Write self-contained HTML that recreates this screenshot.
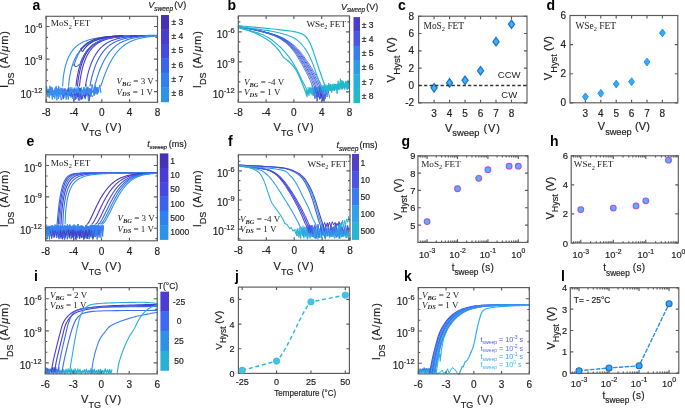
<!DOCTYPE html>
<html><head><meta charset="utf-8"><style>
html,body{margin:0;padding:0;background:#fff;}
svg{display:block;filter:blur(0.35px);}
</style></head><body>
<svg width="685" height="409" viewBox="0 0 685 409">
<rect width="685" height="409" fill="#fff"/>
<path d="M46.60,89.04 L47.45,95.66 L48.22,89.29 L49.09,92.33 L49.90,89.83 L50.93,91.92 L51.58,87.41 L52.62,94.62 L53.06,91.42 L54.23,94.44 L55.12,87.71 L55.53,93.88 L55.98,87.86 L56.58,91.64 L57.35,88.98 L58.42,93.84 L59.33,89.25 L60.26,93.56 L60.89,91.49 L62.08,95.28 L63.05,88.42 L63.63,92.80 L64.09,90.45 L64.81,95.31 L65.52,91.31 L66.60,91.50 L67.16,91.10 L67.94,95.91 L68.66,87.33 L69.56,95.00 L70.18,87.39 L70.84,95.84 L71.85,87.53 L72.45,91.95 L72.89,90.59 L73.44,94.02 L74.19,87.86 L75.18,92.09 L76.09,87.52 L76.83,92.46 L77.45,91.37 L78.49,92.87 L79.60,87.95 L80.31,95.34 L81.23,87.45 L82.42,92.46 L83.02,90.48 L83.69,92.83 L84.15,87.41 L85.01,92.59 L85.89,88.67 L86.66,95.82 L87.44,89.59 L88.54,92.32 L89.06,91.09 L90.11,92.62 L90.67,90.33 L91.82,92.38 L92.98,90.97 L93.86,93.40 L94.34,87.17 L95.51,92.57 L96.48,88.16 L97.54,94.18 L98.17,87.79" fill="none" stroke="#3a8ef0" stroke-width="1.1" stroke-linejoin="round" stroke-linecap="round" opacity="1" />
<path d="M46.60,86.38 L47.26,94.58 L48.47,89.38 L49.17,96.55 L49.81,86.09 L50.50,93.95 L51.01,86.97 L51.79,94.65 L52.36,87.99 L53.61,96.89 L54.65,89.80 L55.62,92.27 L56.11,86.10 L57.38,95.36 L58.69,86.12 L59.71,94.15 L60.82,87.75 L62.17,91.91 L63.11,90.05 L64.37,95.55 L65.46,90.36 L66.73,93.44 L67.80,90.95 L69.03,93.79 L70.19,90.75 L71.16,94.94 L71.95,89.20 L72.95,91.94 L73.97,91.46 L75.22,95.51 L76.02,90.04 L76.99,93.92 L78.19,86.46 L79.32,91.66 L80.31,88.65 L80.97,95.34 L81.86,89.38 L83.14,92.91 L83.60,87.66 L84.66,92.61 L85.27,90.98 L86.31,93.93 L87.56,87.80 L88.61,92.59 L89.45,90.43 L90.72,96.34 L91.52,89.21 L92.25,92.25 L93.15,90.60 L94.36,95.41 L95.67,87.52 L96.27,93.98 L96.97,87.18" fill="none" stroke="#3a8ef0" stroke-width="1.1" stroke-linejoin="round" stroke-linecap="round" opacity="1" />
<path d="M46.60,92.22 L47.89,96.88 L49.63,94.63 L50.87,95.25 L51.56,93.89 L52.27,99.53 L53.66,90.09 L55.34,94.88 L56.16,91.07 L56.85,100.35 L57.80,88.95 L58.52,99.00 L59.75,92.25 L61.25,100.20 L63.14,92.62 L64.05,97.96 L64.93,88.07 L66.20,99.57 L67.08,89.84 L68.18,99.46 L69.51,92.15 L71.14,97.41 L72.82,94.12 L73.58,101.05 L75.17,88.88 L76.41,98.97 L78.24,90.54 L79.63,100.69 L81.32,94.37 L82.57,99.15 L83.49,92.87 L85.20,99.08 L86.79,89.44 L88.61,101.37 L90.53,91.62 L92.20,96.91 L94.04,93.78" fill="none" stroke="#3388f0" stroke-width="0.9" stroke-linejoin="round" stroke-linecap="round" opacity="1" />
<path d="M46.60,87.50 L47.54,96.30 L48.81,89.92 L49.34,97.85 L49.90,91.80 L50.57,95.01 L51.86,87.84 L52.51,96.10 L53.73,92.04 L54.92,98.67 L55.92,92.69 L56.50,94.33 L57.53,88.74 L58.76,96.83 L59.78,92.06 L60.84,94.87 L61.72,92.07 L63.12,94.25 L64.47,92.81 L65.50,96.44 L66.20,90.22 L67.20,96.63 L67.73,92.82 L68.75,95.40 L70.05,90.38 L71.04,97.15 L71.60,90.23 L72.52,98.74 L73.94,88.62 L74.91,93.76 L75.85,91.89 L77.25,95.86 L78.07,88.15 L79.18,98.55 L79.81,91.68" fill="none" stroke="#2f95ee" stroke-width="0.9" stroke-linejoin="round" stroke-linecap="round" opacity="1" />
<path d="M62.00,88.41 L63.16,99.23 L64.48,89.58 L66.27,95.01 L68.24,87.89 L69.86,96.07 L70.97,90.85 L72.47,96.97 L73.93,90.84 L74.99,95.73 L76.80,91.63 L78.45,100.42 L80.23,93.21 L81.40,99.62 L83.49,93.54 L84.80,96.53 L87.08,88.58 L89.47,100.68 L90.49,88.74" fill="none" stroke="#4a50dc" stroke-width="0.9" stroke-linejoin="round" stroke-linecap="round" opacity="1" />
<path d="M74.00,89.69 L75.07,99.91 L76.73,93.13 L77.86,97.12 L79.99,88.12 L81.26,98.94 L83.80,94.29 L84.90,97.79 L87.17,91.27 L89.30,95.73" fill="none" stroke="#4a40d0" stroke-width="0.9" stroke-linejoin="round" stroke-linecap="round" opacity="1" />
<path d="M86.00,84.53 L86.64,91.76 L87.86,86.84 L88.64,89.92 L89.48,88.20 L91.27,93.63 L91.99,84.31 L93.73,91.31 L95.25,85.63 L96.41,91.58 L97.52,87.00 L98.14,92.51 L99.75,84.91 L100.90,92.70" fill="none" stroke="#3a7ff0" stroke-width="1.0" stroke-linejoin="round" stroke-linecap="round" opacity="1" />
<path d="M46.60,89.59 L47.07,93.54 L47.43,91.68 L48.34,94.11 L49.29,90.89 L49.92,93.80 L50.63,91.95 L51.54,92.77 L52.53,91.23 L53.42,94.44 L54.06,91.69 L55.02,94.08 L55.91,91.30 L56.54,94.17 L56.94,90.03 L57.62,92.03 L58.22,90.92 L59.01,92.70 L60.02,91.00 L60.60,93.98 L61.35,90.60 L61.98,95.00 L62.78,91.10 L63.66,94.94 L64.02,90.85 L64.89,92.77 L65.52,89.15 L66.01,93.13 L66.43,89.75 L67.41,93.65 L68.12,91.90 L68.87,94.99 L69.66,91.43 L70.07,93.79 L70.95,89.14 L71.95,92.48 L72.63,89.51 L73.32,93.83 L73.72,91.84 L74.36,93.58 L75.13,90.10 L75.68,93.97 L76.42,89.85 L77.27,92.89 L77.63,89.74 L78.01,92.47 L78.89,90.17 L79.87,94.25 L80.25,91.97 L81.27,92.22 L82.25,90.29 L82.93,94.92 L83.45,90.57 L84.46,94.17 L85.14,91.94 L86.06,93.81 L86.49,90.87 L87.16,92.61 L87.55,90.58 L87.98,93.33 L88.80,90.37 L89.33,93.75 L89.98,91.33 L90.70,94.99 L91.72,91.20 L92.23,92.34 L93.21,91.35 L94.00,93.08 L94.54,91.06 L95.28,93.78 L96.07,91.26 L96.56,92.75 L97.59,91.75 L98.56,92.12 L98.95,89.81" fill="none" stroke="#3a8ef0" stroke-width="1.0" stroke-linejoin="round" stroke-linecap="round" opacity="1" />
<path d="M62.60,86.00 L63.30,77.28 L64.00,72.61 L64.70,69.03 L65.40,66.10 L66.10,63.61 L66.80,61.45 L67.50,59.55 L68.20,57.85 L68.90,56.34 L69.60,54.96 L70.30,53.72 L71.00,52.58 L71.70,51.54 L72.40,50.58 L73.10,49.70 L73.80,48.88 L74.50,48.13 L75.20,47.42 L75.90,46.77 L76.60,46.16 L77.30,45.59 L78.00,45.06 L78.70,44.56 L79.40,44.10 L80.10,43.66 L80.80,43.25 L81.50,42.86 L82.20,42.49 L82.90,42.15 L83.60,41.83 L84.30,41.52 L85.00,41.23 L85.70,40.96 L86.40,40.70 L87.10,40.45 L87.80,40.22 L88.50,40.00 L89.20,39.79 L89.90,39.59 L90.60,39.41 L91.30,39.23 L92.00,39.06 L92.70,38.90 L93.40,38.74 L94.10,38.60 L94.80,38.46 L95.50,38.32 L96.20,38.20 L96.90,38.08 L97.60,37.96 L98.30,37.85 L99.00,37.75 L99.70,37.65 L100.40,37.55 L101.10,37.46 L101.80,37.37 L102.50,37.29 L103.20,37.21 L103.90,37.13 L104.60,37.06 L105.30,36.99 L106.00,36.92 L106.70,36.86 L107.40,36.79 L108.10,36.73 L108.80,36.68 L109.50,36.62 L110.20,36.57 L110.90,36.52 L111.60,36.47 L112.30,36.43 L113.00,36.38 L113.70,36.34 L114.40,36.30 L115.10,36.26 L115.80,36.22 L116.50,36.19 L117.20,36.15 L117.90,36.12 L118.60,36.09 L119.30,36.06 L120.00,36.03 L120.70,36.00 L121.40,35.97 L122.10,35.94 L122.80,35.92 L123.50,35.89 L124.20,35.87 L124.90,35.85 L125.60,35.83 L126.30,35.81 L127.00,35.79 L127.70,35.77 L128.40,35.75 L129.10,35.73 L129.80,35.71 L130.50,35.69 L131.20,35.68 L131.90,35.66 L132.60,35.65 L133.30,35.63 L134.00,35.62 L134.70,35.61 L135.40,35.59 L136.10,35.58 L136.80,35.57 L137.50,35.56 L138.20,35.54 L138.90,35.53 L139.60,35.52 L140.30,35.51 L141.00,35.50 L141.70,35.49 L142.40,35.48 L143.10,35.48 L143.80,35.47 L144.50,35.46 L145.20,35.45 L145.90,35.44 L146.60,35.44 L147.30,35.43 L148.00,35.42 L148.70,35.41 L149.40,35.41 L150.10,35.40 L150.80,35.40 L151.50,35.39 L152.20,35.38 L152.90,35.38 L153.60,35.37 L154.30,35.37 L155.00,35.36 L155.70,35.36 L156.40,35.35 L157.10,35.35 L157.50,35.35" fill="none" stroke="#2f8ff0" stroke-width="1.1" stroke-linejoin="round" stroke-linecap="round" opacity="1" />
<path d="M100.80,86.00 L101.50,83.98 L102.20,81.90 L102.90,79.87 L103.60,77.88 L104.30,75.97 L105.00,74.12 L105.70,72.34 L106.40,70.63 L107.10,68.98 L107.80,67.41 L108.50,65.90 L109.20,64.46 L109.90,63.08 L110.60,61.76 L111.30,60.49 L112.00,59.29 L112.70,58.13 L113.40,57.03 L114.10,55.98 L114.80,54.98 L115.50,54.02 L116.20,53.11 L116.90,52.24 L117.60,51.41 L118.30,50.62 L119.00,49.86 L119.70,49.15 L120.40,48.46 L121.10,47.81 L121.80,47.19 L122.50,46.60 L123.20,46.03 L123.90,45.50 L124.60,44.99 L125.30,44.50 L126.00,44.04 L126.70,43.60 L127.40,43.18 L128.10,42.78 L128.80,42.40 L129.50,42.04 L130.20,41.70 L130.90,41.38 L131.60,41.07 L132.30,40.77 L133.00,40.49 L133.70,40.22 L134.40,39.97 L135.10,39.73 L135.80,39.50 L136.50,39.28 L137.20,39.08 L137.90,38.88 L138.60,38.69 L139.30,38.52 L140.00,38.35 L140.70,38.19 L141.40,38.04 L142.10,37.89 L142.80,37.76 L143.50,37.62 L144.20,37.50 L144.90,37.38 L145.60,37.27 L146.30,37.17 L147.00,37.07 L147.70,36.97 L148.40,36.88 L149.10,36.79 L149.80,36.71 L150.50,36.63 L151.20,36.56 L151.90,36.49 L152.60,36.42 L153.30,36.36 L154.00,36.30 L154.70,36.24 L155.40,36.19 L156.10,36.14 L156.80,36.09 L157.50,36.04 L157.50,36.04" fill="none" stroke="#2f8ff0" stroke-width="1.1" stroke-linejoin="round" stroke-linecap="round" opacity="1" />
<path d="M68.60,86.00 L69.30,79.04 L70.00,74.85 L70.70,71.51 L71.40,68.69 L72.10,66.25 L72.80,64.08 L73.50,62.15 L74.20,60.41 L74.90,58.83 L75.60,57.39 L76.30,56.07 L77.00,54.85 L77.70,53.73 L78.40,52.70 L79.10,51.73 L79.80,50.84 L80.50,50.00 L81.20,49.23 L81.90,48.50 L82.60,47.82 L83.30,47.18 L84.00,46.58 L84.70,46.02 L85.40,45.49 L86.10,44.99 L86.80,44.52 L87.50,44.08 L88.20,43.66 L88.90,43.26 L89.60,42.89 L90.30,42.54 L91.00,42.20 L91.70,41.89 L92.40,41.59 L93.10,41.30 L93.80,41.03 L94.50,40.78 L95.20,40.53 L95.90,40.30 L96.60,40.08 L97.30,39.87 L98.00,39.67 L98.70,39.48 L99.40,39.30 L100.10,39.13 L100.80,38.97 L101.50,38.81 L102.20,38.66 L102.90,38.52 L103.60,38.39 L104.30,38.26 L105.00,38.13 L105.70,38.01 L106.40,37.90 L107.10,37.79 L107.80,37.69 L108.50,37.59 L109.20,37.50 L109.90,37.41 L110.60,37.32 L111.30,37.24 L112.00,37.16 L112.70,37.09 L113.40,37.01 L114.10,36.94 L114.80,36.88 L115.50,36.81 L116.20,36.75 L116.90,36.69 L117.60,36.64 L118.30,36.58 L119.00,36.53 L119.70,36.48 L120.40,36.44 L121.10,36.39 L121.80,36.35 L122.50,36.30 L123.20,36.26 L123.90,36.23 L124.60,36.19 L125.30,36.15 L126.00,36.12 L126.70,36.09 L127.40,36.05 L128.10,36.02 L128.80,35.99 L129.50,35.97 L130.20,35.94 L130.90,35.91 L131.60,35.89 L132.30,35.86 L133.00,35.84 L133.70,35.82 L134.40,35.80 L135.10,35.77 L135.80,35.75 L136.50,35.74 L137.20,35.72 L137.90,35.70 L138.60,35.68 L139.30,35.67 L140.00,35.65 L140.70,35.63 L141.40,35.62 L142.10,35.61 L142.80,35.59 L143.50,35.58 L144.20,35.57 L144.90,35.55 L145.60,35.54 L146.30,35.53 L147.00,35.52 L147.70,35.51 L148.40,35.50 L149.10,35.49 L149.80,35.48 L150.50,35.47 L150.54,35.47" fill="none" stroke="#3480ef" stroke-width="1.1" stroke-linejoin="round" stroke-linecap="round" opacity="1" />
<path d="M94.70,86.00 L95.40,83.43 L96.10,81.00 L96.80,78.68 L97.50,76.48 L98.20,74.40 L98.90,72.42 L99.60,70.54 L100.30,68.75 L101.00,67.06 L101.70,65.45 L102.40,63.92 L103.10,62.47 L103.80,61.09 L104.50,59.78 L105.20,58.54 L105.90,57.36 L106.60,56.24 L107.30,55.18 L108.00,54.17 L108.70,53.21 L109.40,52.30 L110.10,51.43 L110.80,50.61 L111.50,49.84 L112.20,49.10 L112.90,48.39 L113.60,47.73 L114.30,47.09 L115.00,46.49 L115.70,45.92 L116.40,45.38 L117.10,44.87 L117.80,44.38 L118.50,43.91 L119.20,43.47 L119.90,43.06 L120.60,42.66 L121.30,42.28 L122.00,41.92 L122.70,41.58 L123.40,41.26 L124.10,40.96 L124.80,40.66 L125.50,40.39 L126.20,40.13 L126.90,39.88 L127.60,39.64 L128.30,39.42 L129.00,39.20 L129.70,39.00 L130.40,38.81 L131.10,38.63 L131.80,38.45 L132.50,38.29 L133.20,38.13 L133.90,37.98 L134.60,37.84 L135.30,37.71 L136.00,37.58 L136.70,37.46 L137.40,37.35 L138.10,37.24 L138.80,37.14 L139.50,37.04 L140.20,36.95 L140.90,36.86 L141.60,36.77 L142.30,36.69 L143.00,36.62 L143.70,36.55 L144.40,36.48 L145.10,36.41 L145.80,36.35 L146.50,36.30 L147.20,36.24 L147.90,36.19 L148.60,36.14 L149.30,36.09 L150.00,36.05 L150.54,36.01" fill="none" stroke="#3480ef" stroke-width="1.1" stroke-linejoin="round" stroke-linecap="round" opacity="1" />
<path d="M76.00,86.00 L76.70,79.82 L77.40,75.74 L78.10,72.38 L78.80,69.49 L79.50,66.96 L80.20,64.70 L80.90,62.67 L81.60,60.83 L82.30,59.15 L83.00,57.62 L83.70,56.21 L84.40,54.92 L85.10,53.72 L85.80,52.62 L86.50,51.59 L87.20,50.64 L87.90,49.75 L88.60,48.92 L89.30,48.15 L90.00,47.43 L90.70,46.76 L91.40,46.13 L92.10,45.53 L92.80,44.98 L93.50,44.46 L94.20,43.97 L94.90,43.51 L95.60,43.08 L96.30,42.67 L97.00,42.29 L97.70,41.93 L98.40,41.58 L99.10,41.26 L99.80,40.96 L100.50,40.67 L101.20,40.40 L101.90,40.15 L102.60,39.90 L103.30,39.67 L104.00,39.46 L104.70,39.25 L105.40,39.06 L106.10,38.87 L106.80,38.70 L107.50,38.53 L108.20,38.37 L108.90,38.23 L109.60,38.08 L110.30,37.95 L111.00,37.82 L111.70,37.70 L112.40,37.59 L113.10,37.48 L113.80,37.37 L114.50,37.27 L115.20,37.18 L115.90,37.09 L116.60,37.00 L117.30,36.92 L118.00,36.85 L118.70,36.77 L119.40,36.70 L120.10,36.64 L120.80,36.57 L121.50,36.51 L122.20,36.45 L122.90,36.40 L123.60,36.35 L124.30,36.30 L125.00,36.25 L125.70,36.20 L126.40,36.16 L127.10,36.12 L127.80,36.08 L128.50,36.04 L129.20,36.01 L129.90,35.97 L130.60,35.94 L131.30,35.91 L132.00,35.88 L132.70,35.85 L133.40,35.82 L134.10,35.80 L134.80,35.77 L135.50,35.75 L136.20,35.72 L136.90,35.70 L137.60,35.68 L138.30,35.66 L139.00,35.64 L139.70,35.62 L140.40,35.61 L141.10,35.59 L141.80,35.57 L142.50,35.56 L143.20,35.54 L143.58,35.54" fill="none" stroke="#4a40d4" stroke-width="1.1" stroke-linejoin="round" stroke-linecap="round" opacity="1" />
<path d="M90.00,86.00 L90.70,82.07 L91.40,78.91 L92.10,76.11 L92.80,73.58 L93.50,71.26 L94.20,69.12 L94.90,67.14 L95.60,65.30 L96.30,63.59 L97.00,62.00 L97.70,60.50 L98.40,59.11 L99.10,57.80 L99.80,56.57 L100.50,55.42 L101.20,54.33 L101.90,53.31 L102.60,52.35 L103.30,51.45 L104.00,50.60 L104.70,49.79 L105.40,49.04 L106.10,48.32 L106.80,47.65 L107.50,47.01 L108.20,46.40 L108.90,45.83 L109.60,45.30 L110.30,44.78 L111.00,44.30 L111.70,43.85 L112.40,43.41 L113.10,43.00 L113.80,42.62 L114.50,42.25 L115.20,41.90 L115.90,41.57 L116.60,41.26 L117.30,40.96 L118.00,40.68 L118.70,40.41 L119.40,40.16 L120.10,39.91 L120.80,39.69 L121.50,39.47 L122.20,39.26 L122.90,39.07 L123.60,38.88 L124.30,38.70 L125.00,38.54 L125.70,38.38 L126.40,38.23 L127.10,38.08 L127.80,37.94 L128.50,37.81 L129.20,37.69 L129.90,37.57 L130.60,37.46 L131.30,37.35 L132.00,37.25 L132.70,37.16 L133.40,37.07 L134.10,36.98 L134.80,36.89 L135.50,36.82 L136.20,36.74 L136.90,36.67 L137.60,36.60 L138.30,36.54 L139.00,36.47 L139.70,36.41 L140.40,36.36 L141.10,36.31 L141.80,36.25 L142.50,36.21 L143.20,36.16 L143.58,36.14" fill="none" stroke="#3c63ec" stroke-width="1.1" stroke-linejoin="round" stroke-linecap="round" opacity="1" />
<path d="M77.50,86.00 L78.20,79.55 L78.90,75.31 L79.60,71.84 L80.30,68.87 L81.00,66.27 L81.70,63.96 L82.40,61.89 L83.10,60.02 L83.80,58.33 L84.50,56.78 L85.20,55.36 L85.90,54.07 L86.60,52.87 L87.30,51.77 L88.00,50.74 L88.70,49.80 L89.40,48.92 L90.10,48.11 L90.80,47.35 L91.50,46.64 L92.20,45.98 L92.90,45.37 L93.60,44.79 L94.30,44.25 L95.00,43.75 L95.70,43.28 L96.40,42.84 L97.10,42.42 L97.80,42.03 L98.50,41.66 L99.20,41.32 L99.90,40.99 L100.60,40.69 L101.30,40.40 L102.00,40.13 L102.70,39.88 L103.40,39.63 L104.10,39.41 L104.80,39.19 L105.50,38.99 L106.20,38.80 L106.90,38.62 L107.60,38.45 L108.30,38.29 L109.00,38.13 L109.70,37.99 L110.40,37.85 L111.10,37.72 L111.80,37.60 L112.50,37.48 L113.20,37.37 L113.90,37.27 L114.60,37.17 L115.30,37.07 L116.00,36.99 L116.70,36.90 L117.40,36.82 L118.10,36.74 L118.80,36.67 L119.50,36.60 L120.20,36.54 L120.90,36.47 L121.60,36.42 L122.30,36.36 L123.00,36.31 L123.70,36.26 L124.40,36.21 L125.10,36.16 L125.80,36.12 L126.50,36.08 L127.20,36.04 L127.90,36.00 L128.60,35.96 L129.30,35.93 L130.00,35.90 L130.70,35.86 L131.40,35.83 L132.10,35.81 L132.80,35.78 L133.50,35.75 L134.20,35.73 L134.90,35.71 L135.60,35.68 L136.30,35.66 L136.61,35.65" fill="none" stroke="#4633b4" stroke-width="1.1" stroke-linejoin="round" stroke-linecap="round" opacity="1" />
<path d="M85.50,86.00 L86.20,81.52 L86.90,78.07 L87.60,75.06 L88.30,72.37 L89.00,69.93 L89.70,67.71 L90.40,65.66 L91.10,63.78 L91.80,62.04 L92.50,60.43 L93.20,58.93 L93.90,57.54 L94.60,56.24 L95.30,55.02 L96.00,53.89 L96.70,52.83 L97.40,51.83 L98.10,50.90 L98.80,50.03 L99.50,49.21 L100.20,48.44 L100.90,47.72 L101.60,47.04 L102.30,46.40 L103.00,45.79 L103.70,45.23 L104.40,44.69 L105.10,44.19 L105.80,43.71 L106.50,43.26 L107.20,42.84 L107.90,42.44 L108.60,42.07 L109.30,41.71 L110.00,41.37 L110.70,41.05 L111.40,40.75 L112.10,40.47 L112.80,40.20 L113.50,39.95 L114.20,39.71 L114.90,39.48 L115.60,39.26 L116.30,39.06 L117.00,38.86 L117.70,38.68 L118.40,38.51 L119.10,38.34 L119.80,38.19 L120.50,38.04 L121.20,37.90 L121.90,37.76 L122.60,37.64 L123.30,37.52 L124.00,37.40 L124.70,37.30 L125.40,37.19 L126.10,37.10 L126.80,37.01 L127.50,36.92 L128.20,36.83 L128.90,36.76 L129.60,36.68 L130.30,36.61 L131.00,36.54 L131.70,36.48 L132.40,36.42 L133.10,36.36 L133.80,36.30 L134.50,36.25 L135.20,36.20 L135.90,36.15 L136.60,36.11 L136.61,36.11" fill="none" stroke="#4648e0" stroke-width="1.1" stroke-linejoin="round" stroke-linecap="round" opacity="1" />
<path d="M79.50,86.00 L80.20,79.55 L80.90,75.31 L81.60,71.84 L82.30,68.87 L83.00,66.27 L83.70,63.96 L84.40,61.89 L85.10,60.02 L85.80,58.33 L86.50,56.78 L87.20,55.36 L87.90,54.07 L88.60,52.87 L89.30,51.77 L90.00,50.74 L90.70,49.80 L91.40,48.92 L92.10,48.11 L92.80,47.35 L93.50,46.64 L94.20,45.98 L94.90,45.37 L95.60,44.79 L96.30,44.25 L97.00,43.75 L97.70,43.28 L98.40,42.84 L99.10,42.42 L99.80,42.03 L100.50,41.66 L101.20,41.32 L101.90,40.99 L102.60,40.69 L103.30,40.40 L104.00,40.13 L104.70,39.88 L105.40,39.63 L106.10,39.41 L106.80,39.19 L107.50,38.99 L108.20,38.80 L108.90,38.62 L109.60,38.45 L110.30,38.29 L111.00,38.13 L111.70,37.99 L112.40,37.85 L113.10,37.72 L113.80,37.60 L114.50,37.48 L115.20,37.37 L115.90,37.27 L116.60,37.17 L117.30,37.07 L118.00,36.99 L118.70,36.90 L119.40,36.82 L120.10,36.74 L120.80,36.67 L121.50,36.60 L122.20,36.54 L122.90,36.47 L123.60,36.42 L124.30,36.36 L125.00,36.31 L125.70,36.26 L126.40,36.21 L127.10,36.16 L127.80,36.12 L128.50,36.08 L129.20,36.04 L129.90,36.00 L130.60,35.96 L131.30,35.93 L132.00,35.90 L132.70,35.86 L133.40,35.83 L134.10,35.81 L134.80,35.78 L135.50,35.75 L136.20,35.73 L136.61,35.72" fill="none" stroke="#4a3ccf" stroke-width="1.1" stroke-linejoin="round" stroke-linecap="round" opacity="1" />
<path d="M74.00,65.52 L74.70,63.16 L75.40,61.05 L76.10,59.15 L76.80,57.44 L77.50,55.88 L78.20,54.46 L78.90,53.16 L79.60,51.97 L80.30,50.87 L81.00,49.86 L81.70,48.92 L82.40,48.06 L83.10,47.26 L83.80,46.51 L84.50,45.82 L85.20,45.18 L85.90,44.59 L86.60,44.03 L87.30,43.51 L88.00,43.03 L88.70,42.57 L89.40,42.15 L90.10,41.75 L90.80,41.38 L91.50,41.03 L92.20,40.71 L92.90,40.40 L93.60,40.11 L94.30,39.84 L95.00,39.59 L95.70,39.35 L96.40,39.13 L97.10,38.92 L97.80,38.72 L98.50,38.53 L99.20,38.36 L99.90,38.19 L100.60,38.03 L101.30,37.89 L102.00,37.75 L102.70,37.61 L103.40,37.49 L104.10,37.37 L104.80,37.26 L105.50,37.16 L106.20,37.06 L106.90,36.96 L107.60,36.87 L108.30,36.79 L109.00,36.71 L109.70,36.64 L110.40,36.57 L111.10,36.50 L111.80,36.43 L112.50,36.37 L113.20,36.32 L113.90,36.26 L114.60,36.21 L115.30,36.16 L116.00,36.11 L116.70,36.07 L117.40,36.03 L118.10,35.99 L118.80,35.95 L119.50,35.92 L120.20,35.88 L120.90,35.85 L121.60,35.82 L122.30,35.79 L123.00,35.76 L123.70,35.74 L124.40,35.71 L125.10,35.69 L125.80,35.66 L126.50,35.64 L127.20,35.62 L127.90,35.60 L128.60,35.58 L129.30,35.57 L129.65,35.56" fill="none" stroke="#3a7ff0" stroke-width="1.1" stroke-linejoin="round" stroke-linecap="round" opacity="1" />
<path d="M74.00,64.40 L74.12,64.60 L74.27,64.91 L74.45,65.27 L74.65,65.66 L74.88,66.02 L75.15,66.33 L75.46,66.54 L75.80,66.60 L76.22,66.51 L76.72,66.29 L77.28,65.98 L77.87,65.60 L78.45,65.19 L78.98,64.78 L79.44,64.41 L79.80,64.10 L80.05,63.83 L80.21,63.59 L80.30,63.36 L80.36,63.13 L80.38,62.92 L80.40,62.70 L80.44,62.49 L80.50,62.27 L80.59,62.05 L80.67,61.84 L80.76,61.63 L80.85,61.42 L80.94,61.21 L81.03,61.00 L81.11,60.80 L81.20,60.59 L81.29,60.39 L81.38,60.19 L81.46,60.00 L81.55,59.80 L81.64,59.61 L81.73,59.42 L81.81,59.23 L81.90,59.04 L81.99,58.86 L82.08,58.67 L82.16,58.49 L82.25,58.31 L82.34,58.13 L82.43,57.96 L82.51,57.78 L82.60,57.61 L82.69,57.44 L82.78,57.27 L82.86,57.10 L82.95,56.93 L83.04,56.77 L83.13,56.60 L83.21,56.44 L83.30,56.28 L83.39,56.12 L83.48,55.96 L83.56,55.80 L83.65,55.65 L83.74,55.49 L83.83,55.34 L83.91,55.19 L84.00,55.04 L84.09,54.89 L84.18,54.74 L84.26,54.60 L84.35,54.45 L84.44,54.31 L84.53,54.17 L84.61,54.03 L84.70,53.89 L84.79,53.75 L84.88,53.61 L84.96,53.48 L85.05,53.34 L85.14,53.21 L85.23,53.08 L85.31,52.94 L85.40,52.81 L85.49,52.68 L85.58,52.56 L85.66,52.43 L85.75,52.30 L85.84,52.18 L85.93,52.06 L86.01,51.93 L86.10,51.81 L86.19,51.69 L86.28,51.57 L86.36,51.45 L86.45,51.33 L86.54,51.22 L86.63,51.10 L86.71,50.99 L86.80,50.87 L86.89,50.76 L86.98,50.65 L87.06,50.54 L87.15,50.43 L87.24,50.32 L87.33,50.21 L87.41,50.10 L87.50,50.00 L87.59,49.89 L87.68,49.79 L87.76,49.68 L87.85,49.58 L87.94,49.48 L88.03,49.38 L88.11,49.28 L88.20,49.18 L88.29,49.08 L88.38,48.98 L88.46,48.88 L88.55,48.78 L88.64,48.69 L88.73,48.59 L88.81,48.50 L88.90,48.41 L88.99,48.31 L89.08,48.22 L89.16,48.13 L89.25,48.04 L89.34,47.95 L89.43,47.86 L89.51,47.77 L89.60,47.68 L89.69,47.60 L89.78,47.51 L89.86,47.42 L89.95,47.34 L90.04,47.25 L90.13,47.17 L90.21,47.09 L90.30,47.01 L90.39,46.92 L90.48,46.84 L90.56,46.76 L90.65,46.68 L90.74,46.60 L90.83,46.52 L90.91,46.45 L91.00,46.37 L91.09,46.29 L91.18,46.22 L91.26,46.14 L91.35,46.06 L91.44,45.99 L91.53,45.92 L91.61,45.84 L91.70,45.77 L91.79,45.70 L91.88,45.63 L91.96,45.55 L92.05,45.48 L92.14,45.41 L92.23,45.34 L92.31,45.27 L92.40,45.21 L92.49,45.14 L92.58,45.07 L92.66,45.00 L92.75,44.94 L92.84,44.87 L92.93,44.81 L93.01,44.74 L93.10,44.68 L93.19,44.61 L93.28,44.55 L93.36,44.48 L93.45,44.42 L93.54,44.36 L93.63,44.30 L93.71,44.24 L93.80,44.18 L93.89,44.12 L93.98,44.06 L94.06,44.00 L94.15,43.94 L94.24,43.88 L94.33,43.82 L94.41,43.76 L94.50,43.71 L94.59,43.65 L94.68,43.59 L94.76,43.54 L94.85,43.48 L94.94,43.43 L95.03,43.37 L95.11,43.32 L95.20,43.26 L95.29,43.21 L95.38,43.16 L95.46,43.10 L95.55,43.05 L95.64,43.00 L95.73,42.95 L95.81,42.89 L95.90,42.84 L95.99,42.79 L96.08,42.74 L96.16,42.69 L96.25,42.64 L96.34,42.59 L96.43,42.55 L96.51,42.50 L96.60,42.45 L96.69,42.40 L96.78,42.35 L96.86,42.31 L96.95,42.26 L97.04,42.21 L97.13,42.17 L97.21,42.12 L97.30,42.08 L97.39,42.03 L97.48,41.99 L97.56,41.94 L97.65,41.90 L97.74,41.85 L97.83,41.81 L97.91,41.77 L98.00,41.72 L98.09,41.68 L98.18,41.64 L98.26,41.60 L98.35,41.56 L98.44,41.51 L98.53,41.47 L98.61,41.43 L98.70,41.39 L98.79,41.35 L98.88,41.31 L98.96,41.27 L99.05,41.23 L99.14,41.19 L99.23,41.15 L99.31,41.12 L99.40,41.08 L99.49,41.04 L99.58,41.00 L99.66,40.96 L99.75,40.93 L99.84,40.89 L99.93,40.85 L100.01,40.82 L100.10,40.78 L100.19,40.74 L100.28,40.71 L100.36,40.67 L100.45,40.64 L100.54,40.60 L100.63,40.57 L100.71,40.53 L100.80,40.50 L100.89,40.47 L100.98,40.43 L101.06,40.40 L101.15,40.37 L101.24,40.33 L101.33,40.30 L101.41,40.27 L101.50,40.23 L101.59,40.20 L101.68,40.17 L101.76,40.14 L101.85,40.11 L101.94,40.08 L102.03,40.04 L102.11,40.01 L102.20,39.98 L102.29,39.95 L102.38,39.92 L102.46,39.89 L102.55,39.86 L102.64,39.83 L102.73,39.80 L102.81,39.77 L102.90,39.75 L102.99,39.72 L103.08,39.69 L103.16,39.66 L103.25,39.63 L103.34,39.60 L103.43,39.57 L103.51,39.55 L103.60,39.52 L103.69,39.49 L103.78,39.47 L103.86,39.44 L103.95,39.41 L104.04,39.39 L104.13,39.36 L104.21,39.33 L104.30,39.31 L104.39,39.28 L104.48,39.25 L104.56,39.23 L104.65,39.20 L104.74,39.18 L104.83,39.15 L104.91,39.13 L105.00,39.10 L105.09,39.08 L105.18,39.06 L105.26,39.03 L105.35,39.01 L105.44,38.98 L105.53,38.96 L105.61,38.94 L105.70,38.91 L105.79,38.89 L105.88,38.87 L105.96,38.84 L106.05,38.82 L106.14,38.80 L106.23,38.78 L106.31,38.75 L106.40,38.73 L106.49,38.71 L106.58,38.69 L106.66,38.67 L106.75,38.64 L106.84,38.62 L106.93,38.60 L107.01,38.58 L107.10,38.56 L107.19,38.54 L107.28,38.52 L107.36,38.50 L107.45,38.48 L107.54,38.46 L107.63,38.44 L107.71,38.42 L107.80,38.40 L107.89,38.38 L107.98,38.36 L108.06,38.34 L108.15,38.32 L108.24,38.30 L108.33,38.28 L108.41,38.26 L108.50,38.24 L108.59,38.22 L108.68,38.20 L108.76,38.19 L108.85,38.17 L108.94,38.15 L109.03,38.13 L109.11,38.11 L109.20,38.09 L109.29,38.08 L109.38,38.06 L109.46,38.04 L109.55,38.02 L109.64,38.01 L109.73,37.99 L109.81,37.97 L109.90,37.95 L109.99,37.94 L110.08,37.92 L110.16,37.90 L110.25,37.89 L110.34,37.87 L110.43,37.86 L110.51,37.84 L110.60,37.82 L110.69,37.81 L110.78,37.79 L110.86,37.77 L110.95,37.76 L111.04,37.74 L111.13,37.73 L111.21,37.71 L111.30,37.70 L111.39,37.68 L111.48,37.67 L111.56,37.65 L111.65,37.64 L111.74,37.62 L111.83,37.61 L111.91,37.59 L112.00,37.58 L112.09,37.56 L112.18,37.55 L112.26,37.53 L112.35,37.52 L112.44,37.51 L112.53,37.49 L112.61,37.48 L112.70,37.46 L112.79,37.45 L112.88,37.44 L112.96,37.42 L113.05,37.41 L113.14,37.40 L113.23,37.38 L113.31,37.37 L113.40,37.36 L113.49,37.34 L113.58,37.33 L113.66,37.32 L113.75,37.31 L113.84,37.29 L113.93,37.28 L114.01,37.27 L114.10,37.26 L114.19,37.24 L114.28,37.23 L114.36,37.22 L114.45,37.21 L114.54,37.19 L114.63,37.18 L114.71,37.17 L114.80,37.16 L114.89,37.15 L114.98,37.13 L115.06,37.12 L115.15,37.11 L115.24,37.10 L115.33,37.09 L115.41,37.08 L115.50,37.07 L115.59,37.05 L115.68,37.04 L115.76,37.03 L115.85,37.02 L115.94,37.01 L116.03,37.00 L116.11,36.99 L116.20,36.98 L116.29,36.97 L116.38,36.96 L116.46,36.95 L116.55,36.94 L116.64,36.93 L116.73,36.92 L116.81,36.91 L116.90,36.89 L116.99,36.88 L117.08,36.87 L117.16,36.86 L117.25,36.85 L117.34,36.84 L117.43,36.84 L117.51,36.83 L117.60,36.82 L117.69,36.81 L117.78,36.80 L117.86,36.79 L117.95,36.78 L118.04,36.77 L118.13,36.76 L118.21,36.75 L118.30,36.74 L118.39,36.73 L118.48,36.72 L118.56,36.71 L118.65,36.70 L118.74,36.70 L118.83,36.69 L118.91,36.68 L119.00,36.67 L119.09,36.66 L119.18,36.65 L119.26,36.64 L119.35,36.63 L119.44,36.63 L119.53,36.62 L119.61,36.61 L119.70,36.60 L119.79,36.59 L119.88,36.58 L119.96,36.58 L120.05,36.57 L120.14,36.56 L120.23,36.55 L120.31,36.54 L120.40,36.54 L120.49,36.53 L120.58,36.52 L120.66,36.51 L120.75,36.50 L120.84,36.50 L120.93,36.49 L121.01,36.48 L121.10,36.47 L121.19,36.47 L121.28,36.46 L121.36,36.45 L121.45,36.44 L121.54,36.44 L121.63,36.43 L121.71,36.42 L121.80,36.42 L121.89,36.41 L121.98,36.40 L122.06,36.39 L122.15,36.39 L122.24,36.38 L122.33,36.37 L122.41,36.37 L122.50,36.36 L122.59,36.35 L122.68,36.35 L122.76,36.34 L122.85,36.33 L122.94,36.33 L123.03,36.32 L123.11,36.31 L123.20,36.31 L123.29,36.30 L123.38,36.29 L123.46,36.29 L123.55,36.28 L123.64,36.27 L123.73,36.27 L123.81,36.26 L123.90,36.26 L123.99,36.25 L124.08,36.24 L124.16,36.24 L124.25,36.23 L124.34,36.22 L124.43,36.22 L124.51,36.21 L124.60,36.21 L124.69,36.20 L124.78,36.20 L124.86,36.19 L124.95,36.18 L125.04,36.18 L125.13,36.17 L125.21,36.17 L125.30,36.16 L125.39,36.16 L125.48,36.15 L125.56,36.14 L125.65,36.14 L125.74,36.13 L125.83,36.13 L125.91,36.12 L126.00,36.12 L126.09,36.11 L126.18,36.11 L126.26,36.10 L126.35,36.10 L126.44,36.09 L126.53,36.09 L126.61,36.08 L126.70,36.08 L126.79,36.07 L126.88,36.07 L126.96,36.06 L127.05,36.06 L127.14,36.05 L127.23,36.05 L127.31,36.04 L127.40,36.04 L127.49,36.03 L127.58,36.03 L127.66,36.02 L127.75,36.02 L127.84,36.01 L127.93,36.01 L128.01,36.00 L128.10,36.00 L128.19,35.99 L128.28,35.99 L128.36,35.98 L128.45,35.98 L128.54,35.98 L128.63,35.97 L128.71,35.97 L128.80,35.96 L128.89,35.96 L128.99,35.95 L129.09,35.95 L129.18,35.94 L129.28,35.94 L129.36,35.93 L129.44,35.93 L129.50,35.93 L129.55,35.93 L129.58,35.92 L129.60,35.92 L129.62,35.92 L129.63,35.92 L129.64,35.92 L129.64,35.92 L129.65,35.92" fill="none" stroke="#3d6cf0" stroke-width="1.1" stroke-linejoin="round" stroke-linecap="round" opacity="1" />
<path d="M81.10,48.92 L81.80,48.06 L82.50,47.26 L83.20,46.51 L83.90,45.82 L84.60,45.18 L85.30,44.59 L86.00,44.03 L86.70,43.51 L87.40,43.03 L88.10,42.57 L88.80,42.15 L89.50,41.75 L90.20,41.38 L90.90,41.03 L91.60,40.71 L92.30,40.40 L93.00,40.11 L93.70,39.84 L94.40,39.59 L95.10,39.35 L95.80,39.13 L96.50,38.92 L97.20,38.72 L97.90,38.53 L98.60,38.36 L99.30,38.19 L100.00,38.03 L100.70,37.89 L101.40,37.75 L102.10,37.61 L102.80,37.49 L103.50,37.37 L104.20,37.26 L104.90,37.16 L105.60,37.06 L106.30,36.96 L107.00,36.87 L107.70,36.79 L108.40,36.71 L109.10,36.64 L109.80,36.57 L110.50,36.50 L111.20,36.43 L111.90,36.37 L112.60,36.32 L113.30,36.26 L114.00,36.21 L114.70,36.16 L115.40,36.11 L116.10,36.07 L116.80,36.03 L117.50,35.99 L118.20,35.95 L118.90,35.92 L119.60,35.88 L120.30,35.85 L121.00,35.82 L121.70,35.79 L122.40,35.76 L122.69,35.75" fill="none" stroke="#4633b4" stroke-width="1.1" stroke-linejoin="round" stroke-linecap="round" opacity="1" />
<path d="M81.10,48.60 L81.19,48.85 L81.31,49.23 L81.46,49.69 L81.62,50.17 L81.80,50.64 L81.99,51.03 L82.19,51.30 L82.40,51.40 L82.63,51.31 L82.90,51.05 L83.19,50.68 L83.49,50.24 L83.78,49.76 L84.05,49.31 L84.30,48.91 L84.50,48.62 L84.65,48.42 L84.77,48.28 L84.87,48.17 L84.94,48.09 L85.00,48.02 L85.06,47.96 L85.12,47.89 L85.20,47.81 L85.29,47.71 L85.38,47.61 L85.46,47.52 L85.55,47.42 L85.64,47.33 L85.73,47.23 L85.81,47.14 L85.90,47.05 L85.99,46.96 L86.08,46.87 L86.16,46.78 L86.25,46.69 L86.34,46.60 L86.43,46.51 L86.51,46.42 L86.60,46.34 L86.69,46.25 L86.78,46.17 L86.86,46.09 L86.95,46.00 L87.04,45.92 L87.13,45.84 L87.21,45.76 L87.30,45.68 L87.39,45.60 L87.48,45.52 L87.56,45.44 L87.65,45.36 L87.74,45.29 L87.83,45.21 L87.91,45.13 L88.00,45.06 L88.09,44.99 L88.18,44.91 L88.26,44.84 L88.35,44.77 L88.44,44.69 L88.53,44.62 L88.61,44.55 L88.70,44.48 L88.79,44.41 L88.88,44.34 L88.96,44.27 L89.05,44.21 L89.14,44.14 L89.23,44.07 L89.31,44.01 L89.40,43.94 L89.49,43.88 L89.58,43.81 L89.66,43.75 L89.75,43.68 L89.84,43.62 L89.93,43.56 L90.01,43.50 L90.10,43.43 L90.19,43.37 L90.28,43.31 L90.36,43.25 L90.45,43.19 L90.54,43.13 L90.63,43.08 L90.71,43.02 L90.80,42.96 L90.89,42.90 L90.98,42.85 L91.06,42.79 L91.15,42.73 L91.24,42.68 L91.33,42.62 L91.41,42.57 L91.50,42.52 L91.59,42.46 L91.68,42.41 L91.76,42.36 L91.85,42.30 L91.94,42.25 L92.03,42.20 L92.11,42.15 L92.20,42.10 L92.29,42.05 L92.38,42.00 L92.46,41.95 L92.55,41.90 L92.64,41.85 L92.73,41.80 L92.81,41.76 L92.90,41.71 L92.99,41.66 L93.08,41.61 L93.16,41.57 L93.25,41.52 L93.34,41.48 L93.43,41.43 L93.51,41.39 L93.60,41.34 L93.69,41.30 L93.78,41.25 L93.86,41.21 L93.95,41.17 L94.04,41.12 L94.13,41.08 L94.21,41.04 L94.30,41.00 L94.39,40.95 L94.48,40.91 L94.56,40.87 L94.65,40.83 L94.74,40.79 L94.83,40.75 L94.91,40.71 L95.00,40.67 L95.09,40.63 L95.18,40.59 L95.26,40.56 L95.35,40.52 L95.44,40.48 L95.53,40.44 L95.61,40.40 L95.70,40.37 L95.79,40.33 L95.88,40.29 L95.96,40.26 L96.05,40.22 L96.14,40.19 L96.23,40.15 L96.31,40.12 L96.40,40.08 L96.49,40.05 L96.58,40.01 L96.66,39.98 L96.75,39.94 L96.84,39.91 L96.93,39.88 L97.01,39.84 L97.10,39.81 L97.19,39.78 L97.28,39.75 L97.36,39.71 L97.45,39.68 L97.54,39.65 L97.63,39.62 L97.71,39.59 L97.80,39.56 L97.89,39.53 L97.98,39.50 L98.06,39.47 L98.15,39.44 L98.24,39.41 L98.33,39.38 L98.41,39.35 L98.50,39.32 L98.59,39.29 L98.68,39.26 L98.76,39.23 L98.85,39.21 L98.94,39.18 L99.03,39.15 L99.11,39.12 L99.20,39.09 L99.29,39.07 L99.38,39.04 L99.46,39.01 L99.55,38.99 L99.64,38.96 L99.73,38.94 L99.81,38.91 L99.90,38.88 L99.99,38.86 L100.08,38.83 L100.16,38.81 L100.25,38.78 L100.34,38.76 L100.43,38.73 L100.51,38.71 L100.60,38.68 L100.69,38.66 L100.78,38.64 L100.86,38.61 L100.95,38.59 L101.04,38.57 L101.13,38.54 L101.21,38.52 L101.30,38.50 L101.39,38.47 L101.48,38.45 L101.56,38.43 L101.65,38.41 L101.74,38.38 L101.83,38.36 L101.91,38.34 L102.00,38.32 L102.09,38.30 L102.18,38.28 L102.26,38.25 L102.35,38.23 L102.44,38.21 L102.53,38.19 L102.61,38.17 L102.70,38.15 L102.79,38.13 L102.88,38.11 L102.96,38.09 L103.05,38.07 L103.14,38.05 L103.23,38.03 L103.31,38.01 L103.40,37.99 L103.49,37.97 L103.58,37.96 L103.66,37.94 L103.75,37.92 L103.84,37.90 L103.93,37.88 L104.01,37.86 L104.10,37.85 L104.19,37.83 L104.28,37.81 L104.36,37.79 L104.45,37.77 L104.54,37.76 L104.63,37.74 L104.71,37.72 L104.80,37.70 L104.89,37.69 L104.98,37.67 L105.06,37.65 L105.15,37.64 L105.24,37.62 L105.33,37.60 L105.41,37.59 L105.50,37.57 L105.59,37.56 L105.68,37.54 L105.76,37.52 L105.85,37.51 L105.94,37.49 L106.03,37.48 L106.11,37.46 L106.20,37.45 L106.29,37.43 L106.38,37.42 L106.46,37.40 L106.55,37.39 L106.64,37.37 L106.73,37.36 L106.81,37.34 L106.90,37.33 L106.99,37.31 L107.08,37.30 L107.16,37.29 L107.25,37.27 L107.34,37.26 L107.43,37.24 L107.51,37.23 L107.60,37.22 L107.69,37.20 L107.78,37.19 L107.86,37.18 L107.95,37.16 L108.04,37.15 L108.13,37.14 L108.21,37.13 L108.30,37.11 L108.39,37.10 L108.48,37.09 L108.56,37.07 L108.65,37.06 L108.74,37.05 L108.83,37.04 L108.91,37.02 L109.00,37.01 L109.09,37.00 L109.18,36.99 L109.26,36.98 L109.35,36.96 L109.44,36.95 L109.53,36.94 L109.61,36.93 L109.70,36.92 L109.79,36.91 L109.88,36.90 L109.96,36.88 L110.05,36.87 L110.14,36.86 L110.23,36.85 L110.31,36.84 L110.40,36.83 L110.49,36.82 L110.58,36.81 L110.66,36.80 L110.75,36.79 L110.84,36.78 L110.93,36.77 L111.01,36.76 L111.10,36.74 L111.19,36.73 L111.28,36.72 L111.36,36.71 L111.45,36.70 L111.54,36.69 L111.63,36.68 L111.71,36.67 L111.80,36.67 L111.89,36.66 L111.98,36.65 L112.06,36.64 L112.15,36.63 L112.24,36.62 L112.33,36.61 L112.41,36.60 L112.50,36.59 L112.59,36.58 L112.68,36.57 L112.76,36.56 L112.85,36.55 L112.94,36.54 L113.03,36.54 L113.11,36.53 L113.20,36.52 L113.29,36.51 L113.38,36.50 L113.46,36.49 L113.55,36.48 L113.64,36.48 L113.73,36.47 L113.81,36.46 L113.90,36.45 L113.99,36.44 L114.08,36.43 L114.16,36.43 L114.25,36.42 L114.34,36.41 L114.43,36.40 L114.51,36.40 L114.60,36.39 L114.69,36.38 L114.78,36.37 L114.86,36.36 L114.95,36.36 L115.04,36.35 L115.13,36.34 L115.21,36.33 L115.30,36.33 L115.39,36.32 L115.48,36.31 L115.56,36.30 L115.65,36.30 L115.74,36.29 L115.83,36.28 L115.91,36.28 L116.00,36.27 L116.09,36.26 L116.18,36.26 L116.26,36.25 L116.35,36.24 L116.44,36.24 L116.53,36.23 L116.61,36.22 L116.70,36.22 L116.79,36.21 L116.88,36.20 L116.96,36.20 L117.05,36.19 L117.14,36.18 L117.23,36.18 L117.31,36.17 L117.40,36.16 L117.49,36.16 L117.58,36.15 L117.66,36.15 L117.75,36.14 L117.84,36.13 L117.93,36.13 L118.01,36.12 L118.10,36.12 L118.19,36.11 L118.28,36.10 L118.36,36.10 L118.45,36.09 L118.54,36.09 L118.63,36.08 L118.71,36.07 L118.80,36.07 L118.89,36.06 L118.98,36.06 L119.06,36.05 L119.15,36.05 L119.24,36.04 L119.33,36.04 L119.41,36.03 L119.50,36.03 L119.59,36.02 L119.68,36.01 L119.76,36.01 L119.85,36.00 L119.94,36.00 L120.03,35.99 L120.11,35.99 L120.20,35.98 L120.29,35.98 L120.38,35.97 L120.46,35.97 L120.55,35.96 L120.64,35.96 L120.73,35.95 L120.81,35.95 L120.90,35.94 L120.99,35.94 L121.08,35.94 L121.16,35.93 L121.25,35.93 L121.34,35.92 L121.43,35.92 L121.51,35.91 L121.60,35.91 L121.69,35.90 L121.78,35.90 L121.88,35.89 L121.97,35.89 L122.06,35.88 L122.15,35.88 L122.23,35.88 L122.30,35.87 L122.37,35.87 L122.43,35.87 L122.49,35.86 L122.54,35.86 L122.58,35.86 L122.63,35.86 L122.66,35.86 L122.69,35.85" fill="none" stroke="#4633b4" stroke-width="1.1" stroke-linejoin="round" stroke-linecap="round" opacity="1" />
<path d="M306.00,90.13 L307.04,95.16 L307.92,89.61 L309.03,95.33 L309.94,88.33 L310.65,92.50 L311.46,87.80 L312.05,94.73 L312.76,88.67 L313.33,95.14 L314.40,86.34 L315.38,91.72 L316.16,87.21 L316.78,94.36 L317.59,88.02 L318.72,91.39 L319.92,86.65 L320.86,91.68 L321.75,87.15 L322.32,93.06 L323.03,85.05 L323.72,93.13 L324.90,84.78 L325.99,91.49 L327.05,86.37 L327.94,91.90 L328.62,83.56 L329.80,90.24 L330.60,84.68 L331.42,91.79 L332.24,85.72 L332.85,90.65 L334.10,83.90 L335.00,89.73 L336.07,84.39 L337.05,89.37 L338.04,84.16 L338.70,88.40 L339.91,83.29 L340.88,87.87 L341.50,83.89 L342.62,89.03 L343.43,81.58 L344.46,89.08 L345.69,82.04 L346.94,88.81 L347.91,80.13 L348.80,86.63" fill="none" stroke="#22b8cc" stroke-width="1.1" stroke-linejoin="round" stroke-linecap="round" opacity="1" />
<path d="M308.00,87.35 L308.73,92.29 L309.97,87.35 L310.96,94.11 L311.60,88.55 L312.43,92.73 L313.17,88.85 L314.04,93.84 L315.43,86.63 L316.41,91.68 L317.78,86.91 L318.96,90.69 L319.73,85.75 L320.97,92.78 L322.05,86.57 L323.11,92.38 L323.96,85.99 L324.78,91.91 L325.39,85.36 L326.75,89.54 L327.83,85.12 L329.11,90.77 L329.91,85.48 L331.28,91.35 L331.99,86.05 L332.66,88.69 L333.62,85.68 L334.91,90.12 L335.62,84.28 L336.47,89.45 L337.25,85.09 L338.00,88.90 L339.17,83.73 L339.80,89.57 L341.10,82.82 L342.33,87.23 L343.31,84.49 L344.52,87.39 L345.69,83.62 L346.84,87.44 L347.48,82.98 L348.32,88.86 L349.16,82.41" fill="none" stroke="#28b4d8" stroke-width="1.0" stroke-linejoin="round" stroke-linecap="round" opacity="1" />
<path d="M312.00,84.79 L313.21,95.88 L314.23,87.69 L315.48,93.16 L317.14,88.43 L318.82,95.73 L320.32,86.50 L321.63,92.02 L322.78,86.96 L323.88,96.54 L324.84,85.97 L326.26,92.80 L327.35,86.33 L328.99,91.07 L330.18,85.07 L331.65,92.53 L333.01,84.11 L334.39,90.76 L335.48,84.57 L337.12,93.87 L338.14,80.81 L338.94,90.23 L340.37,78.63 L341.77,89.43 L343.10,83.11 L344.74,89.36 L346.27,84.45 L347.18,89.93 L348.26,81.37" fill="none" stroke="#2ab0d8" stroke-width="0.9" stroke-linejoin="round" stroke-linecap="round" opacity="1" />
<path d="M326.00,84.71 L326.74,89.74 L327.56,85.46 L328.23,91.90 L328.80,83.50 L330.01,90.71 L330.57,84.09 L331.13,90.16 L332.18,84.57 L332.72,89.62 L333.33,84.10 L334.20,90.41 L335.01,84.29 L336.12,89.77 L337.04,84.13 L337.71,88.11 L338.65,83.23 L339.77,89.05 L340.97,80.65 L341.53,87.85 L342.12,80.36 L343.20,88.05 L343.88,82.63 L345.00,87.18 L345.99,80.88 L347.11,85.89 L347.84,80.85 L348.60,86.48" fill="none" stroke="#1fbcc8" stroke-width="1.0" stroke-linejoin="round" stroke-linecap="round" opacity="1" />
<path d="M314.00,92.90 L314.85,98.95 L316.34,92.40 L317.40,97.05 L318.21,91.12 L319.70,99.54 L320.65,92.76 L322.40,99.06 L323.60,90.30 L325.14,99.00 L326.00,89.73 L327.00,96.97 L328.15,90.96 L329.58,97.53" fill="none" stroke="#3a7cf0" stroke-width="0.9" stroke-linejoin="round" stroke-linecap="round" opacity="1" />
<path d="M316.00,92.13 L317.09,101.37 L318.96,90.39 L320.68,98.71 L322.51,90.41 L324.05,101.62 L326.12,92.56" fill="none" stroke="#4a55e6" stroke-width="0.9" stroke-linejoin="round" stroke-linecap="round" opacity="1" />
<path d="M318.00,92.22 L319.85,98.54 L321.17,93.35 L322.80,101.14 L324.48,94.93" fill="none" stroke="#4a3dcc" stroke-width="0.9" stroke-linejoin="round" stroke-linecap="round" opacity="1" />
<path d="M238.40,26.60 L240.13,26.92 L242.45,27.35 L245.21,27.85 L248.28,28.42 L251.48,29.03 L254.68,29.65 L257.71,30.29 L260.44,30.90 L262.96,31.51 L265.45,32.13 L267.89,32.77 L270.27,33.42 L272.56,34.09 L274.76,34.77 L276.84,35.48 L278.78,36.20 L280.56,36.93 L282.19,37.67 L283.70,38.43 L285.11,39.20 L286.45,40.00 L287.75,40.83 L289.03,41.69 L290.31,42.60 L291.60,43.56 L292.85,44.55 L294.06,45.59 L295.24,46.66 L296.39,47.75 L297.50,48.86 L298.57,49.98 L299.61,51.10 L300.60,52.23 L301.53,53.38 L302.42,54.54 L303.27,55.71 L304.11,56.91 L304.94,58.12 L305.78,59.35 L306.64,60.60 L307.51,61.88 L308.40,63.19 L309.29,64.53 L310.17,65.88 L311.04,67.24 L311.91,68.60 L312.75,69.96 L313.57,71.30 L314.38,72.64 L315.19,74.01 L315.99,75.37 L316.77,76.74 L317.52,78.08 L318.24,79.40 L318.91,80.68 L319.53,81.90 L320.09,83.08 L320.60,84.22 L321.08,85.32 L321.51,86.40 L321.92,87.44 L322.29,88.46 L322.63,89.44 L322.95,90.40 L323.25,91.36 L323.51,92.34 L323.74,93.30 L323.94,94.23 L324.12,95.09 L324.27,95.86 L324.39,96.50 L324.50,97.00" fill="none" stroke="#3a7cf0" stroke-width="1.0" stroke-linejoin="round" stroke-linecap="round" opacity="1" />
<path d="M238.40,26.60 L240.10,26.92 L242.40,27.35 L245.13,27.85 L248.15,28.42 L251.31,29.03 L254.46,29.65 L257.46,30.29 L260.14,30.90 L262.62,31.51 L265.06,32.13 L267.46,32.77 L269.79,33.42 L272.04,34.09 L274.19,34.77 L276.23,35.48 L278.13,36.20 L279.88,36.93 L281.47,37.67 L282.95,38.43 L284.33,39.20 L285.64,40.00 L286.91,40.83 L288.16,41.69 L289.42,42.60 L290.68,43.56 L291.90,44.55 L293.09,45.59 L294.24,46.66 L295.36,47.75 L296.45,48.86 L297.50,49.98 L298.51,51.10 L299.47,52.23 L300.38,53.38 L301.25,54.54 L302.09,55.71 L302.90,56.91 L303.71,58.12 L304.53,59.35 L305.37,60.60 L306.23,61.88 L307.09,63.19 L307.96,64.53 L308.82,65.88 L309.68,67.24 L310.52,68.60 L311.34,69.96 L312.14,71.30 L312.93,72.64 L313.72,74.01 L314.50,75.37 L315.26,76.74 L315.99,78.08 L316.69,79.40 L317.35,80.68 L317.95,81.90 L318.50,83.08 L319.00,84.22 L319.46,85.32 L319.89,86.40 L320.28,87.44 L320.64,88.46 L320.98,89.44 L321.29,90.40 L321.58,91.36 L321.83,92.34 L322.06,93.30 L322.25,94.23 L322.42,95.09 L322.57,95.86 L322.70,96.50 L322.80,97.00" fill="none" stroke="#4a55e6" stroke-width="1.0" stroke-linejoin="round" stroke-linecap="round" opacity="1" />
<path d="M238.40,26.60 L240.08,26.92 L242.35,27.35 L245.04,27.85 L248.03,28.42 L251.15,29.03 L254.26,29.65 L257.22,30.29 L259.86,30.90 L262.30,31.51 L264.70,32.13 L267.05,32.77 L269.34,33.42 L271.55,34.09 L273.66,34.77 L275.65,35.48 L277.52,36.20 L279.23,36.93 L280.80,37.67 L282.25,38.43 L283.60,39.20 L284.88,40.00 L286.12,40.83 L287.35,41.69 L288.58,42.60 L289.81,43.56 L291.01,44.55 L292.17,45.59 L293.30,46.66 L294.39,47.75 L295.45,48.86 L296.48,49.98 L297.47,51.10 L298.42,52.23 L299.31,53.38 L300.15,54.54 L300.97,55.71 L301.77,56.91 L302.56,58.12 L303.36,59.35 L304.18,60.60 L305.02,61.88 L305.86,63.19 L306.71,64.53 L307.55,65.88 L308.39,67.24 L309.21,68.60 L310.01,69.96 L310.79,71.30 L311.56,72.64 L312.33,74.01 L313.10,75.37 L313.84,76.74 L314.56,78.08 L315.24,79.40 L315.88,80.68 L316.47,81.90 L317.00,83.08 L317.49,84.22 L317.94,85.32 L318.36,86.40 L318.74,87.44 L319.09,88.46 L319.42,89.44 L319.73,90.40 L320.01,91.36 L320.26,92.34 L320.48,93.30 L320.67,94.23 L320.83,95.09 L320.98,95.86 L321.10,96.50 L321.20,97.00" fill="none" stroke="#4a3dcc" stroke-width="1.0" stroke-linejoin="round" stroke-linecap="round" opacity="1" />
<path d="M238.40,26.60 L240.06,26.92 L242.30,27.35 L244.97,27.85 L247.92,28.42 L251.01,29.03 L254.09,29.65 L257.00,30.29 L259.62,30.90 L262.02,31.51 L264.38,32.13 L266.70,32.77 L268.95,33.42 L271.12,34.09 L273.19,34.77 L275.15,35.48 L276.99,36.20 L278.67,36.93 L280.21,37.67 L281.63,38.43 L282.96,39.20 L284.22,40.00 L285.43,40.83 L286.63,41.69 L287.85,42.60 L289.05,43.56 L290.23,44.55 L291.37,45.59 L292.47,46.66 L293.55,47.75 L294.59,48.86 L295.59,49.98 L296.57,51.10 L297.49,52.23 L298.36,53.38 L299.19,54.54 L299.99,55.71 L300.78,56.91 L301.55,58.12 L302.34,59.35 L303.14,60.60 L303.96,61.88 L304.79,63.19 L305.62,64.53 L306.44,65.88 L307.26,67.24 L308.06,68.60 L308.85,69.96 L309.61,71.30 L310.37,72.64 L311.12,74.01 L311.87,75.37 L312.60,76.74 L313.30,78.08 L313.97,79.40 L314.59,80.68 L315.17,81.90 L315.69,83.08 L316.17,84.22 L316.62,85.32 L317.02,86.40 L317.39,87.44 L317.74,88.46 L318.06,89.44 L318.36,90.40 L318.63,91.36 L318.88,92.34 L319.09,93.30 L319.28,94.23 L319.44,95.09 L319.58,95.86 L319.70,96.50 L319.80,97.00" fill="none" stroke="#3a8ef0" stroke-width="1.0" stroke-linejoin="round" stroke-linecap="round" opacity="1" />
<path d="M238.40,26.60 L240.04,26.92 L242.26,27.35 L244.90,27.85 L247.82,28.42 L250.87,29.03 L253.91,29.65 L256.79,30.29 L259.37,30.90 L261.74,31.51 L264.06,32.13 L266.34,32.77 L268.56,33.42 L270.69,34.09 L272.72,34.77 L274.65,35.48 L276.45,36.20 L278.11,36.93 L279.62,37.67 L281.01,38.43 L282.31,39.20 L283.55,40.00 L284.74,40.83 L285.92,41.69 L287.11,42.60 L288.29,43.56 L289.45,44.55 L290.56,45.59 L291.65,46.66 L292.70,47.75 L293.72,48.86 L294.71,49.98 L295.66,51.10 L296.57,52.23 L297.42,53.38 L298.23,54.54 L299.02,55.71 L299.78,56.91 L300.54,58.12 L301.31,59.35 L302.10,60.60 L302.90,61.88 L303.71,63.19 L304.52,64.53 L305.33,65.88 L306.13,67.24 L306.92,68.60 L307.69,69.96 L308.44,71.30 L309.17,72.64 L309.91,74.01 L310.64,75.37 L311.35,76.74 L312.04,78.08 L312.70,79.40 L313.31,80.68 L313.87,81.90 L314.38,83.08 L314.85,84.22 L315.29,85.32 L315.68,86.40 L316.05,87.44 L316.39,88.46 L316.70,89.44 L316.99,90.40 L317.26,91.36 L317.50,92.34 L317.71,93.30 L317.89,94.23 L318.05,95.09 L318.19,95.86 L318.30,96.50 L318.40,97.00" fill="none" stroke="#4a45d6" stroke-width="1.0" stroke-linejoin="round" stroke-linecap="round" opacity="1" />
<path d="M238.40,26.60 L240.02,26.92 L242.21,27.35 L244.82,27.85 L247.70,28.42 L250.71,29.03 L253.71,29.65 L256.55,30.29 L259.09,30.90 L261.41,31.51 L263.70,32.13 L265.94,32.77 L268.11,33.42 L270.20,34.09 L272.19,34.77 L274.08,35.48 L275.84,36.20 L277.46,36.93 L278.94,37.67 L280.31,38.43 L281.58,39.20 L282.79,40.00 L283.96,40.83 L285.11,41.69 L286.27,42.60 L287.43,43.56 L288.55,44.55 L289.64,45.59 L290.71,46.66 L291.73,47.75 L292.73,48.86 L293.69,49.98 L294.62,51.10 L295.51,52.23 L296.34,53.38 L297.14,54.54 L297.90,55.71 L298.65,56.91 L299.39,58.12 L300.14,59.35 L300.91,60.60 L301.69,61.88 L302.48,63.19 L303.27,64.53 L304.06,65.88 L304.84,67.24 L305.61,68.60 L306.36,69.96 L307.09,71.30 L307.81,72.64 L308.53,74.01 L309.24,75.37 L309.94,76.74 L310.61,78.08 L311.24,79.40 L311.84,80.68 L312.39,81.90 L312.89,83.08 L313.35,84.22 L313.77,85.32 L314.15,86.40 L314.51,87.44 L314.84,88.46 L315.14,89.44 L315.43,90.40 L315.69,91.36 L315.92,92.34 L316.12,93.30 L316.30,94.23 L316.46,95.09 L316.59,95.86 L316.71,96.50 L316.80,97.00" fill="none" stroke="#4a55e6" stroke-width="1.0" stroke-linejoin="round" stroke-linecap="round" opacity="1" />
<path d="M238.40,26.60 L240.00,26.92 L242.16,27.35 L244.73,27.85 L247.58,28.42 L250.55,29.03 L253.51,29.65 L256.31,30.29 L258.81,30.90 L261.09,31.51 L263.34,32.13 L265.53,32.77 L267.66,33.42 L269.70,34.09 L271.66,34.77 L273.51,35.48 L275.23,36.20 L276.82,36.93 L278.27,37.67 L279.60,38.43 L280.85,39.20 L282.03,40.00 L283.17,40.83 L284.30,41.69 L285.43,42.60 L286.56,43.56 L287.66,44.55 L288.73,45.59 L289.76,46.66 L290.77,47.75 L291.74,48.86 L292.68,49.98 L293.59,51.10 L294.45,52.23 L295.26,53.38 L296.04,54.54 L296.78,55.71 L297.51,56.91 L298.24,58.12 L298.97,59.35 L299.72,60.60 L300.48,61.88 L301.25,63.19 L302.02,64.53 L302.79,65.88 L303.55,67.24 L304.30,68.60 L305.03,69.96 L305.74,71.30 L306.45,72.64 L307.15,74.01 L307.84,75.37 L308.52,76.74 L309.17,78.08 L309.79,79.40 L310.37,80.68 L310.90,81.90 L311.39,83.08 L311.84,84.22 L312.25,85.32 L312.62,86.40 L312.97,87.44 L313.29,88.46 L313.59,89.44 L313.86,90.40 L314.12,91.36 L314.34,92.34 L314.54,93.30 L314.72,94.23 L314.87,95.09 L315.00,95.86 L315.11,96.50 L315.20,97.00" fill="none" stroke="#3a7cf0" stroke-width="1.0" stroke-linejoin="round" stroke-linecap="round" opacity="1" />
<path d="M238.40,25.60 L240.01,25.76 L242.15,25.98 L244.69,26.23 L247.53,26.52 L250.52,26.82 L253.56,27.13 L256.53,27.42 L259.30,27.70 L261.98,27.96 L264.73,28.22 L267.50,28.49 L270.27,28.75 L273.00,29.01 L275.64,29.27 L278.15,29.54 L280.50,29.80 L282.71,30.05 L284.82,30.30 L286.83,30.54 L288.74,30.78 L290.56,31.03 L292.27,31.30 L293.89,31.58 L295.40,31.90 L296.79,32.23 L298.05,32.55 L299.20,32.88 L300.25,33.23 L301.23,33.62 L302.15,34.05 L303.03,34.54 L303.90,35.10 L304.72,35.72 L305.47,36.38 L306.17,37.08 L306.81,37.84 L307.43,38.65 L308.02,39.53 L308.61,40.48 L309.20,41.50 L309.79,42.61 L310.35,43.80 L310.89,45.07 L311.42,46.40 L311.94,47.78 L312.46,49.20 L312.97,50.64 L313.50,52.10 L314.03,53.60 L314.55,55.15 L315.08,56.74 L315.60,58.37 L316.12,60.01 L316.65,61.66 L317.17,63.29 L317.70,64.90 L318.24,66.52 L318.80,68.18 L319.36,69.85 L319.92,71.52 L320.47,73.15 L321.01,74.72 L321.52,76.21 L322.00,77.60 L322.45,78.88 L322.89,80.08 L323.30,81.21 L323.70,82.27 L324.08,83.29 L324.44,84.26 L324.78,85.19 L325.10,86.10 L325.41,87.00 L325.70,87.90 L325.98,88.76 L326.24,89.58 L326.48,90.33 L326.69,91.00 L326.86,91.56 L327.00,92.00" fill="none" stroke="#1fbcc8" stroke-width="1.2" stroke-linejoin="round" stroke-linecap="round" opacity="1" />
<path d="M238.40,26.60 L240.93,26.93 L244.40,27.38 L248.54,27.90 L253.09,28.49 L257.77,29.11 L262.31,29.73 L266.44,30.34 L269.90,30.90 L272.76,31.42 L275.32,31.93 L277.62,32.43 L279.71,32.94 L281.63,33.45 L283.44,33.98 L285.18,34.52 L286.90,35.10 L288.55,35.68 L290.05,36.25 L291.44,36.82 L292.73,37.41 L293.96,38.05 L295.15,38.75 L296.32,39.52 L297.50,40.40 L298.68,41.37 L299.82,42.42 L300.93,43.54 L302.01,44.73 L303.06,45.98 L304.07,47.27 L305.05,48.62 L306.00,50.00 L306.91,51.43 L307.77,52.93 L308.60,54.48 L309.40,56.08 L310.17,57.71 L310.93,59.38 L311.67,61.08 L312.40,62.80 L313.12,64.58 L313.83,66.46 L314.51,68.38 L315.18,70.33 L315.83,72.26 L316.47,74.14 L317.09,75.93 L317.70,77.60 L318.30,79.17 L318.91,80.68 L319.51,82.13 L320.09,83.52 L320.64,84.83 L321.15,86.07 L321.60,87.23 L322.00,88.30 L322.33,89.29 L322.61,90.21 L322.83,91.05 L323.02,91.82 L323.17,92.50 L323.30,93.09 L323.40,93.59 L323.50,94.00" fill="none" stroke="#2ab0d8" stroke-width="1.1" stroke-linejoin="round" stroke-linecap="round" opacity="1" />
<path d="M238.40,27.70 L239.69,28.09 L241.42,28.58 L243.48,29.16 L245.77,29.82 L248.17,30.55 L250.58,31.33 L252.89,32.15 L255.00,33.00 L256.99,33.91 L258.99,34.90 L260.99,35.95 L262.96,37.05 L264.86,38.17 L266.66,39.30 L268.36,40.42 L269.90,41.50 L271.29,42.57 L272.55,43.65 L273.70,44.74 L274.75,45.82 L275.73,46.89 L276.65,47.95 L277.53,48.99 L278.40,50.00 L279.22,51.00 L279.95,52.00 L280.62,52.99 L281.25,53.96 L281.85,54.90 L282.45,55.79 L283.06,56.63 L283.70,57.40 L284.35,58.06 L285.00,58.62 L285.64,59.10 L286.28,59.55 L286.93,60.00 L287.60,60.48 L288.28,61.04 L289.00,61.70 L289.75,62.45 L290.55,63.25 L291.37,64.10 L292.20,65.00 L293.03,65.95 L293.85,66.95 L294.65,68.00 L295.40,69.10 L296.12,70.28 L296.83,71.55 L297.52,72.88 L298.19,74.25 L298.84,75.65 L299.48,77.05 L300.10,78.44 L300.70,79.80 L301.29,81.16 L301.87,82.56 L302.44,83.97 L302.99,85.37 L303.52,86.74 L304.02,88.05 L304.48,89.28 L304.90,90.40 L305.29,91.44 L305.64,92.45 L305.97,93.39 L306.26,94.26 L306.52,95.05 L306.75,95.75 L306.94,96.33 L307.10,96.80" fill="none" stroke="#1fbcc8" stroke-width="1.2" stroke-linejoin="round" stroke-linecap="round" opacity="1" />
<path d="M238.40,27.00 L240.42,27.62 L243.20,28.45 L246.51,29.43 L250.15,30.52 L253.89,31.68 L257.50,32.86 L260.78,34.01 L263.50,35.10 L265.70,36.13 L267.62,37.15 L269.30,38.16 L270.81,39.19 L272.20,40.23 L273.54,41.31 L274.89,42.43 L276.30,43.60 L277.74,44.82 L279.15,46.07 L280.53,47.36 L281.87,48.69 L283.18,50.04 L284.45,51.43 L285.69,52.85 L286.90,54.30 L288.08,55.79 L289.22,57.33 L290.33,58.91 L291.41,60.52 L292.46,62.14 L293.47,63.77 L294.45,65.39 L295.40,67.00 L296.32,68.62 L297.20,70.29 L298.05,71.98 L298.87,73.66 L299.65,75.31 L300.40,76.90 L301.12,78.41 L301.80,79.80 L302.45,81.08 L303.06,82.27 L303.63,83.38 L304.18,84.43 L304.68,85.43 L305.16,86.40 L305.60,87.35 L306.00,88.30 L306.37,89.27 L306.70,90.26 L307.00,91.24 L307.26,92.18 L307.49,93.06 L307.69,93.84 L307.86,94.50 L308.00,95.00" fill="none" stroke="#2ab0d8" stroke-width="1.1" stroke-linejoin="round" stroke-linecap="round" opacity="1" />
<path d="M46.20,227.96 L46.75,232.37 L47.67,227.51 L48.22,231.81 L49.19,227.48 L50.14,233.32 L50.71,226.13 L51.47,232.44 L52.59,227.67 L53.09,234.29 L53.82,227.31 L54.51,232.28 L55.61,227.26 L56.22,233.05 L57.05,224.66 L58.07,232.24 L58.68,225.07 L59.80,231.11 L60.75,224.96 L61.64,231.76 L62.63,225.45 L63.24,233.24 L63.86,227.86 L64.55,232.17 L65.28,225.74 L66.30,234.36 L67.40,224.52 L68.39,232.07 L68.98,225.82 L69.81,233.36 L70.35,227.33 L71.42,233.10 L72.35,227.67 L73.08,234.19 L73.98,224.53 L74.58,232.59 L75.58,226.44 L76.56,232.97 L77.12,227.65 L78.23,231.42 L78.83,226.83 L79.77,233.99 L80.55,226.26 L81.54,231.97 L82.25,225.86 L83.14,231.13 L83.69,227.52 L84.64,233.43 L85.74,225.31 L86.38,233.68 L87.49,226.78 L87.98,232.31 L88.64,227.38 L89.15,231.44 L90.18,227.83 L91.06,231.72 L91.66,225.13 L92.33,231.64 L93.10,225.57 L93.92,234.01 L94.66,226.17 L95.59,232.62 L96.53,226.37 L97.10,231.43 L98.08,225.39 L99.16,233.42 L100.01,227.42 L101.04,231.42 L101.79,227.51 L102.52,232.08 L103.27,225.51" fill="none" stroke="#3a7ff5" stroke-width="1.2" stroke-linejoin="round" stroke-linecap="round" opacity="1" />
<path d="M46.20,228.24 L47.30,238.52 L48.44,229.42 L49.42,239.41 L50.15,228.47 L51.27,236.44 L52.10,225.02 L52.92,235.51 L53.61,227.66 L54.65,236.46 L55.75,229.23 L56.47,237.90 L57.35,226.80 L58.57,235.95 L59.24,229.41 L60.12,236.06 L61.01,229.57 L61.55,236.53 L62.63,227.92 L63.83,237.64 L64.66,225.25 L65.37,237.79 L66.52,226.57 L67.29,234.94 L68.24,228.55 L69.05,237.44 L70.27,225.83 L71.18,239.21 L71.94,227.43 L72.97,237.50 L73.67,227.30 L74.80,235.76 L75.85,229.33 L77.08,238.23 L77.85,224.09 L78.96,234.75 L79.68,226.85 L80.94,235.19 L81.52,227.85 L82.09,236.69 L83.02,227.13 L83.66,234.53 L84.78,227.14 L85.66,237.08 L86.70,224.56 L87.83,238.47 L88.62,228.65 L89.22,239.21 L89.80,226.41 L91.00,236.20 L91.82,227.26 L93.04,238.23 L94.18,229.38 L95.25,236.93 L96.07,225.03 L97.14,239.50 L98.22,224.50 L99.06,237.51 L100.17,227.06 L100.81,237.68 L101.98,224.72 L102.61,236.53 L103.31,227.69" fill="none" stroke="#3a80f0" stroke-width="1.0" stroke-linejoin="round" stroke-linecap="round" opacity="1" />
<path d="M46.20,228.54 L47.14,236.68 L48.18,227.23 L49.14,236.23 L50.00,229.39 L51.46,236.14 L52.78,230.18 L54.14,236.65 L55.48,228.48 L56.21,235.75 L57.57,227.90 L58.66,237.10 L59.93,228.22 L60.65,238.41 L61.58,226.31 L62.72,239.31 L63.49,227.04 L64.69,239.72 L66.13,227.85 L67.31,239.28 L68.20,227.89 L69.55,238.37 L70.69,226.26 L72.21,236.61 L72.93,227.53 L73.72,240.34 L74.80,227.95 L76.18,239.82 L76.97,228.37 L77.78,237.67 L78.56,226.15 L79.53,237.29 L80.98,226.43 L81.94,237.87 L83.18,229.76 L83.96,239.75 L84.77,227.03 L86.08,238.36 L87.04,226.25 L88.39,235.62 L89.84,227.41 L90.76,236.14 L91.50,226.49 L92.91,237.08 L93.73,230.37 L94.75,236.81 L95.46,229.19 L96.84,235.59 L97.86,228.05 L98.66,235.44 L99.38,229.99" fill="none" stroke="#3c63ec" stroke-width="0.9" stroke-linejoin="round" stroke-linecap="round" opacity="1" />
<path d="M46.20,224.68 L47.36,237.51 L48.22,227.68 L49.52,236.07 L50.86,227.14 L51.79,236.62 L53.10,228.09 L53.91,233.17 L54.95,224.37 L56.01,233.83 L57.16,225.72 L57.85,237.58 L58.97,226.50 L59.85,233.89 L60.82,227.11 L61.61,236.27 L62.74,224.22 L64.11,235.38 L65.29,227.06 L66.23,235.88 L67.62,228.69 L68.59,234.75 L69.83,224.24 L70.81,233.49 L71.89,226.02 L73.03,236.91 L74.00,226.21 L75.21,233.23 L76.01,225.53 L77.39,237.72 L78.21,224.14 L79.04,235.32 L79.76,225.95 L80.68,236.46 L82.04,228.27 L83.17,236.05 L83.99,228.73 L85.34,236.51 L86.44,228.40 L87.76,235.06 L88.73,226.17 L89.69,237.77 L90.66,225.58 L91.88,237.67 L92.62,227.24 L93.98,236.07 L94.88,224.58 L95.57,234.34 L96.23,225.61 L97.22,234.59" fill="none" stroke="#2d93e8" stroke-width="0.9" stroke-linejoin="round" stroke-linecap="round" opacity="1" />
<path d="M50.00,229.66 L51.75,238.82 L53.11,226.64 L54.06,237.87 L55.15,230.32 L56.72,235.53 L57.71,230.24 L59.06,239.17 L60.30,230.30 L62.13,239.10 L64.22,230.66 L65.32,237.22 L67.41,228.26 L69.37,236.20 L70.83,227.53 L72.01,237.66 L73.90,226.90 L75.63,239.16 L77.73,227.94 L78.93,236.19 L79.89,226.40 L81.48,238.05 L83.43,227.52 L84.80,237.97 L85.80,229.66 L87.11,238.99 L88.80,227.94 L90.18,236.82 L91.54,230.65 L92.87,239.56 L94.75,229.68" fill="none" stroke="#4a3ccf" stroke-width="0.8" stroke-linejoin="round" stroke-linecap="round" opacity="1" />
<path d="M60.00,227.25 L61.37,236.85 L63.29,229.98 L65.68,235.19 L68.03,227.62 L69.68,236.51 L72.01,227.41 L73.40,236.66 L74.61,227.82 L76.30,236.66 L78.39,229.65 L79.68,239.00 L82.04,226.94 L83.92,238.61 L86.24,230.71 L87.75,236.84 L89.89,229.25" fill="none" stroke="#4633b4" stroke-width="0.8" stroke-linejoin="round" stroke-linecap="round" opacity="1" />
<path d="M46.20,226.56 L47.15,229.81 L47.90,225.78 L48.78,230.08 L49.32,226.17 L50.05,229.05 L50.94,226.45 L51.87,229.68 L52.83,225.58 L53.47,230.37 L53.89,226.92 L54.63,229.55 L55.28,225.62 L55.97,230.19 L56.80,225.35 L57.28,230.64 L58.12,226.62 L58.58,229.31 L59.05,225.90 L60.03,229.92 L60.61,226.74 L61.57,230.05 L62.12,225.19 L62.78,230.97 L63.48,226.57 L64.01,228.93 L64.89,226.41 L65.71,230.67 L66.36,226.03 L67.18,230.25 L67.81,226.68 L68.39,228.94 L69.16,225.75 L70.01,229.82 L70.84,225.93 L71.74,230.06 L72.54,225.84 L73.07,229.06 L73.95,225.65 L74.66,230.82 L75.18,225.56 L75.88,229.12 L76.37,227.05 L76.90,230.53 L77.59,227.00 L78.28,230.94 L79.14,226.47 L79.84,229.67 L80.38,225.72 L80.82,229.89 L81.76,225.51 L82.54,230.65 L83.50,226.53 L84.45,230.78 L85.14,226.82 L85.86,229.94 L86.84,226.58 L87.66,230.49 L88.42,226.50 L89.35,229.44 L90.25,225.23 L90.96,229.01 L91.54,226.96 L92.06,229.65 L92.80,225.41 L93.25,230.46 L93.73,225.60 L94.16,229.65 L95.10,225.26 L95.55,229.72 L96.48,226.73 L97.15,229.45 L97.74,226.07 L98.24,229.22 L99.20,225.50 L99.96,229.19 L100.45,225.79 L101.22,228.92 L102.18,226.31 L102.75,230.23 L103.68,226.37" fill="none" stroke="#3a80f0" stroke-width="1.1" stroke-linejoin="round" stroke-linecap="round" opacity="1" />
<path d="M57.10,224.00 L57.60,218.01 L58.10,212.72 L58.60,208.05 L59.10,203.93 L59.60,200.30 L60.10,197.09 L60.60,194.26 L61.10,191.76 L61.60,189.56 L62.10,187.61 L62.60,185.89 L63.10,184.38 L63.60,183.04 L64.10,181.86 L64.60,180.82 L65.10,179.90 L65.60,179.09 L66.10,178.38 L66.60,177.74 L67.10,177.19 L67.60,176.69 L68.10,176.26 L68.60,175.88 L69.10,175.54 L69.60,175.24 L70.10,174.98 L70.60,174.75 L71.10,174.54 L71.60,174.36 L72.10,174.20 L72.60,174.06 L73.10,173.93 L73.60,173.82 L74.10,173.73 L74.60,173.64 L75.10,173.57 L75.60,173.50 L76.10,173.44 L76.60,173.39 L77.10,173.34 L77.60,173.30 L78.10,173.27 L78.60,173.24 L79.10,173.21 L79.60,173.18 L80.10,173.16 L80.60,173.14 L81.10,173.13 L81.60,173.11 L82.10,173.10 L82.60,173.09 L83.10,173.08 L83.60,173.07 L84.10,173.06 L84.60,173.05 L85.10,173.05 L85.60,173.04 L86.10,173.04 L86.60,173.03 L87.10,173.03 L87.60,173.02 L88.10,173.02 L88.60,173.02 L89.10,173.02 L89.60,173.02 L90.10,173.01 L90.60,173.01 L91.10,173.01 L91.60,173.01 L92.10,173.01 L92.60,173.01 L93.10,173.01 L93.60,173.01 L94.10,173.00 L94.60,173.00 L95.10,173.00 L95.60,173.00 L96.10,173.00 L96.60,173.00 L97.10,173.00 L97.60,173.00 L98.10,173.00 L98.60,173.00 L99.10,173.00 L99.60,173.00 L100.10,173.00 L100.60,173.00 L101.10,173.00 L101.60,173.00 L102.10,173.00 L102.60,173.00 L103.10,173.00 L103.60,173.00 L104.10,173.00 L104.60,173.00 L105.10,173.00 L105.60,173.00 L106.10,173.00 L106.60,173.00 L107.10,173.00 L107.60,173.00 L108.10,173.00 L108.60,173.00 L109.10,173.00 L109.60,173.00 L110.10,173.00 L110.60,173.00 L111.10,173.00 L111.60,173.00 L112.10,173.00 L112.60,173.00 L113.10,173.00 L113.60,173.00 L114.10,173.00 L114.60,173.00 L115.10,173.00 L115.60,173.00 L116.10,173.00 L116.60,173.00 L117.10,173.00 L117.60,173.00 L118.10,173.00 L118.60,173.00 L119.10,173.00 L119.60,173.00 L120.10,173.00 L120.60,173.00 L121.10,173.00 L121.60,173.00 L122.10,173.00 L122.60,173.00 L123.10,173.00 L123.60,173.00 L124.10,173.00 L124.60,173.00 L125.10,173.00 L125.60,173.00 L126.10,173.00 L126.60,173.00 L127.10,173.00 L127.60,173.00 L128.10,173.00 L128.60,173.00 L129.10,173.00 L129.60,173.00 L130.10,173.00 L130.60,173.00 L131.10,173.00 L131.60,173.00 L132.10,173.00 L132.60,173.00 L133.10,173.00 L133.60,173.00 L134.10,173.00 L134.60,173.00 L135.10,173.00 L135.60,173.00 L136.10,173.00 L136.60,173.00 L137.10,173.00 L137.60,173.00 L138.10,173.00 L138.60,173.00 L139.10,173.00 L139.60,173.00 L140.10,173.00 L140.60,173.00 L141.10,173.00 L141.60,173.00 L142.10,173.00 L142.60,173.00 L143.10,173.00 L143.60,173.00 L144.10,173.00 L144.60,173.00 L145.10,173.00 L145.60,173.00 L146.10,173.00 L146.60,173.00 L147.10,173.00 L147.60,173.00 L148.10,173.00 L148.60,173.00 L149.10,173.00 L149.60,173.00 L150.10,173.00 L150.60,173.00 L151.10,173.00 L151.60,173.00 L152.10,173.00 L152.60,173.00 L153.10,173.00 L153.60,173.00 L154.10,173.00 L154.60,173.00 L155.10,173.00 L155.60,173.00 L156.10,173.00 L156.60,173.00 L157.10,173.00 L157.40,173.00" fill="none" stroke="#3c63ec" stroke-width="1.1" stroke-linejoin="round" stroke-linecap="round" opacity="1" />
<path d="M58.30,224.00 L58.80,217.40 L59.30,212.01 L59.80,207.40 L60.30,203.39 L60.80,199.90 L61.30,196.83 L61.80,194.14 L62.30,191.76 L62.80,189.67 L63.30,187.82 L63.80,186.18 L64.30,184.73 L64.80,183.44 L65.30,182.30 L65.80,181.29 L66.30,180.39 L66.80,179.59 L67.30,178.88 L67.80,178.25 L68.30,177.68 L68.80,177.18 L69.30,176.73 L69.80,176.34 L70.30,175.98 L70.80,175.66 L71.30,175.38 L71.80,175.13 L72.30,174.90 L72.80,174.70 L73.30,174.52 L73.80,174.36 L74.30,174.22 L74.80,174.09 L75.30,173.98 L75.80,173.88 L76.30,173.78 L76.80,173.70 L77.30,173.63 L77.80,173.56 L78.30,173.51 L78.80,173.45 L79.30,173.41 L79.80,173.36 L80.30,173.33 L80.80,173.29 L81.30,173.26 L81.80,173.24 L82.30,173.21 L82.80,173.19 L83.30,173.17 L83.80,173.15 L84.30,173.14 L84.80,173.12 L85.30,173.11 L85.80,173.10 L86.30,173.09 L86.80,173.08 L87.30,173.07 L87.80,173.06 L88.30,173.06 L88.80,173.05 L89.30,173.05 L89.80,173.04 L90.30,173.04 L90.80,173.03 L91.30,173.03 L91.80,173.03 L92.30,173.02 L92.80,173.02 L93.30,173.02 L93.80,173.02 L94.30,173.02 L94.80,173.01 L95.30,173.01 L95.80,173.01 L96.30,173.01 L96.80,173.01 L97.30,173.01 L97.80,173.01 L98.30,173.01 L98.80,173.01 L99.30,173.01 L99.80,173.01 L100.30,173.00 L100.80,173.00 L101.30,173.00 L101.80,173.00 L102.30,173.00 L102.80,173.00 L103.30,173.00 L103.80,173.00 L104.30,173.00 L104.80,173.00 L105.30,173.00 L105.80,173.00 L106.30,173.00 L106.80,173.00 L107.30,173.00 L107.80,173.00 L108.30,173.00 L108.80,173.00 L109.30,173.00 L109.80,173.00 L110.30,173.00 L110.80,173.00 L111.30,173.00 L111.80,173.00 L112.30,173.00 L112.80,173.00 L113.30,173.00 L113.80,173.00 L114.30,173.00 L114.80,173.00 L115.30,173.00 L115.80,173.00 L116.30,173.00 L116.80,173.00 L117.30,173.00 L117.80,173.00 L118.30,173.00 L118.80,173.00 L119.30,173.00 L119.80,173.00 L120.30,173.00 L120.80,173.00 L121.30,173.00 L121.80,173.00 L122.30,173.00 L122.80,173.00 L123.30,173.00 L123.80,173.00 L124.30,173.00 L124.80,173.00 L125.30,173.00 L125.80,173.00 L126.30,173.00 L126.80,173.00 L127.30,173.00 L127.80,173.00 L128.30,173.00 L128.80,173.00 L129.30,173.00 L129.80,173.00 L130.30,173.00 L130.80,173.00 L131.30,173.00 L131.80,173.00 L132.30,173.00 L132.80,173.00 L133.30,173.00 L133.80,173.00 L134.30,173.00 L134.80,173.00 L135.30,173.00 L135.80,173.00 L136.30,173.00 L136.80,173.00 L137.30,173.00 L137.80,173.00 L138.30,173.00 L138.80,173.00 L139.30,173.00 L139.80,173.00 L140.30,173.00 L140.80,173.00 L141.30,173.00 L141.80,173.00 L142.30,173.00 L142.80,173.00 L143.30,173.00 L143.80,173.00 L144.30,173.00 L144.80,173.00 L145.30,173.00 L145.80,173.00 L146.30,173.00 L146.80,173.00 L147.30,173.00 L147.80,173.00 L148.30,173.00 L148.80,173.00 L149.30,173.00 L149.80,173.00 L150.30,173.00 L150.80,173.00 L151.30,173.00 L151.80,173.00 L152.30,173.00 L152.80,173.00 L153.30,173.00 L153.80,173.00 L154.30,173.00 L154.80,173.00 L155.30,173.00 L155.80,173.00 L156.30,173.00 L156.80,173.00 L157.30,173.00 L157.40,173.00" fill="none" stroke="#4648e0" stroke-width="1.1" stroke-linejoin="round" stroke-linecap="round" opacity="1" />
<path d="M59.60,224.00 L60.10,216.44 L60.60,210.96 L61.10,206.45 L61.60,202.62 L62.10,199.33 L62.60,196.46 L63.10,193.96 L63.60,191.76 L64.10,189.82 L64.60,188.10 L65.10,186.58 L65.60,185.22 L66.10,184.01 L66.60,182.93 L67.10,181.96 L67.60,181.10 L68.10,180.32 L68.60,179.62 L69.10,179.00 L69.60,178.43 L70.10,177.92 L70.60,177.46 L71.10,177.05 L71.60,176.68 L72.10,176.34 L72.60,176.04 L73.10,175.76 L73.60,175.51 L74.10,175.28 L74.60,175.08 L75.10,174.89 L75.60,174.72 L76.10,174.57 L76.60,174.43 L77.10,174.31 L77.60,174.19 L78.10,174.09 L78.60,173.99 L79.10,173.91 L79.60,173.83 L80.10,173.76 L80.60,173.69 L81.10,173.63 L81.60,173.58 L82.10,173.53 L82.60,173.48 L83.10,173.44 L83.60,173.40 L84.10,173.37 L84.60,173.34 L85.10,173.31 L85.60,173.28 L86.10,173.26 L86.60,173.24 L87.10,173.22 L87.60,173.20 L88.10,173.18 L88.60,173.17 L89.10,173.15 L89.60,173.14 L90.10,173.13 L90.60,173.12 L91.10,173.11 L91.60,173.10 L92.10,173.09 L92.60,173.08 L93.10,173.08 L93.60,173.07 L94.10,173.07 L94.60,173.06 L95.10,173.06 L95.60,173.05 L96.10,173.05 L96.60,173.04 L97.10,173.04 L97.60,173.04 L98.10,173.03 L98.60,173.03 L99.10,173.03 L99.60,173.03 L100.10,173.02 L100.60,173.02 L101.10,173.02 L101.60,173.02 L102.10,173.02 L102.60,173.02 L103.10,173.01 L103.60,173.01 L104.10,173.01 L104.60,173.01 L105.10,173.01 L105.60,173.01 L106.10,173.01 L106.60,173.01 L107.10,173.01 L107.60,173.01 L108.10,173.01 L108.60,173.01 L109.10,173.01 L109.60,173.00 L110.10,173.00 L110.60,173.00 L111.10,173.00 L111.60,173.00 L112.10,173.00 L112.60,173.00 L113.10,173.00 L113.60,173.00 L114.10,173.00 L114.60,173.00 L115.10,173.00 L115.60,173.00 L116.10,173.00 L116.60,173.00 L117.10,173.00 L117.60,173.00 L118.10,173.00 L118.60,173.00 L119.10,173.00 L119.60,173.00 L120.10,173.00 L120.60,173.00 L121.10,173.00 L121.60,173.00 L122.10,173.00 L122.60,173.00 L123.10,173.00 L123.60,173.00 L124.10,173.00 L124.60,173.00 L125.10,173.00 L125.60,173.00 L126.10,173.00 L126.60,173.00 L127.10,173.00 L127.60,173.00 L128.10,173.00 L128.60,173.00 L129.10,173.00 L129.60,173.00 L130.10,173.00 L130.60,173.00 L131.10,173.00 L131.60,173.00 L132.10,173.00 L132.60,173.00 L133.10,173.00 L133.60,173.00 L134.10,173.00 L134.60,173.00 L135.10,173.00 L135.60,173.00 L136.10,173.00 L136.60,173.00 L137.10,173.00 L137.60,173.00 L138.10,173.00 L138.60,173.00 L139.10,173.00 L139.60,173.00 L140.10,173.00 L140.60,173.00 L141.10,173.00 L141.60,173.00 L142.10,173.00 L142.60,173.00 L143.10,173.00 L143.60,173.00 L144.10,173.00 L144.60,173.00 L145.10,173.00 L145.60,173.00 L146.10,173.00 L146.60,173.00 L147.10,173.00 L147.60,173.00 L148.10,173.00 L148.60,173.00 L149.10,173.00 L149.60,173.00 L150.10,173.00 L150.60,173.00 L151.10,173.00 L151.60,173.00 L152.10,173.00 L152.60,173.00 L153.10,173.00 L153.60,173.00 L154.10,173.00 L154.60,173.00 L155.10,173.00 L155.60,173.00 L156.10,173.00 L156.60,173.00 L157.10,173.00 L157.40,173.00" fill="none" stroke="#3180ef" stroke-width="1.1" stroke-linejoin="round" stroke-linecap="round" opacity="1" />
<path d="M61.00,224.00 L61.50,215.20 L62.00,209.67 L62.50,205.32 L63.00,201.72 L63.50,198.67 L64.00,196.04 L64.50,193.76 L65.00,191.76 L65.50,190.00 L66.00,188.43 L66.50,187.04 L67.00,185.79 L67.50,184.67 L68.00,183.67 L68.50,182.76 L69.00,181.94 L69.50,181.20 L70.00,180.53 L70.50,179.92 L71.00,179.36 L71.50,178.86 L72.00,178.40 L72.50,177.97 L73.00,177.59 L73.50,177.24 L74.00,176.91 L74.50,176.62 L75.00,176.35 L75.50,176.10 L76.00,175.87 L76.50,175.65 L77.00,175.46 L77.50,175.28 L78.00,175.12 L78.50,174.96 L79.00,174.82 L79.50,174.69 L80.00,174.57 L80.50,174.46 L81.00,174.36 L81.50,174.27 L82.00,174.18 L82.50,174.10 L83.00,174.02 L83.50,173.95 L84.00,173.89 L84.50,173.83 L85.00,173.77 L85.50,173.72 L86.00,173.67 L86.50,173.63 L87.00,173.58 L87.50,173.54 L88.00,173.51 L88.50,173.48 L89.00,173.44 L89.50,173.42 L90.00,173.39 L90.50,173.36 L91.00,173.34 L91.50,173.32 L92.00,173.30 L92.50,173.28 L93.00,173.26 L93.50,173.24 L94.00,173.23 L94.50,173.21 L95.00,173.20 L95.50,173.19 L96.00,173.18 L96.50,173.16 L97.00,173.15 L97.50,173.14 L98.00,173.14 L98.50,173.13 L99.00,173.12 L99.50,173.11 L100.00,173.11 L100.50,173.10 L101.00,173.09 L101.50,173.09 L102.00,173.08 L102.50,173.08 L103.00,173.07 L103.50,173.07 L104.00,173.06 L104.50,173.06 L105.00,173.06 L105.50,173.05 L106.00,173.05 L106.50,173.05 L107.00,173.04 L107.50,173.04 L108.00,173.04 L108.50,173.04 L109.00,173.03 L109.50,173.03 L110.00,173.03 L110.50,173.03 L111.00,173.03 L111.50,173.03 L112.00,173.02 L112.50,173.02 L113.00,173.02 L113.50,173.02 L114.00,173.02 L114.50,173.02 L115.00,173.02 L115.50,173.02 L116.00,173.01 L116.50,173.01 L117.00,173.01 L117.50,173.01 L118.00,173.01 L118.50,173.01 L119.00,173.01 L119.50,173.01 L120.00,173.01 L120.50,173.01 L121.00,173.01 L121.50,173.01 L122.00,173.01 L122.50,173.01 L123.00,173.01 L123.50,173.01 L124.00,173.01 L124.50,173.01 L125.00,173.01 L125.50,173.00 L126.00,173.00 L126.50,173.00 L127.00,173.00 L127.50,173.00 L128.00,173.00 L128.50,173.00 L129.00,173.00 L129.50,173.00 L130.00,173.00 L130.50,173.00 L131.00,173.00 L131.50,173.00 L132.00,173.00 L132.50,173.00 L133.00,173.00 L133.50,173.00 L134.00,173.00 L134.50,173.00 L135.00,173.00 L135.50,173.00 L136.00,173.00 L136.50,173.00 L137.00,173.00 L137.50,173.00 L138.00,173.00 L138.50,173.00 L139.00,173.00 L139.50,173.00 L140.00,173.00 L140.50,173.00 L141.00,173.00 L141.50,173.00 L142.00,173.00 L142.50,173.00 L143.00,173.00 L143.50,173.00 L144.00,173.00 L144.50,173.00 L145.00,173.00 L145.50,173.00 L146.00,173.00 L146.50,173.00 L147.00,173.00 L147.50,173.00 L148.00,173.00 L148.50,173.00 L149.00,173.00 L149.50,173.00 L150.00,173.00 L150.50,173.00 L151.00,173.00 L151.50,173.00 L152.00,173.00 L152.50,173.00 L153.00,173.00 L153.50,173.00 L154.00,173.00 L154.50,173.00 L155.00,173.00 L155.50,173.00 L156.00,173.00 L156.50,173.00 L157.00,173.00 L157.40,173.00" fill="none" stroke="#4a3ccf" stroke-width="1.1" stroke-linejoin="round" stroke-linecap="round" opacity="1" />
<path d="M62.80,224.00 L63.30,213.94 L63.80,208.51 L64.30,204.41 L64.80,201.09 L65.30,198.32 L65.80,195.95 L66.30,193.89 L66.80,192.10 L67.30,190.51 L67.80,189.09 L68.30,187.82 L68.80,186.69 L69.30,185.66 L69.80,184.73 L70.30,183.88 L70.80,183.11 L71.30,182.41 L71.80,181.76 L72.30,181.17 L72.80,180.63 L73.30,180.13 L73.80,179.66 L74.30,179.24 L74.80,178.84 L75.30,178.48 L75.80,178.14 L76.30,177.82 L76.80,177.53 L77.30,177.26 L77.80,177.00 L78.30,176.77 L78.80,176.55 L79.30,176.34 L79.80,176.15 L80.30,175.97 L80.80,175.80 L81.30,175.65 L81.80,175.50 L82.30,175.36 L82.80,175.23 L83.30,175.11 L83.80,174.99 L84.30,174.89 L84.80,174.79 L85.30,174.69 L85.80,174.60 L86.30,174.52 L86.80,174.44 L87.30,174.36 L87.80,174.29 L88.30,174.23 L88.80,174.16 L89.30,174.10 L89.80,174.05 L90.30,174.00 L90.80,173.95 L91.30,173.90 L91.80,173.85 L92.30,173.81 L92.80,173.77 L93.30,173.73 L93.80,173.70 L94.30,173.66 L94.80,173.63 L95.30,173.60 L95.80,173.57 L96.30,173.55 L96.80,173.52 L97.30,173.50 L97.80,173.47 L98.30,173.45 L98.80,173.43 L99.30,173.41 L99.80,173.39 L100.30,173.37 L100.80,173.35 L101.30,173.34 L101.80,173.32 L102.30,173.31 L102.80,173.29 L103.30,173.28 L103.80,173.27 L104.30,173.26 L104.80,173.24 L105.30,173.23 L105.80,173.22 L106.30,173.21 L106.80,173.20 L107.30,173.19 L107.80,173.19 L108.30,173.18 L108.80,173.17 L109.30,173.16 L109.80,173.16 L110.30,173.15 L110.80,173.14 L111.30,173.14 L111.80,173.13 L112.30,173.13 L112.80,173.12 L113.30,173.11 L113.80,173.11 L114.30,173.11 L114.80,173.10 L115.30,173.10 L115.80,173.09 L116.30,173.09 L116.80,173.08 L117.30,173.08 L117.80,173.08 L118.30,173.07 L118.80,173.07 L119.30,173.07 L119.80,173.07 L120.30,173.06 L120.80,173.06 L121.30,173.06 L121.80,173.06 L122.30,173.05 L122.80,173.05 L123.30,173.05 L123.80,173.05 L124.30,173.05 L124.80,173.04 L125.30,173.04 L125.80,173.04 L126.30,173.04 L126.80,173.04 L127.30,173.04 L127.80,173.03 L128.30,173.03 L128.80,173.03 L129.30,173.03 L129.80,173.03 L130.30,173.03 L130.80,173.03 L131.30,173.03 L131.80,173.02 L132.30,173.02 L132.80,173.02 L133.30,173.02 L133.80,173.02 L134.30,173.02 L134.80,173.02 L135.30,173.02 L135.80,173.02 L136.30,173.02 L136.80,173.02 L137.30,173.02 L137.80,173.02 L138.30,173.01 L138.80,173.01 L139.30,173.01 L139.80,173.01 L140.30,173.01 L140.80,173.01 L141.30,173.01 L141.80,173.01 L142.30,173.01 L142.80,173.01 L143.30,173.01 L143.80,173.01 L144.30,173.01 L144.80,173.01 L145.30,173.01 L145.80,173.01 L146.30,173.01 L146.80,173.01 L147.30,173.01 L147.80,173.01 L148.30,173.01 L148.80,173.01 L149.30,173.01 L149.80,173.01 L150.30,173.01 L150.80,173.01 L151.30,173.01 L151.80,173.01 L152.30,173.01 L152.80,173.00 L153.30,173.00 L153.80,173.00 L154.30,173.00 L154.80,173.00 L155.30,173.00 L155.80,173.00 L156.30,173.00 L156.80,173.00 L157.30,173.00 L157.40,173.00" fill="none" stroke="#3c63ec" stroke-width="1.1" stroke-linejoin="round" stroke-linecap="round" opacity="1" />
<path d="M65.10,224.00 L65.60,212.64 L66.10,207.35 L66.60,203.49 L67.10,200.43 L67.60,197.90 L68.10,195.75 L68.60,193.89 L69.10,192.27 L69.60,190.83 L70.10,189.55 L70.60,188.40 L71.10,187.37 L71.60,186.43 L72.10,185.57 L72.60,184.79 L73.10,184.07 L73.60,183.41 L74.10,182.81 L74.60,182.24 L75.10,181.72 L75.60,181.24 L76.10,180.79 L76.60,180.38 L77.10,179.99 L77.60,179.62 L78.10,179.28 L78.60,178.96 L79.10,178.67 L79.60,178.39 L80.10,178.12 L80.60,177.88 L81.10,177.64 L81.60,177.42 L82.10,177.22 L82.60,177.02 L83.10,176.84 L83.60,176.66 L84.10,176.50 L84.60,176.34 L85.10,176.19 L85.60,176.05 L86.10,175.92 L86.60,175.79 L87.10,175.68 L87.60,175.56 L88.10,175.45 L88.60,175.35 L89.10,175.25 L89.60,175.16 L90.10,175.07 L90.60,174.99 L91.10,174.91 L91.60,174.83 L92.10,174.76 L92.60,174.69 L93.10,174.62 L93.60,174.56 L94.10,174.50 L94.60,174.44 L95.10,174.39 L95.60,174.33 L96.10,174.28 L96.60,174.23 L97.10,174.19 L97.60,174.14 L98.10,174.10 L98.60,174.06 L99.10,174.02 L99.60,173.98 L100.10,173.95 L100.60,173.91 L101.10,173.88 L101.60,173.85 L102.10,173.82 L102.60,173.79 L103.10,173.76 L103.60,173.73 L104.10,173.71 L104.60,173.68 L105.10,173.66 L105.60,173.64 L106.10,173.62 L106.60,173.59 L107.10,173.57 L107.60,173.55 L108.10,173.54 L108.60,173.52 L109.10,173.50 L109.60,173.48 L110.10,173.47 L110.60,173.45 L111.10,173.44 L111.60,173.42 L112.10,173.41 L112.60,173.39 L113.10,173.38 L113.60,173.37 L114.10,173.36 L114.60,173.35 L115.10,173.33 L115.60,173.32 L116.10,173.31 L116.60,173.30 L117.10,173.29 L117.60,173.28 L118.10,173.28 L118.60,173.27 L119.10,173.26 L119.60,173.25 L120.10,173.24 L120.60,173.24 L121.10,173.23 L121.60,173.22 L122.10,173.21 L122.60,173.21 L123.10,173.20 L123.60,173.20 L124.10,173.19 L124.60,173.18 L125.10,173.18 L125.60,173.17 L126.10,173.17 L126.60,173.16 L127.10,173.16 L127.60,173.15 L128.10,173.15 L128.60,173.14 L129.10,173.14 L129.60,173.14 L130.10,173.13 L130.60,173.13 L131.10,173.12 L131.60,173.12 L132.10,173.12 L132.60,173.11 L133.10,173.11 L133.60,173.11 L134.10,173.10 L134.60,173.10 L135.10,173.10 L135.60,173.10 L136.10,173.09 L136.60,173.09 L137.10,173.09 L137.60,173.08 L138.10,173.08 L138.60,173.08 L139.10,173.08 L139.60,173.08 L140.10,173.07 L140.60,173.07 L141.10,173.07 L141.60,173.07 L142.10,173.07 L142.60,173.06 L143.10,173.06 L143.60,173.06 L144.10,173.06 L144.60,173.06 L145.10,173.06 L145.60,173.05 L146.10,173.05 L146.60,173.05 L147.10,173.05 L147.60,173.05 L148.10,173.05 L148.60,173.05 L149.10,173.04 L149.60,173.04 L150.10,173.04 L150.60,173.04 L151.10,173.04 L151.60,173.04 L152.10,173.04 L152.60,173.04 L153.10,173.04 L153.60,173.03 L154.10,173.03 L154.60,173.03 L155.10,173.03 L155.60,173.03 L156.10,173.03 L156.60,173.03 L157.10,173.03 L157.40,173.03" fill="none" stroke="#2d93e8" stroke-width="1.1" stroke-linejoin="round" stroke-linecap="round" opacity="1" />
<path d="M87.50,224.00 L88.20,223.22 L88.90,222.10 L89.60,220.82 L90.30,219.44 L91.00,218.00 L91.70,216.51 L92.40,215.01 L93.10,213.49 L93.80,211.97 L94.50,210.46 L95.20,208.97 L95.90,207.50 L96.60,206.05 L97.30,204.63 L98.00,203.24 L98.70,201.89 L99.40,200.58 L100.10,199.30 L100.80,198.06 L101.50,196.86 L102.20,195.71 L102.90,194.59 L103.60,193.51 L104.30,192.48 L105.00,191.48 L105.70,190.53 L106.40,189.61 L107.10,188.73 L107.80,187.89 L108.50,187.09 L109.20,186.32 L109.90,185.59 L110.60,184.89 L111.30,184.22 L112.00,183.59 L112.70,182.99 L113.40,182.41 L114.10,181.87 L114.80,181.35 L115.50,180.86 L116.20,180.40 L116.90,179.95 L117.60,179.54 L118.30,179.14 L119.00,178.77 L119.70,178.42 L120.40,178.08 L121.10,177.77 L121.80,177.47 L122.50,177.19 L123.20,176.92 L123.90,176.68 L124.60,176.44 L125.30,176.22 L126.00,176.01 L126.70,175.82 L127.40,175.63 L128.10,175.46 L128.80,175.30 L129.50,175.15 L130.20,175.00 L130.90,174.87 L131.60,174.74 L132.30,174.63 L133.00,174.52 L133.70,174.41 L134.40,174.32 L135.10,174.23 L135.80,174.14 L136.50,174.06 L137.20,173.99 L137.90,173.92 L138.60,173.86 L139.30,173.80 L140.00,173.74 L140.70,173.69 L141.40,173.64 L142.10,173.59 L142.80,173.55 L143.50,173.51 L144.20,173.47 L144.90,173.44 L145.60,173.41 L146.30,173.38 L147.00,173.35 L147.70,173.32 L148.40,173.30 L149.10,173.28 L149.80,173.26 L150.50,173.24 L151.20,173.22 L151.90,173.20 L152.60,173.19 L153.30,173.17 L154.00,173.16 L154.70,173.15 L155.40,173.14 L156.10,173.13 L156.80,173.12 L157.40,173.11" fill="none" stroke="#4633b4" stroke-width="1.1" stroke-linejoin="round" stroke-linecap="round" opacity="1" />
<path d="M92.00,224.00 L92.70,223.35 L93.40,222.35 L94.10,221.19 L94.80,219.91 L95.50,218.55 L96.20,217.14 L96.90,215.69 L97.60,214.21 L98.30,212.73 L99.00,211.24 L99.70,209.75 L100.40,208.28 L101.10,206.83 L101.80,205.40 L102.50,204.00 L103.20,202.62 L103.90,201.28 L104.60,199.98 L105.30,198.71 L106.00,197.47 L106.70,196.28 L107.40,195.13 L108.10,194.01 L108.80,192.94 L109.50,191.91 L110.20,190.91 L110.90,189.96 L111.60,189.05 L112.30,188.17 L113.00,187.33 L113.70,186.53 L114.40,185.77 L115.10,185.04 L115.80,184.35 L116.50,183.69 L117.20,183.06 L117.90,182.46 L118.60,181.89 L119.30,181.36 L120.00,180.85 L120.70,180.37 L121.40,179.91 L122.10,179.48 L122.80,179.07 L123.50,178.68 L124.20,178.32 L124.90,177.98 L125.60,177.65 L126.30,177.35 L127.00,177.06 L127.70,176.80 L128.40,176.54 L129.10,176.30 L129.80,176.08 L130.50,175.87 L131.20,175.68 L131.90,175.49 L132.60,175.32 L133.30,175.16 L134.00,175.01 L134.70,174.87 L135.40,174.73 L136.10,174.61 L136.80,174.49 L137.50,174.39 L138.20,174.29 L138.90,174.19 L139.60,174.11 L140.30,174.02 L141.00,173.95 L141.70,173.88 L142.40,173.81 L143.10,173.75 L143.80,173.70 L144.50,173.64 L145.20,173.59 L145.90,173.55 L146.60,173.51 L147.30,173.47 L148.00,173.43 L148.70,173.40 L149.40,173.37 L150.10,173.34 L150.80,173.31 L151.50,173.29 L152.20,173.26 L152.90,173.24 L153.60,173.22 L154.30,173.21 L155.00,173.19 L155.70,173.17 L156.40,173.16 L157.10,173.15 L157.40,173.14" fill="none" stroke="#4a3ccf" stroke-width="1.1" stroke-linejoin="round" stroke-linecap="round" opacity="1" />
<path d="M95.80,224.00 L96.50,223.46 L97.20,222.59 L97.90,221.54 L98.60,220.37 L99.30,219.10 L100.00,217.77 L100.70,216.38 L101.40,214.96 L102.10,213.52 L102.80,212.07 L103.50,210.61 L104.20,209.15 L104.90,207.71 L105.60,206.28 L106.30,204.87 L107.00,203.48 L107.70,202.12 L108.40,200.80 L109.10,199.50 L109.80,198.24 L110.50,197.02 L111.20,195.83 L111.90,194.68 L112.60,193.57 L113.30,192.50 L114.00,191.47 L114.70,190.48 L115.40,189.53 L116.10,188.62 L116.80,187.75 L117.50,186.91 L118.20,186.11 L118.90,185.35 L119.60,184.63 L120.30,183.94 L121.00,183.28 L121.70,182.66 L122.40,182.06 L123.10,181.50 L123.80,180.97 L124.50,180.47 L125.20,179.99 L125.90,179.54 L126.60,179.11 L127.30,178.71 L128.00,178.34 L128.70,177.98 L129.40,177.64 L130.10,177.33 L130.80,177.03 L131.50,176.76 L132.20,176.50 L132.90,176.25 L133.60,176.02 L134.30,175.81 L135.00,175.61 L135.70,175.42 L136.40,175.25 L137.10,175.08 L137.80,174.93 L138.50,174.79 L139.20,174.65 L139.90,174.53 L140.60,174.42 L141.30,174.31 L142.00,174.21 L142.70,174.12 L143.40,174.03 L144.10,173.95 L144.80,173.88 L145.50,173.81 L146.20,173.74 L146.90,173.69 L147.60,173.63 L148.30,173.58 L149.00,173.53 L149.70,173.49 L150.40,173.45 L151.10,173.41 L151.80,173.38 L152.50,173.35 L153.20,173.32 L153.90,173.29 L154.60,173.27 L155.30,173.25 L156.00,173.23 L156.70,173.21 L157.40,173.19 L157.40,173.19" fill="none" stroke="#4648e0" stroke-width="1.1" stroke-linejoin="round" stroke-linecap="round" opacity="1" />
<path d="M98.50,224.00 L99.20,223.55 L99.90,222.79 L100.60,221.84 L101.30,220.76 L102.00,219.57 L102.70,218.31 L103.40,216.98 L104.10,215.62 L104.80,214.21 L105.50,212.79 L106.20,211.35 L106.90,209.91 L107.60,208.47 L108.30,207.04 L109.00,205.62 L109.70,204.22 L110.40,202.85 L111.10,201.50 L111.80,200.17 L112.50,198.89 L113.20,197.63 L113.90,196.41 L114.60,195.23 L115.30,194.08 L116.00,192.98 L116.70,191.91 L117.40,190.88 L118.10,189.90 L118.80,188.95 L119.50,188.04 L120.20,187.18 L120.90,186.35 L121.60,185.55 L122.30,184.80 L123.00,184.08 L123.70,183.40 L124.40,182.75 L125.10,182.13 L125.80,181.55 L126.50,181.00 L127.20,180.47 L127.90,179.98 L128.60,179.52 L129.30,179.08 L130.00,178.66 L130.70,178.27 L131.40,177.91 L132.10,177.56 L132.80,177.24 L133.50,176.94 L134.20,176.66 L134.90,176.39 L135.60,176.14 L136.30,175.91 L137.00,175.70 L137.70,175.49 L138.40,175.31 L139.10,175.13 L139.80,174.97 L140.50,174.82 L141.20,174.67 L141.90,174.54 L142.60,174.42 L143.30,174.31 L144.00,174.20 L144.70,174.11 L145.40,174.02 L146.10,173.93 L146.80,173.86 L147.50,173.79 L148.20,173.72 L148.90,173.66 L149.60,173.61 L150.30,173.55 L151.00,173.51 L151.70,173.46 L152.40,173.42 L153.10,173.39 L153.80,173.35 L154.50,173.32 L155.20,173.29 L155.90,173.27 L156.60,173.24 L157.30,173.22 L157.40,173.22" fill="none" stroke="#3c63ec" stroke-width="1.1" stroke-linejoin="round" stroke-linecap="round" opacity="1" />
<path d="M100.50,224.00 L101.20,223.63 L101.90,222.95 L102.60,222.09 L103.30,221.08 L104.00,219.97 L104.70,218.77 L105.40,217.50 L106.10,216.18 L106.80,214.81 L107.50,213.41 L108.20,211.99 L108.90,210.56 L109.60,209.12 L110.30,207.68 L111.00,206.26 L111.70,204.84 L112.40,203.45 L113.10,202.07 L113.80,200.72 L114.50,199.40 L115.20,198.12 L115.90,196.86 L116.60,195.65 L117.30,194.47 L118.00,193.32 L118.70,192.22 L119.40,191.16 L120.10,190.14 L120.80,189.16 L121.50,188.22 L122.20,187.32 L122.90,186.46 L123.60,185.64 L124.30,184.85 L125.00,184.11 L125.70,183.40 L126.40,182.73 L127.10,182.09 L127.80,181.49 L128.50,180.92 L129.20,180.39 L129.90,179.88 L130.60,179.40 L131.30,178.95 L132.00,178.53 L132.70,178.13 L133.40,177.76 L134.10,177.41 L134.80,177.08 L135.50,176.78 L136.20,176.49 L136.90,176.23 L137.60,175.98 L138.30,175.75 L139.00,175.53 L139.70,175.33 L140.40,175.15 L141.10,174.98 L141.80,174.82 L142.50,174.67 L143.20,174.53 L143.90,174.40 L144.60,174.29 L145.30,174.18 L146.00,174.08 L146.70,173.99 L147.40,173.90 L148.10,173.82 L148.80,173.75 L149.50,173.68 L150.20,173.62 L150.90,173.57 L151.60,173.52 L152.30,173.47 L153.00,173.43 L153.70,173.39 L154.40,173.35 L155.10,173.32 L155.80,173.29 L156.50,173.26 L157.20,173.24 L157.40,173.23" fill="none" stroke="#3180ef" stroke-width="1.1" stroke-linejoin="round" stroke-linecap="round" opacity="1" />
<path d="M102.30,224.00 L103.00,223.63 L103.70,222.97 L104.40,222.12 L105.10,221.13 L105.80,220.03 L106.50,218.85 L107.20,217.60 L107.90,216.29 L108.60,214.94 L109.30,213.56 L110.00,212.16 L110.70,210.74 L111.40,209.32 L112.10,207.90 L112.80,206.48 L113.50,205.08 L114.20,203.70 L114.90,202.33 L115.60,200.99 L116.30,199.68 L117.00,198.40 L117.70,197.15 L118.40,195.94 L119.10,194.76 L119.80,193.63 L120.50,192.52 L121.20,191.46 L121.90,190.44 L122.60,189.46 L123.30,188.51 L124.00,187.61 L124.70,186.75 L125.40,185.92 L126.10,185.13 L126.80,184.38 L127.50,183.67 L128.20,182.99 L128.90,182.35 L129.60,181.74 L130.30,181.16 L131.00,180.62 L131.70,180.10 L132.40,179.62 L133.10,179.16 L133.80,178.73 L134.50,178.32 L135.20,177.94 L135.90,177.59 L136.60,177.25 L137.30,176.94 L138.00,176.65 L138.70,176.37 L139.40,176.12 L140.10,175.88 L140.80,175.66 L141.50,175.45 L142.20,175.26 L142.90,175.08 L143.60,174.91 L144.30,174.76 L145.00,174.62 L145.70,174.49 L146.40,174.36 L147.10,174.25 L147.80,174.15 L148.50,174.05 L149.20,173.96 L149.90,173.88 L150.60,173.80 L151.30,173.73 L152.00,173.67 L152.70,173.61 L153.40,173.56 L154.10,173.51 L154.80,173.46 L155.50,173.42 L156.20,173.38 L156.90,173.35 L157.40,173.32" fill="none" stroke="#2d93e8" stroke-width="1.1" stroke-linejoin="round" stroke-linecap="round" opacity="1" />
<path d="M296.00,229.32 L296.71,235.71 L297.90,228.42 L298.94,237.47 L299.76,227.72 L300.71,238.50 L301.73,227.23 L302.58,235.66 L303.23,227.76 L303.89,237.93 L304.88,230.78 L305.99,235.10 L307.15,227.22 L307.84,238.25 L308.91,230.48 L309.93,235.51 L311.13,227.92 L312.38,235.19 L313.15,228.23 L314.12,235.78 L315.30,227.20 L316.06,235.61 L317.08,229.20 L318.10,237.19 L318.92,230.95 L319.56,237.04 L320.62,229.11 L321.70,237.41 L322.87,228.07 L323.65,235.58 L324.23,230.87 L325.39,238.93 L326.48,230.55 L327.49,235.53 L328.67,228.07 L329.75,237.72 L330.59,227.19 L331.82,236.05 L332.68,227.71 L333.71,236.82 L334.57,226.65 L335.31,235.91 L336.35,229.79 L337.53,236.43 L338.74,229.32 L339.91,238.37 L340.98,230.07 L341.64,235.09 L342.31,228.02 L342.90,236.03 L343.84,230.34 L344.62,235.99 L345.65,230.51 L346.91,237.67 L347.96,228.54 L348.86,239.37" fill="none" stroke="#2ab4d8" stroke-width="1.1" stroke-linejoin="round" stroke-linecap="round" opacity="1" />
<path d="M303.00,225.87 L303.62,236.98 L304.98,226.73 L305.99,237.22 L306.73,226.25 L307.96,234.34 L308.96,226.86 L309.85,237.29 L311.18,225.28 L312.03,234.65 L313.31,226.68 L314.58,238.11 L315.40,226.76 L316.24,237.72 L317.40,228.42 L318.40,236.68 L319.18,228.66 L320.16,234.08 L321.16,224.90 L322.42,233.95 L323.68,225.94 L324.85,233.76 L326.05,228.45 L327.30,235.16 L328.19,228.51 L329.48,234.62 L330.78,226.78 L331.50,236.70 L332.53,229.13 L333.78,234.77 L334.40,225.47 L335.58,235.29 L336.33,226.60 L337.40,236.74 L338.39,226.36 L339.57,234.24 L340.32,226.72 L341.52,237.21 L342.80,226.89 L343.97,233.74 L344.88,228.67 L346.15,238.07 L347.29,225.26 L348.19,237.02 L348.85,227.10" fill="none" stroke="#35a0e8" stroke-width="1.0" stroke-linejoin="round" stroke-linecap="round" opacity="1" />
<path d="M308.00,225.12 L308.96,233.63 L309.83,225.13 L310.94,236.92 L312.05,225.05 L313.03,236.81 L314.82,224.72 L316.32,236.63 L318.05,224.18 L319.12,236.28 L320.71,226.86 L321.66,236.38 L322.94,225.92 L324.64,234.35 L325.68,225.08 L327.01,233.27 L328.51,223.95 L329.55,235.61 L331.11,225.56 L332.09,234.81 L333.17,226.70 L334.83,232.89 L335.71,223.87 L337.53,232.92 L338.73,225.09 L340.29,231.45 L341.74,226.36 L343.49,233.13 L345.25,225.21 L346.71,231.26 L347.70,225.79 L348.87,231.77" fill="none" stroke="#4a55e8" stroke-width="0.9" stroke-linejoin="round" stroke-linecap="round" opacity="1" />
<path d="M322.00,223.56 L323.16,227.00 L324.57,222.52 L326.10,226.50 L327.31,222.75 L328.05,226.75 L329.50,222.07 L330.76,226.54 L332.27,221.69 L333.60,225.02 L335.10,222.36 L336.15,225.71 L337.05,223.28 L338.26,226.00 L338.99,221.62 L340.45,226.39 L341.58,222.53" fill="none" stroke="#5040cc" stroke-width="1.0" stroke-linejoin="round" stroke-linecap="round" opacity="1" />
<path d="M306.00,230.92 L307.50,239.19 L308.95,230.35 L310.06,238.30 L310.98,231.64 L312.50,236.69 L313.40,230.45 L314.14,237.67 L314.94,229.16 L315.67,238.74 L316.57,229.32 L317.93,239.33 L318.75,228.56 L319.54,237.00 L320.20,230.45 L320.93,237.79 L322.42,229.34 L323.65,236.00 L325.17,230.95 L326.67,236.21 L327.59,228.70 L328.91,236.37 L329.97,230.26 L330.85,236.49 L331.59,230.39 L332.61,237.00 L333.70,231.02 L334.70,238.59 L335.49,231.98 L336.54,236.77 L337.62,229.04 L339.11,238.79 L340.58,231.46 L341.55,236.08 L342.46,231.35 L343.33,236.93 L344.82,230.37 L346.27,237.68 L347.59,229.77 L348.77,239.21" fill="none" stroke="#2ab4d8" stroke-width="0.9" stroke-linejoin="round" stroke-linecap="round" opacity="1" />
<path d="M338.00,225.06 L338.71,229.11 L339.55,224.15 L340.19,230.64 L340.74,223.11 L341.46,227.93 L342.60,220.01 L343.43,227.35 L344.61,220.56 L345.44,224.90 L346.58,218.98 L347.76,222.29 L348.79,216.22 L349.36,221.49" fill="none" stroke="#2ab4d8" stroke-width="1.0" stroke-linejoin="round" stroke-linecap="round" opacity="1" />
<path d="M312.00,229.51 L312.97,236.77 L314.52,229.23 L315.92,238.74 L317.63,229.33 L319.06,238.03 L320.25,229.18 L322.06,235.18 L323.14,230.99 L324.84,238.16 L326.54,228.60 L327.48,236.33 L328.93,229.79 L330.13,236.36 L331.30,230.91 L332.89,234.90 L334.31,229.51 L336.18,237.77 L337.63,231.17 L339.39,237.84 L341.05,227.04 L342.54,236.46 L344.08,230.76 L345.73,235.35 L347.44,228.63 L349.16,235.57" fill="none" stroke="#3a7cf0" stroke-width="0.8" stroke-linejoin="round" stroke-linecap="round" opacity="1" />
<path d="M238.60,165.10 L241.93,165.28 L246.55,165.51 L252.07,165.78 L258.10,166.09 L264.24,166.43 L270.10,166.80 L275.29,167.19 L279.41,167.60 L282.51,168.03 L285.01,168.48 L287.02,168.96 L288.65,169.46 L290.03,170.00 L291.27,170.56 L292.49,171.16 L293.82,171.80 L295.16,172.46 L296.36,173.13 L297.45,173.82 L298.45,174.56 L299.38,175.34 L300.28,176.18 L301.16,177.10 L302.04,178.10 L302.93,179.21 L303.78,180.43 L304.60,181.73 L305.38,183.09 L306.14,184.48 L306.86,185.88 L307.55,187.26 L308.21,188.60 L308.82,189.91 L309.40,191.22 L309.94,192.54 L310.45,193.85 L310.94,195.16 L311.40,196.47 L311.86,197.79 L312.31,199.10 L312.75,200.41 L313.16,201.72 L313.56,203.04 L313.94,204.35 L314.31,205.66 L314.68,206.97 L315.06,208.29 L315.44,209.60 L315.84,210.94 L316.25,212.32 L316.66,213.72 L317.07,215.11 L317.48,216.47 L317.86,217.77 L318.23,218.99 L318.57,220.10 L318.88,221.10 L319.18,222.01 L319.47,222.84 L319.74,223.62 L319.98,224.35 L320.22,225.04 L320.43,225.72 L320.62,226.40 L320.79,227.09 L320.94,227.78 L321.07,228.45 L321.19,229.09 L321.29,229.69 L321.37,230.21 L321.44,230.66 L321.50,231.00" fill="none" stroke="#4a55e8" stroke-width="1.1" stroke-linejoin="round" stroke-linecap="round" opacity="1" />
<path d="M238.60,165.10 L241.98,165.28 L246.66,165.51 L252.27,165.78 L258.38,166.09 L264.61,166.43 L270.56,166.80 L275.82,167.19 L280.00,167.60 L283.16,168.03 L285.70,168.48 L287.74,168.96 L289.41,169.46 L290.82,170.00 L292.09,170.56 L293.35,171.16 L294.70,171.80 L296.07,172.46 L297.29,173.13 L298.40,173.82 L299.43,174.56 L300.38,175.34 L301.30,176.18 L302.19,177.10 L303.10,178.10 L304.00,179.21 L304.87,180.43 L305.71,181.73 L306.51,183.09 L307.28,184.48 L308.02,185.88 L308.73,187.26 L309.40,188.60 L310.03,189.91 L310.62,191.22 L311.17,192.54 L311.69,193.85 L312.19,195.16 L312.67,196.47 L313.14,197.79 L313.60,199.10 L314.05,200.41 L314.47,201.72 L314.87,203.04 L315.26,204.35 L315.64,205.66 L316.02,206.97 L316.41,208.29 L316.80,209.60 L317.21,210.94 L317.63,212.32 L318.05,213.72 L318.47,215.11 L318.88,216.47 L319.28,217.77 L319.65,218.99 L320.00,220.10 L320.32,221.10 L320.63,222.01 L320.92,222.84 L321.19,223.62 L321.45,224.35 L321.69,225.04 L321.90,225.72 L322.10,226.40 L322.28,227.09 L322.43,227.78 L322.56,228.45 L322.68,229.09 L322.78,229.69 L322.87,230.21 L322.94,230.66 L323.00,231.00" fill="none" stroke="#2ab4d8" stroke-width="1.1" stroke-linejoin="round" stroke-linecap="round" opacity="1" />
<path d="M238.60,165.10 L242.02,165.28 L246.78,165.51 L252.46,165.78 L258.66,166.09 L264.98,166.43 L271.01,166.80 L276.35,167.19 L280.59,167.60 L283.80,168.03 L286.39,168.48 L288.47,168.96 L290.18,169.46 L291.62,170.00 L292.92,170.56 L294.20,171.16 L295.58,171.80 L296.98,172.46 L298.23,173.13 L299.36,173.82 L300.40,174.56 L301.38,175.34 L302.31,176.18 L303.23,177.10 L304.16,178.10 L305.08,179.21 L305.97,180.43 L306.82,181.73 L307.64,183.09 L308.43,184.48 L309.19,185.88 L309.91,187.26 L310.59,188.60 L311.24,189.91 L311.84,191.22 L312.41,192.54 L312.94,193.85 L313.45,195.16 L313.94,196.47 L314.41,197.79 L314.89,199.10 L315.34,200.41 L315.78,201.72 L316.19,203.04 L316.59,204.35 L316.98,205.66 L317.36,206.97 L317.76,208.29 L318.16,209.60 L318.58,210.94 L319.00,212.32 L319.43,213.72 L319.86,215.11 L320.29,216.47 L320.69,217.77 L321.08,218.99 L321.43,220.10 L321.76,221.10 L322.08,222.01 L322.37,222.84 L322.65,223.62 L322.91,224.35 L323.15,225.04 L323.38,225.72 L323.58,226.40 L323.76,227.09 L323.92,227.78 L324.05,228.45 L324.17,229.09 L324.28,229.69 L324.36,230.21 L324.44,230.66 L324.50,231.00" fill="none" stroke="#5040cc" stroke-width="1.1" stroke-linejoin="round" stroke-linecap="round" opacity="1" />
<path d="M238.60,165.50 L240.73,165.79 L243.68,166.16 L247.21,166.61 L251.06,167.11 L255.00,167.65 L258.76,168.20 L262.12,168.76 L264.81,169.30 L266.87,169.82 L268.56,170.33 L269.95,170.84 L271.11,171.38 L272.13,171.93 L273.07,172.53 L274.02,173.19 L275.04,173.90 L276.10,174.69 L277.11,175.56 L278.06,176.47 L278.97,177.43 L279.83,178.41 L280.66,179.39 L281.46,180.36 L282.24,181.30 L282.97,182.21 L283.65,183.11 L284.29,184.00 L284.90,184.89 L285.49,185.79 L286.07,186.70 L286.67,187.64 L287.29,188.60 L287.93,189.59 L288.58,190.60 L289.22,191.62 L289.87,192.66 L290.51,193.72 L291.16,194.80 L291.80,195.89 L292.44,197.00 L293.08,198.14 L293.73,199.32 L294.38,200.53 L295.03,201.75 L295.67,202.97 L296.29,204.18 L296.90,205.36 L297.48,206.50 L298.04,207.61 L298.59,208.70 L299.12,209.78 L299.64,210.84 L300.14,211.88 L300.62,212.90 L301.10,213.91 L301.55,214.90 L301.99,215.87 L302.40,216.83 L302.79,217.76 L303.17,218.68 L303.54,219.58 L303.91,220.47 L304.27,221.34 L304.65,222.20 L305.04,223.05 L305.44,223.89 L305.85,224.71 L306.25,225.52 L306.64,226.31 L307.01,227.07 L307.35,227.81 L307.65,228.50 L307.93,229.18 L308.18,229.86 L308.41,230.52 L308.61,231.14 L308.80,231.72 L308.96,232.23 L309.09,232.67 L309.20,233.00" fill="none" stroke="#4a55e8" stroke-width="1.1" stroke-linejoin="round" stroke-linecap="round" opacity="1" />
<path d="M238.60,165.50 L240.77,165.79 L243.78,166.16 L247.37,166.61 L251.29,167.11 L255.30,167.65 L259.14,168.20 L262.56,168.76 L265.30,169.30 L267.41,169.82 L269.14,170.33 L270.56,170.84 L271.76,171.38 L272.80,171.93 L273.77,172.53 L274.75,173.19 L275.80,173.90 L276.89,174.69 L277.92,175.56 L278.90,176.47 L279.83,177.43 L280.72,178.41 L281.58,179.39 L282.40,180.36 L283.20,181.30 L283.95,182.21 L284.65,183.11 L285.31,184.00 L285.93,184.89 L286.54,185.79 L287.14,186.70 L287.76,187.64 L288.40,188.60 L289.06,189.59 L289.72,190.60 L290.38,191.62 L291.05,192.66 L291.72,193.72 L292.38,194.80 L293.04,195.89 L293.70,197.00 L294.36,198.14 L295.03,199.32 L295.70,200.53 L296.37,201.75 L297.03,202.97 L297.67,204.18 L298.30,205.36 L298.90,206.50 L299.48,207.61 L300.04,208.70 L300.59,209.78 L301.12,210.84 L301.64,211.88 L302.14,212.90 L302.63,213.91 L303.10,214.90 L303.55,215.87 L303.97,216.83 L304.38,217.76 L304.77,218.68 L305.15,219.58 L305.53,220.47 L305.91,221.34 L306.30,222.20 L306.70,223.05 L307.12,223.89 L307.54,224.71 L307.95,225.52 L308.35,226.31 L308.73,227.07 L309.08,227.81 L309.40,228.50 L309.68,229.18 L309.94,229.86 L310.18,230.52 L310.39,231.14 L310.58,231.72 L310.75,232.23 L310.89,232.67 L311.00,233.00" fill="none" stroke="#5040cc" stroke-width="1.1" stroke-linejoin="round" stroke-linecap="round" opacity="1" />
<path d="M238.60,165.50 L240.81,165.79 L243.87,166.16 L247.53,166.61 L251.52,167.11 L255.60,167.65 L259.51,168.20 L262.99,168.76 L265.79,169.30 L267.95,169.82 L269.71,170.33 L271.17,170.84 L272.40,171.38 L273.47,171.93 L274.47,172.53 L275.48,173.19 L276.56,173.90 L277.67,174.69 L278.73,175.56 L279.74,176.47 L280.70,177.43 L281.61,178.41 L282.49,179.39 L283.34,180.36 L284.16,181.30 L284.93,182.21 L285.65,183.11 L286.32,184.00 L286.97,184.89 L287.59,185.79 L288.21,186.70 L288.85,187.64 L289.51,188.60 L290.18,189.59 L290.87,190.60 L291.55,191.62 L292.23,192.66 L292.92,193.72 L293.60,194.80 L294.28,195.89 L294.96,197.00 L295.64,198.14 L296.33,199.32 L297.02,200.53 L297.71,201.75 L298.39,202.97 L299.05,204.18 L299.70,205.36 L300.32,206.50 L300.92,207.61 L301.50,208.70 L302.06,209.78 L302.61,210.84 L303.15,211.88 L303.66,212.90 L304.16,213.91 L304.65,214.90 L305.11,215.87 L305.55,216.83 L305.97,217.76 L306.37,218.68 L306.76,219.58 L307.16,220.47 L307.55,221.34 L307.95,222.20 L308.36,223.05 L308.79,223.89 L309.22,224.71 L309.65,225.52 L310.07,226.31 L310.46,227.07 L310.82,227.81 L311.15,228.50 L311.44,229.18 L311.71,229.86 L311.95,230.52 L312.17,231.14 L312.37,231.72 L312.54,232.23 L312.68,232.67 L312.80,233.00" fill="none" stroke="#4a55e8" stroke-width="1.1" stroke-linejoin="round" stroke-linecap="round" opacity="1" />
<path d="M238.60,165.50 L242.01,165.81 L246.76,166.21 L252.45,166.68 L258.64,167.21 L264.92,167.79 L270.85,168.40 L276.02,169.05 L280.00,169.70 L282.82,170.37 L284.90,171.08 L286.39,171.82 L287.44,172.59 L288.23,173.39 L288.89,174.23 L289.60,175.10 L290.50,176.00 L291.49,176.92 L292.37,177.85 L293.17,178.81 L293.91,179.81 L294.62,180.85 L295.32,181.96 L296.04,183.13 L296.80,184.40 L297.59,185.79 L298.40,187.30 L299.21,188.91 L300.01,190.57 L300.81,192.24 L301.60,193.90 L302.36,195.50 L303.10,197.00 L303.82,198.41 L304.52,199.77 L305.21,201.09 L305.88,202.38 L306.54,203.65 L307.18,204.92 L307.80,206.20 L308.40,207.50 L308.99,208.84 L309.55,210.22 L310.10,211.62 L310.64,213.01 L311.15,214.37 L311.65,215.67 L312.14,216.89 L312.60,218.00 L313.05,219.00 L313.49,219.91 L313.92,220.74 L314.33,221.51 L314.72,222.24 L315.08,222.94 L315.41,223.62 L315.70,224.30 L315.96,225.00 L316.18,225.70 L316.38,226.39 L316.54,227.04 L316.69,227.65 L316.81,228.19 L316.91,228.65 L317.00,229.00" fill="none" stroke="#35a0e8" stroke-width="1.1" stroke-linejoin="round" stroke-linecap="round" opacity="1" />
<path d="M238.60,165.90 L239.56,166.05 L240.86,166.24 L242.42,166.46 L244.14,166.71 L245.91,167.00 L247.64,167.31 L249.24,167.64 L250.60,168.00 L251.77,168.38 L252.85,168.80 L253.85,169.23 L254.79,169.70 L255.66,170.19 L256.48,170.70 L257.26,171.24 L258.00,171.80 L258.69,172.38 L259.30,172.97 L259.86,173.59 L260.37,174.23 L260.85,174.90 L261.30,175.60 L261.75,176.33 L262.20,177.10 L262.64,177.90 L263.05,178.73 L263.44,179.59 L263.81,180.49 L264.18,181.41 L264.54,182.37 L264.92,183.37 L265.30,184.40 L265.70,185.49 L266.10,186.65 L266.50,187.85 L266.90,189.08 L267.30,190.32 L267.70,191.55 L268.10,192.75 L268.50,193.90 L268.88,195.02 L269.26,196.13 L269.62,197.22 L269.99,198.30 L270.36,199.35 L270.75,200.37 L271.16,201.36 L271.60,202.30 L272.06,203.18 L272.55,204.00 L273.05,204.77 L273.56,205.52 L274.10,206.26 L274.65,207.00 L275.21,207.78 L275.80,208.60 L276.42,209.46 L277.08,210.35 L277.77,211.25 L278.47,212.17 L279.17,213.10 L279.85,214.03 L280.50,214.97 L281.10,215.90 L281.68,216.89 L282.26,217.96 L282.84,219.06 L283.38,220.16 L283.88,221.19 L284.33,222.13 L284.71,222.91 L285.00,223.50" fill="none" stroke="#2ab4d8" stroke-width="1.1" stroke-linejoin="round" stroke-linecap="round" opacity="1" />
<path d="M285.00,223.50 L287.00,224.50 L289.80,228.70 L291.20,227.50 L293.00,231.00 L294.50,229.70 L296.00,234.00 L297.30,235.40 L299.00,232.00 L300.50,233.50 L302.00,229.50 L305.00,228.70" fill="none" stroke="#2ab4d8" stroke-width="1.1" stroke-linejoin="round" stroke-linecap="round" opacity="1" />
<path d="M238.60,165.90 L240.26,166.18 L242.55,166.55 L245.28,166.98 L248.28,167.47 L251.33,168.00 L254.27,168.56 L256.88,169.13 L259.00,169.70 L260.64,170.28 L261.99,170.87 L263.12,171.49 L264.08,172.13 L264.93,172.80 L265.73,173.50 L266.53,174.23 L267.40,175.00 L268.29,175.80 L269.12,176.63 L269.92,177.49 L270.68,178.39 L271.43,179.31 L272.17,180.27 L272.93,181.27 L273.70,182.30 L274.49,183.39 L275.30,184.55 L276.11,185.75 L276.91,186.98 L277.71,188.22 L278.50,189.45 L279.26,190.65 L280.00,191.80 L280.71,192.90 L281.40,193.98 L282.07,195.03 L282.72,196.07 L283.36,197.10 L284.01,198.13 L284.65,199.16 L285.30,200.20 L285.95,201.24 L286.60,202.28 L287.25,203.31 L287.90,204.34 L288.55,205.38 L289.20,206.43 L289.85,207.50 L290.50,208.60 L291.17,209.73 L291.84,210.90 L292.53,212.10 L293.21,213.30 L293.89,214.50 L294.55,215.70 L295.19,216.87 L295.80,218.00 L296.39,219.11 L296.98,220.22 L297.55,221.32 L298.10,222.39 L298.63,223.45 L299.12,224.47 L299.58,225.46 L300.00,226.40 L300.38,227.33 L300.72,228.27 L301.03,229.19 L301.31,230.07 L301.56,230.89 L301.77,231.62 L301.95,232.23 L302.10,232.70" fill="none" stroke="#35a0e8" stroke-width="1.1" stroke-linejoin="round" stroke-linecap="round" opacity="1" />
<path d="M45.80,370.08 L46.80,372.37 L48.06,370.10 L49.10,373.77 L50.02,368.76 L51.20,373.08 L52.31,369.45 L53.20,373.89 L54.12,368.73 L55.40,372.13 L56.21,369.65 L57.46,372.40 L58.55,369.85 L59.78,373.77 L60.99,370.17 L62.20,372.88 L63.47,369.66 L64.79,373.87 L66.05,369.02 L67.31,373.16 L68.05,368.73 L69.02,372.11 L69.97,369.76 L70.73,373.83 L71.42,368.87 L72.46,372.41 L73.34,369.70 L74.04,373.47 L75.16,368.73 L76.42,373.51 L77.82,368.82 L78.93,373.06 L79.95,369.04 L81.29,373.59 L82.57,370.47 L83.50,372.24 L84.57,369.46 L85.62,373.64 L86.40,369.19 L87.47,372.47 L88.85,370.42 L89.82,373.05 L90.90,368.73 L91.94,373.69 L92.78,369.64 L93.49,373.24 L94.43,369.09 L95.12,372.93 L96.49,370.50 L97.62,373.31 L98.80,369.51 L99.80,373.83 L100.62,369.24 L101.76,373.41 L102.74,370.49 L103.96,372.59 L105.19,368.72 L106.41,372.81 L107.69,369.82 L108.55,373.12 L109.67,369.27 L110.72,372.82 L111.91,369.93" fill="none" stroke="#2ab0d8" stroke-width="1.1" stroke-linejoin="round" stroke-linecap="round" opacity="1" />
<path d="M45.80,368.94 L46.43,373.18 L47.13,367.94 L47.71,372.92 L48.48,368.83 L49.22,373.33 L50.31,368.94 L51.53,371.23 L52.42,367.64 L53.52,371.40 L54.66,368.28 L55.73,373.32 L56.70,368.95 L57.72,372.12 L58.78,367.03 L59.40,372.44" fill="none" stroke="#3d6af0" stroke-width="1.0" stroke-linejoin="round" stroke-linecap="round" opacity="1" />
<path d="M45.80,367.46 L46.89,372.84 L48.11,369.18 L49.39,372.76 L50.50,369.19 L51.52,372.38 L52.29,367.43 L53.56,372.49 L54.22,367.34 L54.92,372.60 L55.97,367.62" fill="none" stroke="#4a3dd0" stroke-width="0.9" stroke-linejoin="round" stroke-linecap="round" opacity="1" />
<path d="M55.00,370.55 L56.31,373.97 L57.95,370.90 L59.55,373.93 L60.84,371.28 L61.69,373.95 L62.68,370.27 L63.67,372.91 L64.61,370.26 L65.49,373.26 L67.11,370.66 L67.90,372.62 L69.54,370.98 L70.41,373.34 L72.00,370.98 L72.92,372.86 L74.20,370.31 L75.06,373.67 L76.55,370.62 L77.73,372.64 L79.04,370.82 L80.52,372.69 L81.47,371.37 L82.76,372.68 L84.09,370.79 L85.22,372.87 L86.96,370.73 L87.84,373.41 L89.42,370.72 L91.12,373.77 L92.61,371.36 L93.81,373.31 L94.76,370.70 L96.24,373.65 L97.81,370.35 L98.90,373.46 L100.20,370.34 L101.11,372.85 L102.63,370.39 L103.65,373.68 L105.24,370.49 L106.50,372.68 L107.52,370.33 L109.27,372.83 L110.09,370.91 L111.85,372.90" fill="none" stroke="#2ab0d8" stroke-width="0.9" stroke-linejoin="round" stroke-linecap="round" opacity="1" />
<path d="M45.80,368.45 L47.07,373.98 L48.21,369.68 L49.16,372.73 L50.29,369.36 L51.48,371.96 L52.25,369.63 L52.99,373.47 L54.29,369.90 L55.27,371.92 L56.07,369.80 L57.23,373.66" fill="none" stroke="#2f90e8" stroke-width="0.9" stroke-linejoin="round" stroke-linecap="round" opacity="1" />
<path d="M51.40,372.00 L51.52,371.24 L51.66,370.23 L51.84,369.04 L52.04,367.70 L52.26,366.28 L52.49,364.82 L52.74,363.38 L53.00,362.00 L53.27,360.70 L53.54,359.42 L53.83,358.14 L54.13,356.84 L54.46,355.48 L54.81,354.04 L55.19,352.49 L55.60,350.80 L56.06,348.91 L56.58,346.81 L57.14,344.57 L57.71,342.26 L58.29,339.96 L58.86,337.74 L59.40,335.66 L59.90,333.80 L60.34,332.15 L60.73,330.63 L61.09,329.22 L61.44,327.91 L61.79,326.67 L62.18,325.48 L62.61,324.33 L63.10,323.20 L63.64,322.10 L64.20,321.06 L64.79,320.06 L65.42,319.12 L66.09,318.22 L66.80,317.35 L67.57,316.51 L68.40,315.70 L69.22,314.92 L70.00,314.19 L70.79,313.49 L71.65,312.82 L72.63,312.18 L73.80,311.57 L75.20,310.98 L76.90,310.40 L78.88,309.84 L81.08,309.29 L83.48,308.76 L86.09,308.26 L88.87,307.79 L91.83,307.35 L94.94,306.95 L98.20,306.60 L101.71,306.30 L105.54,306.04 L109.60,305.83 L113.79,305.66 L118.02,305.50 L122.21,305.36 L126.27,305.23 L130.10,305.10 L133.90,304.97 L137.85,304.85 L141.80,304.75 L145.64,304.66 L149.23,304.58 L152.44,304.51 L155.14,304.45 L157.20,304.40" fill="none" stroke="#4a3dd0" stroke-width="1.1" stroke-linejoin="round" stroke-linecap="round" opacity="1" />
<path d="M54.60,372.00 L54.72,371.24 L54.86,370.23 L55.04,369.04 L55.24,367.70 L55.46,366.28 L55.69,364.82 L55.94,363.38 L56.20,362.00 L56.47,360.68 L56.75,359.37 L57.05,358.05 L57.37,356.70 L57.70,355.32 L58.05,353.88 L58.42,352.38 L58.80,350.80 L59.21,349.10 L59.66,347.26 L60.14,345.35 L60.62,343.39 L61.12,341.43 L61.60,339.52 L62.06,337.69 L62.50,336.00 L62.89,334.42 L63.25,332.91 L63.59,331.46 L63.92,330.07 L64.26,328.74 L64.63,327.45 L65.03,326.21 L65.50,325.00 L66.01,323.84 L66.53,322.73 L67.07,321.67 L67.66,320.66 L68.28,319.69 L68.96,318.75 L69.69,317.86 L70.50,317.00 L71.31,316.18 L72.09,315.41 L72.88,314.69 L73.75,314.00 L74.74,313.34 L75.91,312.71 L77.32,312.10 L79.00,311.50 L80.97,310.91 L83.16,310.34 L85.56,309.78 L88.16,309.25 L90.92,308.75 L93.82,308.29 L96.86,307.87 L100.00,307.50 L103.34,307.19 L106.93,306.93 L110.71,306.72 L114.61,306.54 L118.56,306.39 L122.49,306.26 L126.32,306.13 L130.00,306.00 L133.72,305.87 L137.63,305.75 L141.60,305.65 L145.47,305.56 L149.12,305.48 L152.38,305.41 L155.12,305.35 L157.20,305.30" fill="none" stroke="#4a3dd0" stroke-width="1.1" stroke-linejoin="round" stroke-linecap="round" opacity="1" />
<path d="M57.80,372.00 L57.93,371.24 L58.09,370.25 L58.28,369.07 L58.49,367.75 L58.73,366.34 L58.98,364.88 L59.24,363.41 L59.50,362.00 L59.77,360.62 L60.05,359.21 L60.33,357.78 L60.64,356.31 L60.95,354.81 L61.29,353.26 L61.63,351.66 L62.00,350.00 L62.39,348.25 L62.82,346.39 L63.26,344.46 L63.72,342.50 L64.18,340.54 L64.64,338.61 L65.08,336.75 L65.50,335.00 L65.89,333.34 L66.26,331.72 L66.61,330.15 L66.96,328.62 L67.31,327.15 L67.68,325.72 L68.07,324.34 L68.50,323.00 L68.95,321.70 L69.39,320.45 L69.85,319.23 L70.33,318.06 L70.85,316.95 L71.40,315.90 L72.02,314.91 L72.70,314.00 L73.38,313.16 L74.01,312.39 L74.65,311.69 L75.36,311.05 L76.20,310.46 L77.21,309.93 L78.46,309.44 L80.00,309.00 L81.64,308.61 L83.24,308.30 L84.94,308.04 L86.88,307.83 L89.22,307.65 L92.09,307.50 L95.63,307.35 L100.00,307.20 L105.76,307.06 L113.03,306.93 L121.24,306.83 L129.85,306.74 L138.30,306.66 L146.05,306.60 L152.53,306.55 L157.20,306.50" fill="none" stroke="#3d6af0" stroke-width="1.1" stroke-linejoin="round" stroke-linecap="round" opacity="1" />
<path d="M62.00,372.00 L62.13,371.24 L62.30,370.25 L62.50,369.07 L62.73,367.75 L62.98,366.34 L63.24,364.88 L63.52,363.41 L63.80,362.00 L64.09,360.61 L64.39,359.19 L64.71,357.73 L65.04,356.25 L65.39,354.73 L65.75,353.19 L66.12,351.61 L66.50,350.00 L66.90,348.33 L67.32,346.57 L67.75,344.76 L68.20,342.94 L68.65,341.12 L69.11,339.34 L69.56,337.62 L70.00,336.00 L70.43,334.46 L70.85,332.97 L71.27,331.52 L71.69,330.12 L72.11,328.77 L72.55,327.47 L73.01,326.21 L73.50,325.00 L73.99,323.83 L74.47,322.71 L74.96,321.63 L75.47,320.59 L76.01,319.61 L76.61,318.68 L77.26,317.81 L78.00,317.00 L78.76,316.25 L79.50,315.56 L80.26,314.93 L81.09,314.36 L82.04,313.83 L83.14,313.35 L84.45,312.90 L86.00,312.50 L87.62,312.14 L89.20,311.85 L90.86,311.60 L92.74,311.39 L94.96,311.22 L97.66,311.07 L100.96,310.93 L105.00,310.80 L110.29,310.69 L116.94,310.60 L124.44,310.54 L132.29,310.49 L139.99,310.46 L147.04,310.44 L152.95,310.42 L157.20,310.40" fill="none" stroke="#3d6af0" stroke-width="1.1" stroke-linejoin="round" stroke-linecap="round" opacity="1" />
<path d="M69.50,372.00 L69.65,371.12 L69.84,369.98 L70.06,368.64 L70.31,367.12 L70.59,365.47 L70.88,363.70 L71.19,361.87 L71.50,360.00 L71.83,358.00 L72.19,355.79 L72.58,353.44 L72.98,351.03 L73.38,348.60 L73.77,346.25 L74.15,344.02 L74.50,342.00 L74.83,340.17 L75.14,338.46 L75.44,336.86 L75.72,335.34 L76.01,333.87 L76.30,332.44 L76.59,331.03 L76.90,329.60 L77.21,328.16 L77.53,326.73 L77.86,325.31 L78.18,323.93 L78.51,322.60 L78.84,321.32 L79.17,320.12 L79.50,319.00 L79.80,318.00 L80.06,317.11 L80.29,316.30 L80.54,315.55 L80.83,314.82 L81.19,314.09 L81.63,313.33 L82.20,312.50 L82.83,311.58 L83.47,310.59 L84.15,309.56 L84.92,308.52 L85.83,307.53 L86.90,306.60 L88.17,305.78 L89.70,305.10 L91.44,304.57 L93.36,304.17 L95.45,303.86 L97.72,303.63 L100.19,303.45 L102.85,303.30 L105.72,303.16 L108.80,303.00 L112.31,302.84 L116.33,302.69 L120.69,302.57 L125.17,302.48 L129.61,302.40 L133.80,302.34 L137.56,302.31 L140.70,302.30 L143.23,302.32 L145.34,302.38 L147.10,302.46 L148.58,302.57 L149.84,302.68 L150.95,302.80 L151.98,302.91 L153.00,303.00 L153.94,303.08 L154.72,303.17 L155.35,303.26 L155.87,303.34 L156.29,303.42 L156.64,303.49 L156.93,303.55 L157.20,303.60" fill="none" stroke="#2ab0d8" stroke-width="1.1" stroke-linejoin="round" stroke-linecap="round" opacity="1" />
<path d="M91.50,372.50 L91.61,371.70 L91.74,370.65 L91.89,369.40 L92.07,368.00 L92.27,366.51 L92.49,364.98 L92.74,363.46 L93.00,362.00 L93.29,360.56 L93.60,359.08 L93.94,357.55 L94.30,356.01 L94.68,354.47 L95.07,352.94 L95.48,351.45 L95.90,350.00 L96.32,348.59 L96.75,347.19 L97.18,345.81 L97.64,344.45 L98.12,343.12 L98.63,341.81 L99.19,340.54 L99.80,339.30 L100.49,338.08 L101.26,336.86 L102.09,335.66 L102.95,334.49 L103.81,333.38 L104.64,332.33 L105.41,331.37 L106.10,330.50 L106.68,329.75 L107.15,329.12 L107.57,328.57 L107.96,328.09 L108.36,327.65 L108.81,327.22 L109.34,326.78 L110.00,326.30 L110.79,325.79 L111.67,325.28 L112.63,324.77 L113.65,324.27 L114.70,323.78 L115.75,323.30 L116.79,322.84 L117.80,322.40 L118.77,321.99 L119.72,321.60 L120.67,321.24 L121.62,320.89 L122.59,320.54 L123.59,320.20 L124.62,319.86 L125.70,319.50 L126.83,319.13 L128.02,318.75 L129.24,318.37 L130.48,317.99 L131.74,317.62 L133.01,317.26 L134.26,316.92 L135.50,316.60 L136.74,316.30 L138.00,316.03 L139.26,315.77 L140.53,315.52 L141.77,315.28 L142.99,315.05 L144.17,314.82 L145.30,314.60 L146.40,314.37 L147.48,314.14 L148.53,313.92 L149.56,313.70 L150.53,313.49 L151.46,313.31 L152.32,313.14 L153.10,313.00 L153.82,312.89 L154.48,312.81 L155.09,312.74 L155.64,312.70 L156.13,312.67 L156.55,312.64 L156.91,312.62 L157.20,312.60" fill="none" stroke="#3a82f4" stroke-width="1.1" stroke-linejoin="round" stroke-linecap="round" opacity="1" />
<path d="M117.20,373.00 L117.31,372.28 L117.45,371.32 L117.62,370.18 L117.81,368.91 L118.03,367.57 L118.26,366.20 L118.52,364.86 L118.80,363.60 L119.10,362.39 L119.43,361.18 L119.78,359.95 L120.16,358.73 L120.55,357.49 L120.95,356.26 L121.37,355.03 L121.80,353.80 L122.24,352.56 L122.71,351.31 L123.20,350.04 L123.69,348.78 L124.20,347.54 L124.70,346.32 L125.21,345.13 L125.70,344.00 L126.18,342.92 L126.65,341.89 L127.12,340.89 L127.59,339.93 L128.06,338.97 L128.55,338.02 L129.06,337.07 L129.60,336.10 L130.17,335.12 L130.78,334.14 L131.41,333.17 L132.05,332.19 L132.69,331.22 L133.32,330.25 L133.93,329.27 L134.50,328.30 L135.04,327.31 L135.55,326.31 L136.04,325.29 L136.51,324.28 L136.98,323.29 L137.45,322.32 L137.92,321.38 L138.40,320.50 L138.88,319.66 L139.35,318.87 L139.82,318.10 L140.29,317.37 L140.76,316.66 L141.25,315.96 L141.76,315.28 L142.30,314.60 L142.86,313.93 L143.45,313.26 L144.06,312.60 L144.69,311.96 L145.32,311.35 L145.95,310.76 L146.58,310.21 L147.20,309.70 L147.81,309.24 L148.42,308.81 L149.03,308.43 L149.64,308.07 L150.25,307.73 L150.86,307.41 L151.48,307.11 L152.10,306.80 L152.76,306.49 L153.48,306.19 L154.22,305.90 L154.96,305.62 L155.65,305.36 L156.28,305.14 L156.81,304.95 L157.20,304.80" fill="none" stroke="#2ab0d8" stroke-width="1.1" stroke-linejoin="round" stroke-linecap="round" opacity="1" />
<path d="M418.80,368.43 L419.74,373.27 L420.51,368.82 L421.55,372.55 L422.35,368.63 L423.13,371.84 L424.12,367.54 L425.16,372.88 L425.94,368.57 L426.58,373.09 L427.34,368.89 L428.58,372.22 L429.83,368.16 L430.92,372.87 L431.59,367.94 L432.31,372.37 L432.95,369.41 L433.75,371.49 L434.57,367.64 L435.83,372.41" fill="none" stroke="#3a84ef" stroke-width="1.0" stroke-linejoin="round" stroke-linecap="round" opacity="1" />
<path d="M418.80,369.48 L419.52,372.27 L420.72,368.95 L421.41,372.80 L422.44,369.38 L423.22,372.61 L423.97,368.82 L425.20,373.07 L426.22,368.28 L427.21,372.24 L428.19,368.37 L428.99,373.34 L430.48,368.49 L431.55,372.72 L432.98,368.77" fill="none" stroke="#4a5ae6" stroke-width="0.9" stroke-linejoin="round" stroke-linecap="round" opacity="1" />
<path d="M418.80,370.40 L419.89,373.62 L420.68,370.34 L421.95,373.31 L422.88,369.84 L423.68,372.73 L424.37,369.99 L425.09,373.91 L426.45,369.64 L427.12,373.37 L427.85,370.04 L428.55,373.19 L429.21,370.21 L430.00,373.13 L431.34,369.67 L432.57,373.60 L433.59,370.60 L434.24,372.52 L435.25,370.10 L436.60,372.64" fill="none" stroke="#2fb0e8" stroke-width="0.9" stroke-linejoin="round" stroke-linecap="round" opacity="1" />
<path d="M436.00,373.50 L440.00,372.80 L442.00,370.00 L443.50,373.20 L446.00,372.50 L447.50,368.80 L449.00,373.00 L452.40,367.60 L454.50,369.00 L456.00,371.00 L457.50,373.50 L459.20,374.00" fill="none" stroke="#2fb0e8" stroke-width="1.0" stroke-linejoin="round" stroke-linecap="round" opacity="1" />
<path d="M429.60,373.00 L429.84,371.77 L430.15,370.11 L430.53,368.13 L430.95,365.94 L431.39,363.65 L431.85,361.38 L432.29,359.22 L432.70,357.30 L433.10,355.56 L433.50,353.88 L433.90,352.26 L434.30,350.68 L434.70,349.13 L435.10,347.63 L435.50,346.15 L435.90,344.70 L436.28,343.27 L436.66,341.88 L437.02,340.52 L437.39,339.19 L437.76,337.89 L438.15,336.63 L438.56,335.40 L439.00,334.20 L439.46,333.05 L439.92,331.95 L440.40,330.90 L440.90,329.87 L441.42,328.86 L441.98,327.85 L442.57,326.84 L443.20,325.80 L443.87,324.74 L444.58,323.65 L445.32,322.56 L446.09,321.47 L446.89,320.40 L447.73,319.35 L448.60,318.35 L449.50,317.40 L450.44,316.49 L451.40,315.62 L452.40,314.77 L453.44,313.96 L454.50,313.19 L455.60,312.45 L456.74,311.75 L457.90,311.10 L459.10,310.49 L460.33,309.93 L461.59,309.41 L462.89,308.93 L464.22,308.48 L465.58,308.06 L466.97,307.67 L468.40,307.30 L469.83,306.96 L471.25,306.66 L472.69,306.38 L474.17,306.14 L475.71,305.92 L477.35,305.73 L479.10,305.55 L481.00,305.40 L483.00,305.28 L485.07,305.19 L487.22,305.13 L489.48,305.09 L491.86,305.07 L494.40,305.05 L497.10,305.03 L500.00,305.00 L503.34,304.96 L507.23,304.93 L511.42,304.90 L515.69,304.88 L519.81,304.85 L523.55,304.83 L526.69,304.81 L529.00,304.80" fill="none" stroke="#4a4ee0" stroke-width="1.2" stroke-linejoin="round" stroke-linecap="round" opacity="1" />
<path d="M430.38,373.00 L430.62,371.77 L430.94,370.11 L431.32,368.13 L431.74,365.94 L432.18,363.65 L432.64,361.37 L433.08,359.22 L433.49,357.30 L433.89,355.56 L434.29,353.88 L434.69,352.24 L435.09,350.66 L435.49,349.11 L435.89,347.61 L436.28,346.14 L436.68,344.70 L437.06,343.30 L437.43,341.95 L437.80,340.64 L438.16,339.36 L438.54,338.12 L438.93,336.90 L439.35,335.70 L439.79,334.51 L440.26,333.35 L440.74,332.23 L441.24,331.13 L441.75,330.06 L442.29,328.99 L442.87,327.93 L443.48,326.87 L444.14,325.80 L444.85,324.71 L445.59,323.60 L446.37,322.48 L447.18,321.38 L448.03,320.29 L448.91,319.23 L449.82,318.21 L450.76,317.25 L451.73,316.34 L452.74,315.45 L453.78,314.60 L454.85,313.79 L455.96,313.01 L457.10,312.28 L458.27,311.58 L459.47,310.94 L460.72,310.33 L462.00,309.78 L463.31,309.27 L464.66,308.80 L466.03,308.37 L467.43,307.97 L468.85,307.59 L470.29,307.24 L471.72,306.92 L473.12,306.63 L474.53,306.38 L475.97,306.15 L477.47,305.96 L479.06,305.78 L480.75,305.62 L482.57,305.47 L484.50,305.35 L486.47,305.27 L488.52,305.20 L490.66,305.16 L492.94,305.12 L495.36,305.10 L497.96,305.07 L500.75,305.03 L503.99,304.99 L507.77,304.95 L511.85,304.92 L516.01,304.89 L520.03,304.86 L523.69,304.84 L526.75,304.82 L529.00,304.80" fill="none" stroke="#3d6af0" stroke-width="1.2" stroke-linejoin="round" stroke-linecap="round" opacity="1" />
<path d="M431.16,373.00 L431.40,371.77 L431.72,370.11 L432.10,368.13 L432.53,365.94 L432.98,363.65 L433.43,361.37 L433.88,359.22 L434.29,357.30 L434.68,355.56 L435.08,353.87 L435.48,352.23 L435.87,350.64 L436.27,349.09 L436.67,347.59 L437.07,346.12 L437.46,344.70 L437.84,343.33 L438.21,342.02 L438.58,340.76 L438.94,339.54 L439.32,338.35 L439.71,337.17 L440.13,336.00 L440.59,334.83 L441.07,333.66 L441.56,332.51 L442.07,331.37 L442.60,330.24 L443.16,329.13 L443.76,328.01 L444.40,326.91 L445.09,325.80 L445.83,324.68 L446.60,323.55 L447.42,322.41 L448.27,321.28 L449.16,320.17 L450.08,319.10 L451.04,318.07 L452.02,317.10 L453.03,316.18 L454.08,315.29 L455.16,314.43 L456.27,313.62 L457.42,312.84 L458.60,312.10 L459.81,311.41 L461.05,310.77 L462.34,310.18 L463.67,309.63 L465.03,309.14 L466.43,308.68 L467.85,308.26 L469.29,307.88 L470.73,307.52 L472.18,307.18 L473.60,306.87 L474.99,306.61 L476.37,306.38 L477.78,306.17 L479.23,305.99 L480.76,305.83 L482.39,305.69 L484.15,305.55 L485.99,305.43 L487.87,305.34 L489.82,305.27 L491.85,305.22 L494.01,305.18 L496.32,305.14 L498.81,305.10 L501.50,305.06 L504.64,305.01 L508.31,304.97 L512.28,304.93 L516.33,304.90 L520.26,304.87 L523.82,304.84 L526.81,304.82 L529.00,304.80" fill="none" stroke="#30a8f0" stroke-width="1.2" stroke-linejoin="round" stroke-linecap="round" opacity="1" />
<path d="M431.94,373.00 L432.18,371.77 L432.50,370.11 L432.89,368.13 L433.32,365.94 L433.77,363.65 L434.22,361.38 L434.67,359.22 L435.09,357.30 L435.48,355.56 L435.87,353.86 L436.27,352.21 L436.66,350.62 L437.06,349.07 L437.45,347.56 L437.85,346.11 L438.24,344.70 L438.62,343.36 L438.99,342.09 L439.35,340.88 L439.72,339.72 L440.10,338.58 L440.49,337.45 L440.92,336.31 L441.38,335.14 L441.88,333.96 L442.38,332.78 L442.90,331.60 L443.45,330.43 L444.04,329.26 L444.65,328.10 L445.32,326.94 L446.04,325.80 L446.80,324.65 L447.61,323.49 L448.47,322.33 L449.36,321.19 L450.30,320.06 L451.26,318.97 L452.26,317.93 L453.28,316.95 L454.33,316.02 L455.42,315.12 L456.54,314.26 L457.69,313.44 L458.87,312.66 L460.09,311.93 L461.34,311.24 L462.62,310.61 L463.95,310.02 L465.33,309.49 L466.75,309.00 L468.20,308.56 L469.67,308.16 L471.14,307.78 L472.61,307.44 L474.07,307.12 L475.48,306.83 L476.85,306.58 L478.21,306.37 L479.58,306.19 L480.99,306.03 L482.46,305.88 L484.03,305.75 L485.73,305.62 L487.49,305.51 L489.27,305.42 L491.12,305.34 L493.04,305.28 L495.09,305.23 L497.29,305.18 L499.66,305.14 L502.25,305.09 L505.29,305.04 L508.85,304.99 L512.71,304.95 L516.66,304.91 L520.48,304.88 L523.95,304.85 L526.87,304.82 L529.00,304.80" fill="none" stroke="#4a5ae6" stroke-width="1.2" stroke-linejoin="round" stroke-linecap="round" opacity="1" />
<path d="M432.72,373.00 L432.96,371.77 L433.29,370.11 L433.67,368.13 L434.10,365.94 L434.56,363.65 L435.02,361.38 L435.46,359.22 L435.88,357.30 L436.27,355.55 L436.67,353.85 L437.06,352.20 L437.45,350.60 L437.84,349.04 L438.23,347.54 L438.63,346.09 L439.02,344.70 L439.40,343.39 L439.77,342.16 L440.13,341.01 L440.50,339.90 L440.87,338.81 L441.27,337.72 L441.71,336.61 L442.18,335.46 L442.68,334.27 L443.20,333.06 L443.74,331.84 L444.31,330.62 L444.91,329.39 L445.55,328.18 L446.24,326.98 L446.98,325.80 L447.78,324.63 L448.63,323.44 L449.52,322.26 L450.46,321.09 L451.43,319.95 L452.44,318.85 L453.48,317.79 L454.54,316.80 L455.63,315.86 L456.76,314.95 L457.92,314.09 L459.11,313.27 L460.33,312.49 L461.59,311.76 L462.88,311.07 L464.20,310.44 L465.57,309.86 L467.00,309.34 L468.47,308.87 L469.98,308.44 L471.49,308.05 L473.00,307.69 L474.50,307.37 L475.96,307.06 L477.37,306.79 L478.72,306.56 L480.05,306.37 L481.38,306.21 L482.75,306.06 L484.17,305.94 L485.68,305.82 L487.30,305.70 L488.98,305.59 L490.68,305.49 L492.42,305.41 L494.23,305.34 L496.17,305.28 L498.25,305.23 L500.51,305.17 L503.00,305.12 L505.93,305.07 L509.39,305.01 L513.14,304.97 L516.98,304.92 L520.70,304.89 L524.09,304.85 L526.92,304.82 L529.00,304.80" fill="none" stroke="#3a7cf0" stroke-width="1.2" stroke-linejoin="round" stroke-linecap="round" opacity="1" />
<path d="M433.50,373.00 L433.75,371.77 L434.07,370.11 L434.46,368.13 L434.89,365.94 L435.35,363.65 L435.81,361.38 L436.26,359.22 L436.68,357.30 L437.07,355.55 L437.46,353.85 L437.85,352.19 L438.24,350.58 L438.63,349.02 L439.02,347.52 L439.41,346.08 L439.80,344.70 L440.18,343.42 L440.55,342.23 L440.91,341.13 L441.27,340.07 L441.65,339.04 L442.06,337.99 L442.49,336.92 L442.98,335.78 L443.49,334.57 L444.02,333.34 L444.57,332.08 L445.16,330.80 L445.78,329.53 L446.44,328.26 L447.15,327.01 L447.93,325.80 L448.76,324.60 L449.64,323.39 L450.57,322.19 L451.55,321.00 L452.56,319.84 L453.62,318.72 L454.70,317.66 L455.80,316.65 L456.93,315.70 L458.10,314.79 L459.29,313.92 L460.52,313.10 L461.79,312.32 L463.08,311.59 L464.41,310.90 L465.77,310.27 L467.19,309.70 L468.67,309.19 L470.20,308.73 L471.75,308.32 L473.31,307.94 L474.86,307.60 L476.38,307.29 L477.85,307.00 L479.25,306.74 L480.59,306.54 L481.89,306.36 L483.19,306.22 L484.50,306.10 L485.87,305.99 L487.32,305.89 L488.88,305.77 L490.48,305.67 L492.08,305.57 L493.72,305.48 L495.42,305.41 L497.24,305.34 L499.21,305.27 L501.37,305.21 L503.75,305.15 L506.58,305.09 L509.92,305.03 L513.57,304.98 L517.30,304.94 L520.92,304.89 L524.22,304.86 L526.98,304.83 L529.00,304.80" fill="none" stroke="#2fb0e8" stroke-width="1.2" stroke-linejoin="round" stroke-linecap="round" opacity="1" />
<path d="M434.28,373.00 L434.53,371.77 L434.86,370.11 L435.25,368.13 L435.68,365.94 L436.14,363.65 L436.60,361.37 L437.05,359.22 L437.47,357.30 L437.86,355.55 L438.25,353.84 L438.64,352.17 L439.02,350.56 L439.41,349.00 L439.80,347.50 L440.19,346.06 L440.58,344.70 L440.96,343.44 L441.33,342.31 L441.69,341.25 L442.05,340.25 L442.43,339.27 L442.84,338.27 L443.28,337.22 L443.77,336.09 L444.29,334.88 L444.84,333.61 L445.41,332.31 L446.01,330.99 L446.65,329.66 L447.33,328.34 L448.07,327.05 L448.87,325.80 L449.73,324.57 L450.65,323.34 L451.62,322.11 L452.64,320.91 L453.70,319.73 L454.79,318.60 L455.91,317.52 L457.06,316.50 L458.23,315.54 L459.44,314.62 L460.67,313.75 L461.94,312.92 L463.25,312.14 L464.58,311.41 L465.95,310.73 L467.35,310.11 L468.81,309.55 L470.34,309.04 L471.92,308.59 L473.52,308.19 L475.12,307.83 L476.71,307.51 L478.26,307.21 L479.74,306.94 L481.14,306.70 L482.46,306.51 L483.73,306.36 L484.99,306.24 L486.26,306.14 L487.58,306.04 L488.96,305.95 L490.45,305.85 L491.97,305.74 L493.48,305.65 L495.01,305.56 L496.61,305.47 L498.32,305.39 L500.17,305.32 L502.22,305.25 L504.50,305.18 L507.23,305.12 L510.46,305.06 L514.00,305.00 L517.63,304.95 L521.15,304.90 L524.35,304.86 L527.04,304.83 L529.00,304.80" fill="none" stroke="#3a84ef" stroke-width="1.2" stroke-linejoin="round" stroke-linecap="round" opacity="1" />
<path d="M434.80,373.00 L435.05,371.77 L435.38,370.11 L435.77,368.13 L436.21,365.94 L436.67,363.65 L437.13,361.38 L437.58,359.22 L438.00,357.30 L438.39,355.55 L438.78,353.83 L439.17,352.16 L439.55,350.54 L439.93,348.98 L440.32,347.48 L440.71,346.05 L441.10,344.70 L441.48,343.46 L441.85,342.35 L442.20,341.33 L442.57,340.37 L442.95,339.42 L443.36,338.45 L443.80,337.42 L444.30,336.30 L444.83,335.08 L445.38,333.80 L445.96,332.47 L446.57,331.11 L447.23,329.75 L447.93,328.40 L448.68,327.07 L449.50,325.80 L450.38,324.55 L451.33,323.30 L452.32,322.06 L453.37,320.84 L454.46,319.66 L455.58,318.51 L456.73,317.42 L457.90,316.40 L459.10,315.43 L460.33,314.51 L461.59,313.64 L462.89,312.81 L464.22,312.03 L465.58,311.30 L466.97,310.62 L468.40,310.00 L469.89,309.44 L471.45,308.94 L473.06,308.50 L474.70,308.11 L476.34,307.76 L477.95,307.45 L479.51,307.16 L481.00,306.90 L482.39,306.67 L483.70,306.50 L484.96,306.36 L486.19,306.25 L487.44,306.16 L488.71,306.08 L490.06,306.00 L491.50,305.90 L492.97,305.80 L494.42,305.70 L495.88,305.60 L497.41,305.51 L499.04,305.43 L500.82,305.35 L502.79,305.27 L505.00,305.20 L507.66,305.13 L510.82,305.07 L514.29,305.01 L517.84,304.96 L521.30,304.91 L524.44,304.86 L527.08,304.83 L529.00,304.80" fill="none" stroke="#3a8ef0" stroke-width="1.2" stroke-linejoin="round" stroke-linecap="round" opacity="1" />
<path d="M459.20,374.00 L462.30,366.30 L463.20,366.90 L465.10,361.70 L466.90,360.80 L468.70,357.70 L471.00,352.20" fill="none" stroke="#2fb0e8" stroke-width="1.2" stroke-linejoin="round" stroke-linecap="round" opacity="1" />
<path d="M471.00,352.20 L471.21,351.70 L471.48,351.09 L471.80,350.37 L472.16,349.54 L472.54,348.59 L472.93,347.52 L473.32,346.32 L473.70,345.00 L474.07,343.48 L474.44,341.74 L474.83,339.84 L475.22,337.84 L475.61,335.79 L476.01,333.76 L476.40,331.81 L476.80,330.00 L477.20,328.27 L477.60,326.54 L478.00,324.84 L478.40,323.18 L478.80,321.59 L479.20,320.08 L479.60,318.68 L480.00,317.40 L480.37,316.25 L480.71,315.22 L481.03,314.28 L481.36,313.43 L481.71,312.66 L482.10,311.96 L482.56,311.31 L483.10,310.70 L483.69,310.16 L484.30,309.72 L484.95,309.34 L485.66,309.03 L486.44,308.75 L487.31,308.50 L488.29,308.25 L489.40,308.00 L490.58,307.75 L491.77,307.54 L493.03,307.34 L494.41,307.16 L495.94,307.00 L497.69,306.83 L499.69,306.67 L502.00,306.50 L504.87,306.32 L508.37,306.13 L512.26,305.94 L516.29,305.76 L520.22,305.58 L523.81,305.43 L526.82,305.30 L529.00,305.20" fill="none" stroke="#2fb0e8" stroke-width="1.2" stroke-linejoin="round" stroke-linecap="round" opacity="1" />
<path d="M436.10,373.50 L438.40,358.60 L439.70,353.60 L440.20,361.30 L441.50,349.50 L442.40,345.00 L444.00,336.00" fill="none" stroke="#2fb0e8" stroke-width="1.1" stroke-linejoin="round" stroke-linecap="round" opacity="1" />
<rect x="46.1" y="16.3" width="111.40" height="86.00" fill="none" stroke="#5a5a5a" stroke-width="1.15"/>
<path d="M46.10,102.3v-3M46.10,16.3v3" stroke="#5a5a5a" stroke-width="1.15"/>
<text x="46.10" y="116.30" font-family="Liberation Sans, sans-serif" font-size="10" text-anchor="middle" font-weight="normal" font-style="normal" fill="#1e1e1e" stroke="#1e1e1e" stroke-width="0.18" >-8</text>
<path d="M73.95,102.3v-3M73.95,16.3v3" stroke="#5a5a5a" stroke-width="1.15"/>
<text x="73.95" y="116.30" font-family="Liberation Sans, sans-serif" font-size="10" text-anchor="middle" font-weight="normal" font-style="normal" fill="#1e1e1e" stroke="#1e1e1e" stroke-width="0.18" >-4</text>
<path d="M101.80,102.3v-3M101.80,16.3v3" stroke="#5a5a5a" stroke-width="1.15"/>
<text x="101.80" y="116.30" font-family="Liberation Sans, sans-serif" font-size="10" text-anchor="middle" font-weight="normal" font-style="normal" fill="#1e1e1e" stroke="#1e1e1e" stroke-width="0.18" >0</text>
<path d="M129.65,102.3v-3M129.65,16.3v3" stroke="#5a5a5a" stroke-width="1.15"/>
<text x="129.65" y="116.30" font-family="Liberation Sans, sans-serif" font-size="10" text-anchor="middle" font-weight="normal" font-style="normal" fill="#1e1e1e" stroke="#1e1e1e" stroke-width="0.18" >4</text>
<path d="M157.50,102.3v-3M157.50,16.3v3" stroke="#5a5a5a" stroke-width="1.15"/>
<text x="157.50" y="116.30" font-family="Liberation Sans, sans-serif" font-size="10" text-anchor="middle" font-weight="normal" font-style="normal" fill="#1e1e1e" stroke="#1e1e1e" stroke-width="0.18" >8</text>
<path d="M46.1,26.50h3.5M157.5,26.50h-3.5" stroke="#5a5a5a" stroke-width="1.15"/>
<text x="42.30" y="32.70" font-family="Liberation Sans, sans-serif" font-size="10" text-anchor="end" font-weight="normal" font-style="normal" fill="#1e1e1e" stroke="#1e1e1e" stroke-width="0.18" >10<tspan font-size="7.4" dy="-5.2">-6</tspan></text>
<path d="M46.1,37.35h2M157.5,37.35h-2" stroke="#5a5a5a" stroke-width="1.15"/>
<path d="M46.1,48.20h2M157.5,48.20h-2" stroke="#5a5a5a" stroke-width="1.15"/>
<path d="M46.1,59.05h3.5M157.5,59.05h-3.5" stroke="#5a5a5a" stroke-width="1.15"/>
<text x="42.30" y="65.25" font-family="Liberation Sans, sans-serif" font-size="10" text-anchor="end" font-weight="normal" font-style="normal" fill="#1e1e1e" stroke="#1e1e1e" stroke-width="0.18" >10<tspan font-size="7.4" dy="-5.2">-9</tspan></text>
<path d="M46.1,69.90h2M157.5,69.90h-2" stroke="#5a5a5a" stroke-width="1.15"/>
<path d="M46.1,80.75h2M157.5,80.75h-2" stroke="#5a5a5a" stroke-width="1.15"/>
<path d="M46.1,91.60h3.5M157.5,91.60h-3.5" stroke="#5a5a5a" stroke-width="1.15"/>
<text x="42.30" y="97.80" font-family="Liberation Sans, sans-serif" font-size="10" text-anchor="end" font-weight="normal" font-style="normal" fill="#1e1e1e" stroke="#1e1e1e" stroke-width="0.18" >10<tspan font-size="7.4" dy="-5.2">-12</tspan></text>
<text x="32.40" y="10.00" font-family="Liberation Sans, sans-serif" font-size="14" text-anchor="start" font-weight="bold" font-style="normal" fill="#000" >a</text>
<text transform="translate(8.40,59.00) rotate(-90)" font-family="Liberation Sans, sans-serif" font-size="11" text-anchor="middle" fill="#1e1e1e" stroke="#1e1e1e" stroke-width="0.18">I<tspan font-size="9" dy="5.5">DS</tspan><tspan dy="-5.5" letter-spacing="0.9"> (A/</tspan><tspan font-style="italic" letter-spacing="0.9">μ</tspan><tspan letter-spacing="0.9">m)</tspan></text>
<text x="102.00" y="130.90" font-family="Liberation Sans, sans-serif" font-size="11" text-anchor="middle" font-weight="normal" font-style="normal" fill="#1e1e1e" stroke="#1e1e1e" stroke-width="0.18" >V<tspan font-size="9" dy="5.5">TG</tspan><tspan dy="-5.5" letter-spacing="0.8"> (V)</tspan></text>
<text x="50.80" y="26.30" font-family="Liberation Serif, serif" font-size="9.2" text-anchor="start" font-weight="normal" font-style="normal" fill="#222" >MoS<tspan font-size="6.26" dy="2.2">2</tspan><tspan dy="-2.2"> FET</tspan></text>
<text x="116.60" y="84.30" font-family="Liberation Serif, serif" font-size="9" text-anchor="start" font-weight="normal" font-style="normal" fill="#222" ><tspan font-style="italic">V</tspan><tspan font-style="italic" font-weight="bold" font-size="6.48" dy="1.6">BG</tspan><tspan dy="-1.6"> = 3 V</tspan></text>
<text x="116.60" y="94.60" font-family="Liberation Serif, serif" font-size="9" text-anchor="start" font-weight="normal" font-style="normal" fill="#222" ><tspan font-style="italic">V</tspan><tspan font-style="italic" font-weight="bold" font-size="6.48" dy="1.6">DS</tspan><tspan dy="-1.6"> = 1 V</tspan></text>
<rect x="161" y="15.00" width="8" height="14.87" fill="#4633b4"/>
<rect x="161" y="29.47" width="8" height="14.87" fill="#4a3ccf"/>
<rect x="161" y="43.93" width="8" height="14.87" fill="#4648e0"/>
<rect x="161" y="58.40" width="8" height="14.87" fill="#3c63ec"/>
<rect x="161" y="72.87" width="8" height="14.87" fill="#3180ef"/>
<rect x="161" y="87.33" width="8" height="14.87" fill="#2d93e8"/>
<text x="171.40" y="24.60" font-family="Liberation Sans, sans-serif" font-size="8.5" text-anchor="start" font-weight="normal" font-style="normal" fill="#1e1e1e" stroke="#1e1e1e" stroke-width="0.18" >± 3</text>
<text x="171.40" y="38.94" font-family="Liberation Sans, sans-serif" font-size="8.5" text-anchor="start" font-weight="normal" font-style="normal" fill="#1e1e1e" stroke="#1e1e1e" stroke-width="0.18" >± 4</text>
<text x="171.40" y="53.28" font-family="Liberation Sans, sans-serif" font-size="8.5" text-anchor="start" font-weight="normal" font-style="normal" fill="#1e1e1e" stroke="#1e1e1e" stroke-width="0.18" >± 5</text>
<text x="171.40" y="67.62" font-family="Liberation Sans, sans-serif" font-size="8.5" text-anchor="start" font-weight="normal" font-style="normal" fill="#1e1e1e" stroke="#1e1e1e" stroke-width="0.18" >± 6</text>
<text x="171.40" y="81.96" font-family="Liberation Sans, sans-serif" font-size="8.5" text-anchor="start" font-weight="normal" font-style="normal" fill="#1e1e1e" stroke="#1e1e1e" stroke-width="0.18" >± 7</text>
<text x="171.40" y="96.30" font-family="Liberation Sans, sans-serif" font-size="8.5" text-anchor="start" font-weight="normal" font-style="normal" fill="#1e1e1e" stroke="#1e1e1e" stroke-width="0.18" >± 8</text>
<text x="148.30" y="7.90" font-family="Liberation Sans, sans-serif" font-size="9" text-anchor="start" font-weight="normal" font-style="normal" fill="#1e1e1e" stroke="#1e1e1e" stroke-width="0.18" ><tspan font-style="italic">V</tspan><tspan font-style="italic" font-size="6.5" dy="2.6">sweep</tspan><tspan dy="-2.6" dx="1.2">(V)</tspan></text>
<rect x="238.3" y="15.9" width="111.20" height="86.30" fill="none" stroke="#5a5a5a" stroke-width="1.15"/>
<path d="M238.30,102.2v-3M238.30,15.9v3" stroke="#5a5a5a" stroke-width="1.15"/>
<text x="238.30" y="116.20" font-family="Liberation Sans, sans-serif" font-size="10" text-anchor="middle" font-weight="normal" font-style="normal" fill="#1e1e1e" stroke="#1e1e1e" stroke-width="0.18" >-8</text>
<path d="M266.10,102.2v-3M266.10,15.9v3" stroke="#5a5a5a" stroke-width="1.15"/>
<text x="266.10" y="116.20" font-family="Liberation Sans, sans-serif" font-size="10" text-anchor="middle" font-weight="normal" font-style="normal" fill="#1e1e1e" stroke="#1e1e1e" stroke-width="0.18" >-4</text>
<path d="M293.90,102.2v-3M293.90,15.9v3" stroke="#5a5a5a" stroke-width="1.15"/>
<text x="293.90" y="116.20" font-family="Liberation Sans, sans-serif" font-size="10" text-anchor="middle" font-weight="normal" font-style="normal" fill="#1e1e1e" stroke="#1e1e1e" stroke-width="0.18" >0</text>
<path d="M321.70,102.2v-3M321.70,15.9v3" stroke="#5a5a5a" stroke-width="1.15"/>
<text x="321.70" y="116.20" font-family="Liberation Sans, sans-serif" font-size="10" text-anchor="middle" font-weight="normal" font-style="normal" fill="#1e1e1e" stroke="#1e1e1e" stroke-width="0.18" >4</text>
<path d="M349.50,102.2v-3M349.50,15.9v3" stroke="#5a5a5a" stroke-width="1.15"/>
<text x="349.50" y="116.20" font-family="Liberation Sans, sans-serif" font-size="10" text-anchor="middle" font-weight="normal" font-style="normal" fill="#1e1e1e" stroke="#1e1e1e" stroke-width="0.18" >8</text>
<path d="M238.3,21.90h2M349.5,21.90h-2" stroke="#5a5a5a" stroke-width="1.15"/>
<path d="M238.3,31.90h3.5M349.5,31.90h-3.5" stroke="#5a5a5a" stroke-width="1.15"/>
<text x="234.50" y="38.10" font-family="Liberation Sans, sans-serif" font-size="10" text-anchor="end" font-weight="normal" font-style="normal" fill="#1e1e1e" stroke="#1e1e1e" stroke-width="0.18" >10<tspan font-size="7.4" dy="-5.2">-6</tspan></text>
<path d="M238.3,41.90h2M349.5,41.90h-2" stroke="#5a5a5a" stroke-width="1.15"/>
<path d="M238.3,51.90h2M349.5,51.90h-2" stroke="#5a5a5a" stroke-width="1.15"/>
<path d="M238.3,61.90h3.5M349.5,61.90h-3.5" stroke="#5a5a5a" stroke-width="1.15"/>
<text x="234.50" y="68.10" font-family="Liberation Sans, sans-serif" font-size="10" text-anchor="end" font-weight="normal" font-style="normal" fill="#1e1e1e" stroke="#1e1e1e" stroke-width="0.18" >10<tspan font-size="7.4" dy="-5.2">-9</tspan></text>
<path d="M238.3,71.90h2M349.5,71.90h-2" stroke="#5a5a5a" stroke-width="1.15"/>
<path d="M238.3,81.90h2M349.5,81.90h-2" stroke="#5a5a5a" stroke-width="1.15"/>
<path d="M238.3,91.90h3.5M349.5,91.90h-3.5" stroke="#5a5a5a" stroke-width="1.15"/>
<text x="234.50" y="98.10" font-family="Liberation Sans, sans-serif" font-size="10" text-anchor="end" font-weight="normal" font-style="normal" fill="#1e1e1e" stroke="#1e1e1e" stroke-width="0.18" >10<tspan font-size="7.4" dy="-5.2">-12</tspan></text>
<text x="227.60" y="10.00" font-family="Liberation Sans, sans-serif" font-size="14" text-anchor="start" font-weight="bold" font-style="normal" fill="#000" >b</text>
<text transform="translate(200.60,59.20) rotate(-90)" font-family="Liberation Sans, sans-serif" font-size="11" text-anchor="middle" fill="#1e1e1e" stroke="#1e1e1e" stroke-width="0.18">I<tspan font-size="9" dy="5.5">DS</tspan><tspan dy="-5.5" letter-spacing="0.9"> (A/</tspan><tspan font-style="italic" letter-spacing="0.9">μ</tspan><tspan letter-spacing="0.9">m)</tspan></text>
<text x="294.00" y="130.80" font-family="Liberation Sans, sans-serif" font-size="11" text-anchor="middle" font-weight="normal" font-style="normal" fill="#1e1e1e" stroke="#1e1e1e" stroke-width="0.18" >V<tspan font-size="9" dy="5.5">TG</tspan><tspan dy="-5.5" letter-spacing="0.8"> (V)</tspan></text>
<text x="346.00" y="27.00" font-family="Liberation Serif, serif" font-size="9.2" text-anchor="end" font-weight="normal" font-style="normal" fill="#222" >WSe<tspan font-size="6.26" dy="2.2">2</tspan><tspan dy="-2.2"> FET</tspan></text>
<text x="244.00" y="85.00" font-family="Liberation Serif, serif" font-size="9" text-anchor="start" font-weight="normal" font-style="normal" fill="#222" ><tspan font-style="italic">V</tspan><tspan font-style="italic" font-weight="bold" font-size="6.48" dy="1.6">BG</tspan><tspan dy="-1.6"> = -4 V</tspan></text>
<text x="244.00" y="95.00" font-family="Liberation Serif, serif" font-size="9" text-anchor="start" font-weight="normal" font-style="normal" fill="#222" ><tspan font-style="italic">V</tspan><tspan font-style="italic" font-weight="bold" font-size="6.48" dy="1.6">DS</tspan><tspan dy="-1.6"> = 1 V</tspan></text>
<rect x="353.5" y="17.10" width="6.5" height="14.68" fill="#4a3dcc"/>
<rect x="353.5" y="31.38" width="6.5" height="14.68" fill="#4a55e6"/>
<rect x="353.5" y="45.67" width="6.5" height="14.68" fill="#3a7cf0"/>
<rect x="353.5" y="59.95" width="6.5" height="14.68" fill="#2f9ae6"/>
<rect x="353.5" y="74.23" width="6.5" height="14.68" fill="#2ab0d8"/>
<rect x="353.5" y="88.52" width="6.5" height="14.68" fill="#1fbcc8"/>
<text x="361.80" y="27.70" font-family="Liberation Sans, sans-serif" font-size="8.5" text-anchor="start" font-weight="normal" font-style="normal" fill="#1e1e1e" stroke="#1e1e1e" stroke-width="0.18" >± 3</text>
<text x="361.80" y="41.90" font-family="Liberation Sans, sans-serif" font-size="8.5" text-anchor="start" font-weight="normal" font-style="normal" fill="#1e1e1e" stroke="#1e1e1e" stroke-width="0.18" >± 4</text>
<text x="361.80" y="56.10" font-family="Liberation Sans, sans-serif" font-size="8.5" text-anchor="start" font-weight="normal" font-style="normal" fill="#1e1e1e" stroke="#1e1e1e" stroke-width="0.18" >± 5</text>
<text x="361.80" y="70.30" font-family="Liberation Sans, sans-serif" font-size="8.5" text-anchor="start" font-weight="normal" font-style="normal" fill="#1e1e1e" stroke="#1e1e1e" stroke-width="0.18" >± 6</text>
<text x="361.80" y="84.50" font-family="Liberation Sans, sans-serif" font-size="8.5" text-anchor="start" font-weight="normal" font-style="normal" fill="#1e1e1e" stroke="#1e1e1e" stroke-width="0.18" >± 7</text>
<text x="361.80" y="98.70" font-family="Liberation Sans, sans-serif" font-size="8.5" text-anchor="start" font-weight="normal" font-style="normal" fill="#1e1e1e" stroke="#1e1e1e" stroke-width="0.18" >± 8</text>
<text x="340.90" y="9.60" font-family="Liberation Sans, sans-serif" font-size="9" text-anchor="start" font-weight="normal" font-style="normal" fill="#1e1e1e" stroke="#1e1e1e" stroke-width="0.18" ><tspan font-style="italic">V</tspan><tspan font-style="italic" font-size="6.3" dy="2.6">sweep</tspan><tspan dy="-2.6" dx="1.2">(V)</tspan></text>
<rect x="418.6" y="16.2" width="108.40" height="86.60" fill="none" stroke="#5a5a5a" stroke-width="1.15"/>
<path d="M434.09,102.8v-3M434.09,16.2v3" stroke="#5a5a5a" stroke-width="1.15"/>
<text x="434.09" y="117.10" font-family="Liberation Sans, sans-serif" font-size="10" text-anchor="middle" font-weight="normal" font-style="normal" fill="#1e1e1e" stroke="#1e1e1e" stroke-width="0.18" >3</text>
<path d="M449.57,102.8v-3M449.57,16.2v3" stroke="#5a5a5a" stroke-width="1.15"/>
<text x="449.57" y="117.10" font-family="Liberation Sans, sans-serif" font-size="10" text-anchor="middle" font-weight="normal" font-style="normal" fill="#1e1e1e" stroke="#1e1e1e" stroke-width="0.18" >4</text>
<path d="M465.06,102.8v-3M465.06,16.2v3" stroke="#5a5a5a" stroke-width="1.15"/>
<text x="465.06" y="117.10" font-family="Liberation Sans, sans-serif" font-size="10" text-anchor="middle" font-weight="normal" font-style="normal" fill="#1e1e1e" stroke="#1e1e1e" stroke-width="0.18" >5</text>
<path d="M480.54,102.8v-3M480.54,16.2v3" stroke="#5a5a5a" stroke-width="1.15"/>
<text x="480.54" y="117.10" font-family="Liberation Sans, sans-serif" font-size="10" text-anchor="middle" font-weight="normal" font-style="normal" fill="#1e1e1e" stroke="#1e1e1e" stroke-width="0.18" >6</text>
<path d="M496.03,102.8v-3M496.03,16.2v3" stroke="#5a5a5a" stroke-width="1.15"/>
<text x="496.03" y="117.10" font-family="Liberation Sans, sans-serif" font-size="10" text-anchor="middle" font-weight="normal" font-style="normal" fill="#1e1e1e" stroke="#1e1e1e" stroke-width="0.18" >7</text>
<path d="M511.51,102.8v-3M511.51,16.2v3" stroke="#5a5a5a" stroke-width="1.15"/>
<text x="511.51" y="117.10" font-family="Liberation Sans, sans-serif" font-size="10" text-anchor="middle" font-weight="normal" font-style="normal" fill="#1e1e1e" stroke="#1e1e1e" stroke-width="0.18" >8</text>
<path d="M418.6,102.80h3M527.0,102.80h-3" stroke="#5a5a5a" stroke-width="1.15"/>
<text x="414.10" y="106.30" font-family="Liberation Sans, sans-serif" font-size="10" text-anchor="end" font-weight="normal" font-style="normal" fill="#1e1e1e" stroke="#1e1e1e" stroke-width="0.18" >-2</text>
<path d="M418.6,85.48h3M527.0,85.48h-3" stroke="#5a5a5a" stroke-width="1.15"/>
<text x="414.10" y="88.98" font-family="Liberation Sans, sans-serif" font-size="10" text-anchor="end" font-weight="normal" font-style="normal" fill="#1e1e1e" stroke="#1e1e1e" stroke-width="0.18" >0</text>
<path d="M418.6,68.16h3M527.0,68.16h-3" stroke="#5a5a5a" stroke-width="1.15"/>
<text x="414.10" y="71.66" font-family="Liberation Sans, sans-serif" font-size="10" text-anchor="end" font-weight="normal" font-style="normal" fill="#1e1e1e" stroke="#1e1e1e" stroke-width="0.18" >2</text>
<path d="M418.6,50.84h3M527.0,50.84h-3" stroke="#5a5a5a" stroke-width="1.15"/>
<text x="414.10" y="54.34" font-family="Liberation Sans, sans-serif" font-size="10" text-anchor="end" font-weight="normal" font-style="normal" fill="#1e1e1e" stroke="#1e1e1e" stroke-width="0.18" >4</text>
<path d="M418.6,33.52h3M527.0,33.52h-3" stroke="#5a5a5a" stroke-width="1.15"/>
<text x="414.10" y="37.02" font-family="Liberation Sans, sans-serif" font-size="10" text-anchor="end" font-weight="normal" font-style="normal" fill="#1e1e1e" stroke="#1e1e1e" stroke-width="0.18" >6</text>
<path d="M418.6,16.20h3M527.0,16.20h-3" stroke="#5a5a5a" stroke-width="1.15"/>
<text x="414.10" y="19.70" font-family="Liberation Sans, sans-serif" font-size="10" text-anchor="end" font-weight="normal" font-style="normal" fill="#1e1e1e" stroke="#1e1e1e" stroke-width="0.18" >8</text>
<text x="398.00" y="10.00" font-family="Liberation Sans, sans-serif" font-size="14" text-anchor="start" font-weight="bold" font-style="normal" fill="#000" >c</text>
<text transform="translate(395.00,59.80) rotate(-90)" font-family="Liberation Sans, sans-serif" font-size="11.4" text-anchor="middle" fill="#1e1e1e" stroke="#1e1e1e" stroke-width="0.18">V<tspan font-size="9.6" dy="5">Hyst</tspan><tspan dy="-5"> (V)</tspan></text>
<text x="472.90" y="131.90" font-family="Liberation Sans, sans-serif" font-size="11" text-anchor="middle" font-weight="normal" font-style="normal" fill="#1e1e1e" stroke="#1e1e1e" stroke-width="0.18" >V<tspan font-size="9.4" dy="4.2">sweep</tspan><tspan dy="-4.2" letter-spacing="0.9"> (V)</tspan></text>
<text x="423.60" y="28.90" font-family="Liberation Serif, serif" font-size="9.4" text-anchor="start" font-weight="normal" font-style="normal" fill="#222" >MoS<tspan font-size="6.39" dy="2.2">2</tspan><tspan dy="-2.2"> FET</tspan></text>
<text x="520.50" y="77.70" font-family="Liberation Sans, sans-serif" font-size="9.5" text-anchor="end" font-weight="normal" font-style="normal" fill="#222" >CCW</text>
<text x="517.20" y="97.80" font-family="Liberation Sans, sans-serif" font-size="9.5" text-anchor="end" font-weight="normal" font-style="normal" fill="#222" >CW</text>
<path d="M434.09,83.62L437.14,87.82L434.09,92.02L431.04,87.82Z" fill="#45b0f5" stroke="#1a78d2" stroke-width="1.3"/>
<path d="M449.57,78.68L452.62,82.88L449.57,87.08L446.52,82.88Z" fill="#45b0f5" stroke="#1a78d2" stroke-width="1.3"/>
<path d="M465.06,76.08L468.11,80.28L465.06,84.48L462.01,80.28Z" fill="#45b0f5" stroke="#1a78d2" stroke-width="1.3"/>
<path d="M480.54,66.56L483.59,70.76L480.54,74.96L477.49,70.76Z" fill="#45b0f5" stroke="#1a78d2" stroke-width="1.3"/>
<path d="M496.03,37.46L499.08,41.66L496.03,45.86L492.98,41.66Z" fill="#45b0f5" stroke="#1a78d2" stroke-width="1.3"/>
<path d="M511.51,20.05L514.56,24.25L511.51,28.45L508.46,24.25Z" fill="#45b0f5" stroke="#1a78d2" stroke-width="1.3"/>
<line x1="418.6" y1="85.48" x2="527.0" y2="85.48" stroke="#333" stroke-width="1.5" stroke-dasharray="3.2,2.3"/>
<rect x="570.0" y="15.5" width="107.80" height="87.30" fill="none" stroke="#5a5a5a" stroke-width="1.15"/>
<path d="M585.40,102.8v-3M585.40,15.5v3" stroke="#5a5a5a" stroke-width="1.15"/>
<text x="585.40" y="117.10" font-family="Liberation Sans, sans-serif" font-size="10" text-anchor="middle" font-weight="normal" font-style="normal" fill="#1e1e1e" stroke="#1e1e1e" stroke-width="0.18" >3</text>
<path d="M600.80,102.8v-3M600.80,15.5v3" stroke="#5a5a5a" stroke-width="1.15"/>
<text x="600.80" y="117.10" font-family="Liberation Sans, sans-serif" font-size="10" text-anchor="middle" font-weight="normal" font-style="normal" fill="#1e1e1e" stroke="#1e1e1e" stroke-width="0.18" >4</text>
<path d="M616.20,102.8v-3M616.20,15.5v3" stroke="#5a5a5a" stroke-width="1.15"/>
<text x="616.20" y="117.10" font-family="Liberation Sans, sans-serif" font-size="10" text-anchor="middle" font-weight="normal" font-style="normal" fill="#1e1e1e" stroke="#1e1e1e" stroke-width="0.18" >5</text>
<path d="M631.60,102.8v-3M631.60,15.5v3" stroke="#5a5a5a" stroke-width="1.15"/>
<text x="631.60" y="117.10" font-family="Liberation Sans, sans-serif" font-size="10" text-anchor="middle" font-weight="normal" font-style="normal" fill="#1e1e1e" stroke="#1e1e1e" stroke-width="0.18" >6</text>
<path d="M647.00,102.8v-3M647.00,15.5v3" stroke="#5a5a5a" stroke-width="1.15"/>
<text x="647.00" y="117.10" font-family="Liberation Sans, sans-serif" font-size="10" text-anchor="middle" font-weight="normal" font-style="normal" fill="#1e1e1e" stroke="#1e1e1e" stroke-width="0.18" >7</text>
<path d="M662.40,102.8v-3M662.40,15.5v3" stroke="#5a5a5a" stroke-width="1.15"/>
<text x="662.40" y="117.10" font-family="Liberation Sans, sans-serif" font-size="10" text-anchor="middle" font-weight="normal" font-style="normal" fill="#1e1e1e" stroke="#1e1e1e" stroke-width="0.18" >8</text>
<path d="M570.0,102.80h3M677.8,102.80h-3" stroke="#5a5a5a" stroke-width="1.15"/>
<text x="566.10" y="106.30" font-family="Liberation Sans, sans-serif" font-size="10" text-anchor="end" font-weight="normal" font-style="normal" fill="#1e1e1e" stroke="#1e1e1e" stroke-width="0.18" >0</text>
<path d="M570.0,73.70h3M677.8,73.70h-3" stroke="#5a5a5a" stroke-width="1.15"/>
<text x="566.10" y="77.20" font-family="Liberation Sans, sans-serif" font-size="10" text-anchor="end" font-weight="normal" font-style="normal" fill="#1e1e1e" stroke="#1e1e1e" stroke-width="0.18" >2</text>
<path d="M570.0,44.60h3M677.8,44.60h-3" stroke="#5a5a5a" stroke-width="1.15"/>
<text x="566.10" y="48.10" font-family="Liberation Sans, sans-serif" font-size="10" text-anchor="end" font-weight="normal" font-style="normal" fill="#1e1e1e" stroke="#1e1e1e" stroke-width="0.18" >4</text>
<path d="M570.0,15.50h3M677.8,15.50h-3" stroke="#5a5a5a" stroke-width="1.15"/>
<text x="566.10" y="19.00" font-family="Liberation Sans, sans-serif" font-size="10" text-anchor="end" font-weight="normal" font-style="normal" fill="#1e1e1e" stroke="#1e1e1e" stroke-width="0.18" >6</text>
<text x="546.60" y="10.00" font-family="Liberation Sans, sans-serif" font-size="14" text-anchor="start" font-weight="bold" font-style="normal" fill="#000" >d</text>
<text transform="translate(551.70,58.20) rotate(-90)" font-family="Liberation Sans, sans-serif" font-size="11.2" text-anchor="middle" fill="#1e1e1e" stroke="#1e1e1e" stroke-width="0.18">V<tspan font-size="9.4" dy="5">Hyst</tspan><tspan dy="-5"> (V)</tspan></text>
<text x="624.00" y="130.40" font-family="Liberation Sans, sans-serif" font-size="11" text-anchor="middle" font-weight="normal" font-style="normal" fill="#1e1e1e" stroke="#1e1e1e" stroke-width="0.18" >V<tspan font-size="9.2" dy="4.2">sweep</tspan><tspan dy="-4.2" letter-spacing="0.2"> (V)</tspan></text>
<text x="575.50" y="28.50" font-family="Liberation Serif, serif" font-size="9.4" text-anchor="start" font-weight="normal" font-style="normal" fill="#222" >WSe<tspan font-size="6.39" dy="2.2">2</tspan><tspan dy="-2.2"> FET</tspan></text>
<path d="M585.40,92.93L588.30,96.83L585.40,100.73L582.50,96.83Z" fill="#3aa8f5" stroke="#2196f0" stroke-width="1.0"/>
<path d="M600.80,89.44L603.70,93.34L600.80,97.24L597.90,93.34Z" fill="#3aa8f5" stroke="#2196f0" stroke-width="1.0"/>
<path d="M616.20,80.13L619.10,84.03L616.20,87.93L613.30,84.03Z" fill="#3aa8f5" stroke="#2196f0" stroke-width="1.0"/>
<path d="M631.60,77.80L634.50,81.70L631.60,85.60L628.70,81.70Z" fill="#3aa8f5" stroke="#2196f0" stroke-width="1.0"/>
<path d="M647.00,58.16L649.90,62.06L647.00,65.96L644.10,62.06Z" fill="#3aa8f5" stroke="#2196f0" stroke-width="1.0"/>
<path d="M662.40,29.06L665.30,32.96L662.40,36.86L659.50,32.96Z" fill="#3aa8f5" stroke="#2196f0" stroke-width="1.0"/>
<rect x="45.6" y="154.8" width="111.80" height="86.00" fill="none" stroke="#5a5a5a" stroke-width="1.15"/>
<path d="M45.60,240.8v-3M45.60,154.8v3" stroke="#5a5a5a" stroke-width="1.15"/>
<text x="45.60" y="254.80" font-family="Liberation Sans, sans-serif" font-size="10" text-anchor="middle" font-weight="normal" font-style="normal" fill="#1e1e1e" stroke="#1e1e1e" stroke-width="0.18" >-8</text>
<path d="M73.55,240.8v-3M73.55,154.8v3" stroke="#5a5a5a" stroke-width="1.15"/>
<text x="73.55" y="254.80" font-family="Liberation Sans, sans-serif" font-size="10" text-anchor="middle" font-weight="normal" font-style="normal" fill="#1e1e1e" stroke="#1e1e1e" stroke-width="0.18" >-4</text>
<path d="M101.50,240.8v-3M101.50,154.8v3" stroke="#5a5a5a" stroke-width="1.15"/>
<text x="101.50" y="254.80" font-family="Liberation Sans, sans-serif" font-size="10" text-anchor="middle" font-weight="normal" font-style="normal" fill="#1e1e1e" stroke="#1e1e1e" stroke-width="0.18" >0</text>
<path d="M129.45,240.8v-3M129.45,154.8v3" stroke="#5a5a5a" stroke-width="1.15"/>
<text x="129.45" y="254.80" font-family="Liberation Sans, sans-serif" font-size="10" text-anchor="middle" font-weight="normal" font-style="normal" fill="#1e1e1e" stroke="#1e1e1e" stroke-width="0.18" >4</text>
<path d="M157.40,240.8v-3M157.40,154.8v3" stroke="#5a5a5a" stroke-width="1.15"/>
<text x="157.40" y="254.80" font-family="Liberation Sans, sans-serif" font-size="10" text-anchor="middle" font-weight="normal" font-style="normal" fill="#1e1e1e" stroke="#1e1e1e" stroke-width="0.18" >8</text>
<path d="M45.6,165.50h3.5M157.4,165.50h-3.5" stroke="#5a5a5a" stroke-width="1.15"/>
<text x="41.80" y="171.70" font-family="Liberation Sans, sans-serif" font-size="10" text-anchor="end" font-weight="normal" font-style="normal" fill="#1e1e1e" stroke="#1e1e1e" stroke-width="0.18" >10<tspan font-size="7.4" dy="-5.2">-6</tspan></text>
<path d="M45.6,175.95h2M157.4,175.95h-2" stroke="#5a5a5a" stroke-width="1.15"/>
<path d="M45.6,186.40h2M157.4,186.40h-2" stroke="#5a5a5a" stroke-width="1.15"/>
<path d="M45.6,196.85h3.5M157.4,196.85h-3.5" stroke="#5a5a5a" stroke-width="1.15"/>
<text x="41.80" y="203.05" font-family="Liberation Sans, sans-serif" font-size="10" text-anchor="end" font-weight="normal" font-style="normal" fill="#1e1e1e" stroke="#1e1e1e" stroke-width="0.18" >10<tspan font-size="7.4" dy="-5.2">-9</tspan></text>
<path d="M45.6,207.30h2M157.4,207.30h-2" stroke="#5a5a5a" stroke-width="1.15"/>
<path d="M45.6,217.75h2M157.4,217.75h-2" stroke="#5a5a5a" stroke-width="1.15"/>
<path d="M45.6,228.20h3.5M157.4,228.20h-3.5" stroke="#5a5a5a" stroke-width="1.15"/>
<text x="41.80" y="234.40" font-family="Liberation Sans, sans-serif" font-size="10" text-anchor="end" font-weight="normal" font-style="normal" fill="#1e1e1e" stroke="#1e1e1e" stroke-width="0.18" >10<tspan font-size="7.4" dy="-5.2">-12</tspan></text>
<path d="M45.6,238.65h2M157.4,238.65h-2" stroke="#5a5a5a" stroke-width="1.15"/>
<text x="26.50" y="146.00" font-family="Liberation Sans, sans-serif" font-size="14" text-anchor="start" font-weight="bold" font-style="normal" fill="#000" >e</text>
<text transform="translate(8.30,198.40) rotate(-90)" font-family="Liberation Sans, sans-serif" font-size="11" text-anchor="middle" fill="#1e1e1e" stroke="#1e1e1e" stroke-width="0.18">I<tspan font-size="9" dy="5.5">DS</tspan><tspan dy="-5.5" letter-spacing="0.9"> (A/</tspan><tspan font-style="italic" letter-spacing="0.9">μ</tspan><tspan letter-spacing="0.9">m)</tspan></text>
<text x="101.80" y="269.70" font-family="Liberation Sans, sans-serif" font-size="11" text-anchor="middle" font-weight="normal" font-style="normal" fill="#1e1e1e" stroke="#1e1e1e" stroke-width="0.18" >V<tspan font-size="9" dy="5.5">TG</tspan><tspan dy="-5.5" letter-spacing="0.8"> (V)</tspan></text>
<text x="50.80" y="165.50" font-family="Liberation Serif, serif" font-size="9.2" text-anchor="start" font-weight="normal" font-style="normal" fill="#222" >MoS<tspan font-size="6.26" dy="2.2">2</tspan><tspan dy="-2.2"> FET</tspan></text>
<text x="117.50" y="221.00" font-family="Liberation Serif, serif" font-size="9" text-anchor="start" font-weight="normal" font-style="normal" fill="#222" ><tspan font-style="italic">V</tspan><tspan font-style="italic" font-weight="bold" font-size="6.48" dy="1.6">BG</tspan><tspan dy="-1.6"> = 3 V</tspan></text>
<text x="117.50" y="231.50" font-family="Liberation Serif, serif" font-size="9" text-anchor="start" font-weight="normal" font-style="normal" fill="#222" ><tspan font-style="italic">V</tspan><tspan font-style="italic" font-weight="bold" font-size="6.48" dy="1.6">DS</tspan><tspan dy="-1.6"> = 1 V</tspan></text>
<rect x="159.8" y="153.40" width="8.599999999999994" height="14.75" fill="#4633b4"/>
<rect x="159.8" y="167.75" width="8.599999999999994" height="14.75" fill="#4a3ccf"/>
<rect x="159.8" y="182.10" width="8.599999999999994" height="14.75" fill="#4648e0"/>
<rect x="159.8" y="196.45" width="8.599999999999994" height="14.75" fill="#3c63ec"/>
<rect x="159.8" y="210.80" width="8.599999999999994" height="14.75" fill="#3180ef"/>
<rect x="159.8" y="225.15" width="8.599999999999994" height="14.75" fill="#2d93e8"/>
<text x="170.30" y="163.68" font-family="Liberation Sans, sans-serif" font-size="8.5" text-anchor="start" font-weight="normal" font-style="normal" fill="#1e1e1e" stroke="#1e1e1e" stroke-width="0.18" >1</text>
<text x="170.30" y="178.03" font-family="Liberation Sans, sans-serif" font-size="8.5" text-anchor="start" font-weight="normal" font-style="normal" fill="#1e1e1e" stroke="#1e1e1e" stroke-width="0.18" >10</text>
<text x="170.30" y="192.38" font-family="Liberation Sans, sans-serif" font-size="8.5" text-anchor="start" font-weight="normal" font-style="normal" fill="#1e1e1e" stroke="#1e1e1e" stroke-width="0.18" >50</text>
<text x="170.30" y="206.72" font-family="Liberation Sans, sans-serif" font-size="8.5" text-anchor="start" font-weight="normal" font-style="normal" fill="#1e1e1e" stroke="#1e1e1e" stroke-width="0.18" >100</text>
<text x="170.30" y="221.08" font-family="Liberation Sans, sans-serif" font-size="8.5" text-anchor="start" font-weight="normal" font-style="normal" fill="#1e1e1e" stroke="#1e1e1e" stroke-width="0.18" >500</text>
<text x="170.30" y="235.42" font-family="Liberation Sans, sans-serif" font-size="8.5" text-anchor="start" font-weight="normal" font-style="normal" fill="#1e1e1e" stroke="#1e1e1e" stroke-width="0.18" >1000</text>
<text x="147.30" y="147.20" font-family="Liberation Sans, sans-serif" font-size="9" text-anchor="start" font-weight="normal" font-style="normal" fill="#1e1e1e" stroke="#1e1e1e" stroke-width="0.18" ><tspan font-style="italic">t</tspan><tspan font-style="italic" font-size="6.0" dy="2.2">sweep</tspan><tspan dy="-2.2" dx="1.6">(ms)</tspan></text>
<rect x="238.4" y="154.8" width="111.60" height="85.50" fill="none" stroke="#5a5a5a" stroke-width="1.15"/>
<path d="M238.40,240.3v-3M238.40,154.8v3" stroke="#5a5a5a" stroke-width="1.15"/>
<text x="238.40" y="254.30" font-family="Liberation Sans, sans-serif" font-size="10" text-anchor="middle" font-weight="normal" font-style="normal" fill="#1e1e1e" stroke="#1e1e1e" stroke-width="0.18" >-8</text>
<path d="M266.30,240.3v-3M266.30,154.8v3" stroke="#5a5a5a" stroke-width="1.15"/>
<text x="266.30" y="254.30" font-family="Liberation Sans, sans-serif" font-size="10" text-anchor="middle" font-weight="normal" font-style="normal" fill="#1e1e1e" stroke="#1e1e1e" stroke-width="0.18" >-4</text>
<path d="M294.20,240.3v-3M294.20,154.8v3" stroke="#5a5a5a" stroke-width="1.15"/>
<text x="294.20" y="254.30" font-family="Liberation Sans, sans-serif" font-size="10" text-anchor="middle" font-weight="normal" font-style="normal" fill="#1e1e1e" stroke="#1e1e1e" stroke-width="0.18" >0</text>
<path d="M322.10,240.3v-3M322.10,154.8v3" stroke="#5a5a5a" stroke-width="1.15"/>
<text x="322.10" y="254.30" font-family="Liberation Sans, sans-serif" font-size="10" text-anchor="middle" font-weight="normal" font-style="normal" fill="#1e1e1e" stroke="#1e1e1e" stroke-width="0.18" >4</text>
<path d="M350.00,240.3v-3M350.00,154.8v3" stroke="#5a5a5a" stroke-width="1.15"/>
<text x="350.00" y="254.30" font-family="Liberation Sans, sans-serif" font-size="10" text-anchor="middle" font-weight="normal" font-style="normal" fill="#1e1e1e" stroke="#1e1e1e" stroke-width="0.18" >8</text>
<path d="M238.4,161.20h2M350,161.20h-2" stroke="#5a5a5a" stroke-width="1.15"/>
<path d="M238.4,170.90h3.5M350,170.90h-3.5" stroke="#5a5a5a" stroke-width="1.15"/>
<text x="234.60" y="177.10" font-family="Liberation Sans, sans-serif" font-size="10" text-anchor="end" font-weight="normal" font-style="normal" fill="#1e1e1e" stroke="#1e1e1e" stroke-width="0.18" >10<tspan font-size="7.4" dy="-5.2">-6</tspan></text>
<path d="M238.4,180.60h2M350,180.60h-2" stroke="#5a5a5a" stroke-width="1.15"/>
<path d="M238.4,190.30h2M350,190.30h-2" stroke="#5a5a5a" stroke-width="1.15"/>
<path d="M238.4,200.00h3.5M350,200.00h-3.5" stroke="#5a5a5a" stroke-width="1.15"/>
<text x="234.60" y="206.20" font-family="Liberation Sans, sans-serif" font-size="10" text-anchor="end" font-weight="normal" font-style="normal" fill="#1e1e1e" stroke="#1e1e1e" stroke-width="0.18" >10<tspan font-size="7.4" dy="-5.2">-9</tspan></text>
<path d="M238.4,209.70h2M350,209.70h-2" stroke="#5a5a5a" stroke-width="1.15"/>
<path d="M238.4,219.40h2M350,219.40h-2" stroke="#5a5a5a" stroke-width="1.15"/>
<path d="M238.4,229.10h3.5M350,229.10h-3.5" stroke="#5a5a5a" stroke-width="1.15"/>
<text x="234.60" y="235.30" font-family="Liberation Sans, sans-serif" font-size="10" text-anchor="end" font-weight="normal" font-style="normal" fill="#1e1e1e" stroke="#1e1e1e" stroke-width="0.18" >10<tspan font-size="7.4" dy="-5.2">-12</tspan></text>
<path d="M238.4,238.80h2M350,238.80h-2" stroke="#5a5a5a" stroke-width="1.15"/>
<text x="228.00" y="146.00" font-family="Liberation Sans, sans-serif" font-size="14" text-anchor="start" font-weight="bold" font-style="normal" fill="#000" >f</text>
<text transform="translate(200.60,198.30) rotate(-90)" font-family="Liberation Sans, sans-serif" font-size="11" text-anchor="middle" fill="#1e1e1e" stroke="#1e1e1e" stroke-width="0.18">I<tspan font-size="9" dy="5.5">DS</tspan><tspan dy="-5.5" letter-spacing="0.9"> (A/</tspan><tspan font-style="italic" letter-spacing="0.9">μ</tspan><tspan letter-spacing="0.9">m)</tspan></text>
<text x="294.00" y="269.70" font-family="Liberation Sans, sans-serif" font-size="11" text-anchor="middle" font-weight="normal" font-style="normal" fill="#1e1e1e" stroke="#1e1e1e" stroke-width="0.18" >V<tspan font-size="9" dy="5.5">TG</tspan><tspan dy="-5.5" letter-spacing="0.8"> (V)</tspan></text>
<text x="347.00" y="167.00" font-family="Liberation Serif, serif" font-size="9.2" text-anchor="end" font-weight="normal" font-style="normal" fill="#222" >WSe<tspan font-size="6.26" dy="2.2">2</tspan><tspan dy="-2.2"> FET</tspan></text>
<text x="240.00" y="222.00" font-family="Liberation Serif, serif" font-size="9" text-anchor="start" font-weight="normal" font-style="normal" fill="#222" ><tspan font-style="italic">V</tspan><tspan font-style="italic" font-weight="bold" font-size="6.48" dy="1.6">BG</tspan><tspan dy="-1.6"> = -4 V</tspan></text>
<text x="240.00" y="231.50" font-family="Liberation Serif, serif" font-size="9" text-anchor="start" font-weight="normal" font-style="normal" fill="#222" ><tspan font-style="italic">V</tspan><tspan font-style="italic" font-weight="bold" font-size="6.48" dy="1.6">DS</tspan><tspan dy="-1.6"> = 1 V</tspan></text>
<rect x="352" y="154.00" width="7" height="17.50" fill="#5040cc"/>
<rect x="352" y="171.10" width="7" height="17.50" fill="#4a55e8"/>
<rect x="352" y="188.20" width="7" height="17.50" fill="#3a7cf0"/>
<rect x="352" y="205.30" width="7" height="17.50" fill="#35a0e8"/>
<rect x="352" y="222.40" width="7" height="17.50" fill="#2ab4d8"/>
<text x="360.50" y="165.65" font-family="Liberation Sans, sans-serif" font-size="8.5" text-anchor="start" font-weight="normal" font-style="normal" fill="#1e1e1e" stroke="#1e1e1e" stroke-width="0.18" >1</text>
<text x="360.50" y="182.75" font-family="Liberation Sans, sans-serif" font-size="8.5" text-anchor="start" font-weight="normal" font-style="normal" fill="#1e1e1e" stroke="#1e1e1e" stroke-width="0.18" >10</text>
<text x="360.50" y="199.85" font-family="Liberation Sans, sans-serif" font-size="8.5" text-anchor="start" font-weight="normal" font-style="normal" fill="#1e1e1e" stroke="#1e1e1e" stroke-width="0.18" >50</text>
<text x="360.50" y="216.95" font-family="Liberation Sans, sans-serif" font-size="8.5" text-anchor="start" font-weight="normal" font-style="normal" fill="#1e1e1e" stroke="#1e1e1e" stroke-width="0.18" >100</text>
<text x="360.50" y="234.05" font-family="Liberation Sans, sans-serif" font-size="8.5" text-anchor="start" font-weight="normal" font-style="normal" fill="#1e1e1e" stroke="#1e1e1e" stroke-width="0.18" >500</text>
<text x="336.50" y="148.40" font-family="Liberation Sans, sans-serif" font-size="9" text-anchor="start" font-weight="normal" font-style="normal" fill="#1e1e1e" stroke="#1e1e1e" stroke-width="0.18" ><tspan font-style="italic">t</tspan><tspan font-style="italic" font-size="6.7" dy="2.2">sweep</tspan><tspan dy="-2.2" dx="1.2">(ms)</tspan></text>
<rect x="417.9" y="155.8" width="110.10" height="86.60" fill="none" stroke="#5a5a5a" stroke-width="1.15"/>
<path d="M420.36,242.4v-1.8M420.36,155.8v1.8" stroke="#5a5a5a" stroke-width="1.15"/>
<path d="M422.39,242.4v-1.8M422.39,155.8v1.8" stroke="#5a5a5a" stroke-width="1.15"/>
<path d="M424.15,242.4v-1.8M424.15,155.8v1.8" stroke="#5a5a5a" stroke-width="1.15"/>
<path d="M425.71,242.4v-1.8M425.71,155.8v1.8" stroke="#5a5a5a" stroke-width="1.15"/>
<path d="M427.10,242.4v-3.2M427.10,155.8v3.2" stroke="#5a5a5a" stroke-width="1.15"/>
<text x="427.10" y="257.50" font-family="Liberation Sans, sans-serif" font-size="9.3" text-anchor="middle" font-weight="normal" font-style="normal" fill="#1e1e1e" stroke="#1e1e1e" stroke-width="0.18" >10<tspan font-size="6.8" dy="-4.4">-3</tspan></text>
<path d="M436.25,242.4v-1.8M436.25,155.8v1.8" stroke="#5a5a5a" stroke-width="1.15"/>
<path d="M441.60,242.4v-1.8M441.60,155.8v1.8" stroke="#5a5a5a" stroke-width="1.15"/>
<path d="M445.40,242.4v-1.8M445.40,155.8v1.8" stroke="#5a5a5a" stroke-width="1.15"/>
<path d="M448.35,242.4v-1.8M448.35,155.8v1.8" stroke="#5a5a5a" stroke-width="1.15"/>
<path d="M450.76,242.4v-1.8M450.76,155.8v1.8" stroke="#5a5a5a" stroke-width="1.15"/>
<path d="M452.79,242.4v-1.8M452.79,155.8v1.8" stroke="#5a5a5a" stroke-width="1.15"/>
<path d="M454.55,242.4v-1.8M454.55,155.8v1.8" stroke="#5a5a5a" stroke-width="1.15"/>
<path d="M456.11,242.4v-1.8M456.11,155.8v1.8" stroke="#5a5a5a" stroke-width="1.15"/>
<path d="M457.50,242.4v-3.2M457.50,155.8v3.2" stroke="#5a5a5a" stroke-width="1.15"/>
<text x="457.50" y="257.50" font-family="Liberation Sans, sans-serif" font-size="9.3" text-anchor="middle" font-weight="normal" font-style="normal" fill="#1e1e1e" stroke="#1e1e1e" stroke-width="0.18" >10<tspan font-size="6.8" dy="-4.4">-2</tspan></text>
<path d="M466.65,242.4v-1.8M466.65,155.8v1.8" stroke="#5a5a5a" stroke-width="1.15"/>
<path d="M472.00,242.4v-1.8M472.00,155.8v1.8" stroke="#5a5a5a" stroke-width="1.15"/>
<path d="M475.80,242.4v-1.8M475.80,155.8v1.8" stroke="#5a5a5a" stroke-width="1.15"/>
<path d="M478.75,242.4v-1.8M478.75,155.8v1.8" stroke="#5a5a5a" stroke-width="1.15"/>
<path d="M481.16,242.4v-1.8M481.16,155.8v1.8" stroke="#5a5a5a" stroke-width="1.15"/>
<path d="M483.19,242.4v-1.8M483.19,155.8v1.8" stroke="#5a5a5a" stroke-width="1.15"/>
<path d="M484.95,242.4v-1.8M484.95,155.8v1.8" stroke="#5a5a5a" stroke-width="1.15"/>
<path d="M486.51,242.4v-1.8M486.51,155.8v1.8" stroke="#5a5a5a" stroke-width="1.15"/>
<path d="M487.90,242.4v-3.2M487.90,155.8v3.2" stroke="#5a5a5a" stroke-width="1.15"/>
<text x="487.90" y="257.50" font-family="Liberation Sans, sans-serif" font-size="9.3" text-anchor="middle" font-weight="normal" font-style="normal" fill="#1e1e1e" stroke="#1e1e1e" stroke-width="0.18" >10<tspan font-size="6.8" dy="-4.4">-1</tspan></text>
<path d="M497.05,242.4v-1.8M497.05,155.8v1.8" stroke="#5a5a5a" stroke-width="1.15"/>
<path d="M502.40,242.4v-1.8M502.40,155.8v1.8" stroke="#5a5a5a" stroke-width="1.15"/>
<path d="M506.20,242.4v-1.8M506.20,155.8v1.8" stroke="#5a5a5a" stroke-width="1.15"/>
<path d="M509.15,242.4v-1.8M509.15,155.8v1.8" stroke="#5a5a5a" stroke-width="1.15"/>
<path d="M511.56,242.4v-1.8M511.56,155.8v1.8" stroke="#5a5a5a" stroke-width="1.15"/>
<path d="M513.59,242.4v-1.8M513.59,155.8v1.8" stroke="#5a5a5a" stroke-width="1.15"/>
<path d="M515.35,242.4v-1.8M515.35,155.8v1.8" stroke="#5a5a5a" stroke-width="1.15"/>
<path d="M516.91,242.4v-1.8M516.91,155.8v1.8" stroke="#5a5a5a" stroke-width="1.15"/>
<path d="M518.30,242.4v-3.2M518.30,155.8v3.2" stroke="#5a5a5a" stroke-width="1.15"/>
<text x="518.30" y="257.50" font-family="Liberation Sans, sans-serif" font-size="9.3" text-anchor="middle" font-weight="normal" font-style="normal" fill="#1e1e1e" stroke="#1e1e1e" stroke-width="0.18" >10<tspan font-size="6.8" dy="-4.4">0</tspan></text>
<path d="M527.45,242.4v-1.8M527.45,155.8v1.8" stroke="#5a5a5a" stroke-width="1.15"/>
<path d="M417.9,225.08h3M528,225.08h-3" stroke="#5a5a5a" stroke-width="1.15"/>
<text x="415.50" y="228.58" font-family="Liberation Sans, sans-serif" font-size="9.3" text-anchor="end" font-weight="normal" font-style="normal" fill="#1e1e1e" stroke="#1e1e1e" stroke-width="0.18" >5</text>
<path d="M417.9,207.76h3M528,207.76h-3" stroke="#5a5a5a" stroke-width="1.15"/>
<text x="415.50" y="211.26" font-family="Liberation Sans, sans-serif" font-size="9.3" text-anchor="end" font-weight="normal" font-style="normal" fill="#1e1e1e" stroke="#1e1e1e" stroke-width="0.18" >6</text>
<path d="M417.9,190.44h3M528,190.44h-3" stroke="#5a5a5a" stroke-width="1.15"/>
<text x="415.50" y="193.94" font-family="Liberation Sans, sans-serif" font-size="9.3" text-anchor="end" font-weight="normal" font-style="normal" fill="#1e1e1e" stroke="#1e1e1e" stroke-width="0.18" >7</text>
<path d="M417.9,173.12h3M528,173.12h-3" stroke="#5a5a5a" stroke-width="1.15"/>
<text x="415.50" y="176.62" font-family="Liberation Sans, sans-serif" font-size="9.3" text-anchor="end" font-weight="normal" font-style="normal" fill="#1e1e1e" stroke="#1e1e1e" stroke-width="0.18" >8</text>
<path d="M417.9,155.80h3M528,155.80h-3" stroke="#5a5a5a" stroke-width="1.15"/>
<text x="415.50" y="159.30" font-family="Liberation Sans, sans-serif" font-size="9.3" text-anchor="end" font-weight="normal" font-style="normal" fill="#1e1e1e" stroke="#1e1e1e" stroke-width="0.18" >9</text>
<text x="401.50" y="146.00" font-family="Liberation Sans, sans-serif" font-size="14" text-anchor="start" font-weight="bold" font-style="normal" fill="#000" >g</text>
<text transform="translate(402.00,199.20) rotate(-90)" font-family="Liberation Sans, sans-serif" font-size="10.5" text-anchor="middle" fill="#1e1e1e" stroke="#1e1e1e" stroke-width="0.18">V<tspan font-size="8.8" dy="4.5">Hyst</tspan><tspan dy="-4.5"> (V)</tspan></text>
<text x="472.90" y="270.70" font-family="Liberation Sans, sans-serif" font-size="10" text-anchor="middle" font-weight="normal" font-style="normal" fill="#1e1e1e" stroke="#1e1e1e" stroke-width="0.18" >t<tspan font-size="8.3" dy="4.5">sweep</tspan><tspan dy="-4.5" letter-spacing="0.3"> (s)</tspan></text>
<text x="421.20" y="167.00" font-family="Liberation Serif, serif" font-size="9.2" text-anchor="start" font-weight="normal" font-style="normal" fill="#222" >MoS<tspan font-size="6.26" dy="2.2">2</tspan><tspan dy="-2.2"> FET</tspan></text>
<circle cx="427.10" cy="221.62" r="2.85" fill="#4fb8ea" stroke="#b44cf0" stroke-width="1.15"/>
<circle cx="457.50" cy="188.71" r="2.85" fill="#4fb8ea" stroke="#b44cf0" stroke-width="1.15"/>
<circle cx="478.75" cy="178.32" r="2.85" fill="#4fb8ea" stroke="#b44cf0" stroke-width="1.15"/>
<circle cx="487.90" cy="169.66" r="2.85" fill="#4fb8ea" stroke="#b44cf0" stroke-width="1.15"/>
<circle cx="509.15" cy="166.19" r="2.85" fill="#4fb8ea" stroke="#b44cf0" stroke-width="1.15"/>
<circle cx="518.30" cy="166.19" r="2.85" fill="#4fb8ea" stroke="#b44cf0" stroke-width="1.15"/>
<rect x="571.2" y="155.8" width="107.10" height="87.20" fill="none" stroke="#5a5a5a" stroke-width="1.15"/>
<path d="M573.59,243v-1.8M573.59,155.8v1.8" stroke="#5a5a5a" stroke-width="1.15"/>
<path d="M575.77,243v-1.8M575.77,155.8v1.8" stroke="#5a5a5a" stroke-width="1.15"/>
<path d="M577.65,243v-1.8M577.65,155.8v1.8" stroke="#5a5a5a" stroke-width="1.15"/>
<path d="M579.31,243v-1.8M579.31,155.8v1.8" stroke="#5a5a5a" stroke-width="1.15"/>
<path d="M580.80,243v-3.2M580.80,155.8v3.2" stroke="#5a5a5a" stroke-width="1.15"/>
<text x="580.80" y="258.00" font-family="Liberation Sans, sans-serif" font-size="9.3" text-anchor="middle" font-weight="normal" font-style="normal" fill="#1e1e1e" stroke="#1e1e1e" stroke-width="0.18" >10<tspan font-size="6.8" dy="-4.4">-3</tspan></text>
<path d="M590.58,243v-1.8M590.58,155.8v1.8" stroke="#5a5a5a" stroke-width="1.15"/>
<path d="M596.31,243v-1.8M596.31,155.8v1.8" stroke="#5a5a5a" stroke-width="1.15"/>
<path d="M600.37,243v-1.8M600.37,155.8v1.8" stroke="#5a5a5a" stroke-width="1.15"/>
<path d="M603.52,243v-1.8M603.52,155.8v1.8" stroke="#5a5a5a" stroke-width="1.15"/>
<path d="M606.09,243v-1.8M606.09,155.8v1.8" stroke="#5a5a5a" stroke-width="1.15"/>
<path d="M608.27,243v-1.8M608.27,155.8v1.8" stroke="#5a5a5a" stroke-width="1.15"/>
<path d="M610.15,243v-1.8M610.15,155.8v1.8" stroke="#5a5a5a" stroke-width="1.15"/>
<path d="M611.81,243v-1.8M611.81,155.8v1.8" stroke="#5a5a5a" stroke-width="1.15"/>
<path d="M613.30,243v-3.2M613.30,155.8v3.2" stroke="#5a5a5a" stroke-width="1.15"/>
<text x="613.30" y="258.00" font-family="Liberation Sans, sans-serif" font-size="9.3" text-anchor="middle" font-weight="normal" font-style="normal" fill="#1e1e1e" stroke="#1e1e1e" stroke-width="0.18" >10<tspan font-size="6.8" dy="-4.4">-2</tspan></text>
<path d="M623.08,243v-1.8M623.08,155.8v1.8" stroke="#5a5a5a" stroke-width="1.15"/>
<path d="M628.81,243v-1.8M628.81,155.8v1.8" stroke="#5a5a5a" stroke-width="1.15"/>
<path d="M632.87,243v-1.8M632.87,155.8v1.8" stroke="#5a5a5a" stroke-width="1.15"/>
<path d="M636.02,243v-1.8M636.02,155.8v1.8" stroke="#5a5a5a" stroke-width="1.15"/>
<path d="M638.59,243v-1.8M638.59,155.8v1.8" stroke="#5a5a5a" stroke-width="1.15"/>
<path d="M640.77,243v-1.8M640.77,155.8v1.8" stroke="#5a5a5a" stroke-width="1.15"/>
<path d="M642.65,243v-1.8M642.65,155.8v1.8" stroke="#5a5a5a" stroke-width="1.15"/>
<path d="M644.31,243v-1.8M644.31,155.8v1.8" stroke="#5a5a5a" stroke-width="1.15"/>
<path d="M645.80,243v-3.2M645.80,155.8v3.2" stroke="#5a5a5a" stroke-width="1.15"/>
<text x="645.80" y="258.00" font-family="Liberation Sans, sans-serif" font-size="9.3" text-anchor="middle" font-weight="normal" font-style="normal" fill="#1e1e1e" stroke="#1e1e1e" stroke-width="0.18" >10<tspan font-size="6.8" dy="-4.4">-1</tspan></text>
<path d="M655.58,243v-1.8M655.58,155.8v1.8" stroke="#5a5a5a" stroke-width="1.15"/>
<path d="M661.31,243v-1.8M661.31,155.8v1.8" stroke="#5a5a5a" stroke-width="1.15"/>
<path d="M665.37,243v-1.8M665.37,155.8v1.8" stroke="#5a5a5a" stroke-width="1.15"/>
<path d="M668.52,243v-1.8M668.52,155.8v1.8" stroke="#5a5a5a" stroke-width="1.15"/>
<path d="M671.09,243v-1.8M671.09,155.8v1.8" stroke="#5a5a5a" stroke-width="1.15"/>
<path d="M673.27,243v-1.8M673.27,155.8v1.8" stroke="#5a5a5a" stroke-width="1.15"/>
<path d="M675.15,243v-1.8M675.15,155.8v1.8" stroke="#5a5a5a" stroke-width="1.15"/>
<path d="M676.81,243v-1.8M676.81,155.8v1.8" stroke="#5a5a5a" stroke-width="1.15"/>
<text x="678.30" y="258.00" font-family="Liberation Sans, sans-serif" font-size="9.3" text-anchor="middle" font-weight="normal" font-style="normal" fill="#1e1e1e" stroke="#1e1e1e" stroke-width="0.18" >10<tspan font-size="6.8" dy="-4.4">0</tspan></text>
<path d="M571.2,243.00h3M678.3,243.00h-3" stroke="#5a5a5a" stroke-width="1.15"/>
<text x="568.00" y="246.50" font-family="Liberation Sans, sans-serif" font-size="9.5" text-anchor="end" font-weight="normal" font-style="normal" fill="#1e1e1e" stroke="#1e1e1e" stroke-width="0.18" >0</text>
<path d="M571.2,213.93h3M678.3,213.93h-3" stroke="#5a5a5a" stroke-width="1.15"/>
<text x="568.00" y="217.43" font-family="Liberation Sans, sans-serif" font-size="9.5" text-anchor="end" font-weight="normal" font-style="normal" fill="#1e1e1e" stroke="#1e1e1e" stroke-width="0.18" >2</text>
<path d="M571.2,184.87h3M678.3,184.87h-3" stroke="#5a5a5a" stroke-width="1.15"/>
<text x="568.00" y="188.37" font-family="Liberation Sans, sans-serif" font-size="9.5" text-anchor="end" font-weight="normal" font-style="normal" fill="#1e1e1e" stroke="#1e1e1e" stroke-width="0.18" >4</text>
<path d="M571.2,155.80h3M678.3,155.80h-3" stroke="#5a5a5a" stroke-width="1.15"/>
<text x="568.00" y="159.30" font-family="Liberation Sans, sans-serif" font-size="9.5" text-anchor="end" font-weight="normal" font-style="normal" fill="#1e1e1e" stroke="#1e1e1e" stroke-width="0.18" >6</text>
<text x="550.00" y="146.00" font-family="Liberation Sans, sans-serif" font-size="14" text-anchor="start" font-weight="bold" font-style="normal" fill="#000" >h</text>
<text transform="translate(553.70,198.20) rotate(-90)" font-family="Liberation Sans, sans-serif" font-size="10.8" text-anchor="middle" fill="#1e1e1e" stroke="#1e1e1e" stroke-width="0.18">V<tspan font-size="9" dy="4.5">Hyst</tspan><tspan dy="-4.5"> (V)</tspan></text>
<text x="624.30" y="271.00" font-family="Liberation Sans, sans-serif" font-size="10" text-anchor="middle" font-weight="normal" font-style="normal" fill="#1e1e1e" stroke="#1e1e1e" stroke-width="0.18" >t<tspan font-size="8.2" dy="4.5">sweep</tspan><tspan dy="-4.5" letter-spacing="0.3"> (s)</tspan></text>
<text x="573.80" y="167.30" font-family="Liberation Serif, serif" font-size="9.2" text-anchor="start" font-weight="normal" font-style="normal" fill="#222" >WSe<tspan font-size="6.26" dy="2.2">2</tspan><tspan dy="-2.2"> FET</tspan></text>
<circle cx="580.80" cy="209.57" r="2.85" fill="#4fb8ea" stroke="#b44cf0" stroke-width="1.15"/>
<circle cx="613.30" cy="208.12" r="2.85" fill="#4fb8ea" stroke="#b44cf0" stroke-width="1.15"/>
<circle cx="636.02" cy="205.94" r="2.85" fill="#4fb8ea" stroke="#b44cf0" stroke-width="1.15"/>
<circle cx="645.80" cy="200.85" r="2.85" fill="#4fb8ea" stroke="#b44cf0" stroke-width="1.15"/>
<circle cx="668.52" cy="160.16" r="2.85" fill="#4fb8ea" stroke="#b44cf0" stroke-width="1.15"/>
<rect x="45.3" y="287.6" width="111.90" height="86.30" fill="none" stroke="#5a5a5a" stroke-width="1.15"/>
<path d="M45.30,373.9v-3M45.30,287.6v3" stroke="#5a5a5a" stroke-width="1.15"/>
<text x="45.30" y="388.00" font-family="Liberation Sans, sans-serif" font-size="10" text-anchor="middle" font-weight="normal" font-style="normal" fill="#1e1e1e" stroke="#1e1e1e" stroke-width="0.18" >-6</text>
<path d="M73.27,373.9v-3M73.27,287.6v3" stroke="#5a5a5a" stroke-width="1.15"/>
<text x="73.27" y="388.00" font-family="Liberation Sans, sans-serif" font-size="10" text-anchor="middle" font-weight="normal" font-style="normal" fill="#1e1e1e" stroke="#1e1e1e" stroke-width="0.18" >-3</text>
<path d="M101.25,373.9v-3M101.25,287.6v3" stroke="#5a5a5a" stroke-width="1.15"/>
<text x="101.25" y="388.00" font-family="Liberation Sans, sans-serif" font-size="10" text-anchor="middle" font-weight="normal" font-style="normal" fill="#1e1e1e" stroke="#1e1e1e" stroke-width="0.18" >0</text>
<path d="M129.22,373.9v-3M129.22,287.6v3" stroke="#5a5a5a" stroke-width="1.15"/>
<text x="129.22" y="388.00" font-family="Liberation Sans, sans-serif" font-size="10" text-anchor="middle" font-weight="normal" font-style="normal" fill="#1e1e1e" stroke="#1e1e1e" stroke-width="0.18" >3</text>
<path d="M157.20,373.9v-3M157.20,287.6v3" stroke="#5a5a5a" stroke-width="1.15"/>
<text x="157.20" y="388.00" font-family="Liberation Sans, sans-serif" font-size="10" text-anchor="middle" font-weight="normal" font-style="normal" fill="#1e1e1e" stroke="#1e1e1e" stroke-width="0.18" >6</text>
<path d="M45.3,298.70h3.5M157.2,298.70h-3.5" stroke="#5a5a5a" stroke-width="1.15"/>
<text x="41.50" y="304.90" font-family="Liberation Sans, sans-serif" font-size="10" text-anchor="end" font-weight="normal" font-style="normal" fill="#1e1e1e" stroke="#1e1e1e" stroke-width="0.18" >10<tspan font-size="7.4" dy="-5.2">-6</tspan></text>
<path d="M45.3,309.40h2M157.2,309.40h-2" stroke="#5a5a5a" stroke-width="1.15"/>
<path d="M45.3,320.10h2M157.2,320.10h-2" stroke="#5a5a5a" stroke-width="1.15"/>
<path d="M45.3,330.80h3.5M157.2,330.80h-3.5" stroke="#5a5a5a" stroke-width="1.15"/>
<text x="41.50" y="337.00" font-family="Liberation Sans, sans-serif" font-size="10" text-anchor="end" font-weight="normal" font-style="normal" fill="#1e1e1e" stroke="#1e1e1e" stroke-width="0.18" >10<tspan font-size="7.4" dy="-5.2">-9</tspan></text>
<path d="M45.3,341.50h2M157.2,341.50h-2" stroke="#5a5a5a" stroke-width="1.15"/>
<path d="M45.3,352.20h2M157.2,352.20h-2" stroke="#5a5a5a" stroke-width="1.15"/>
<path d="M45.3,362.90h3.5M157.2,362.90h-3.5" stroke="#5a5a5a" stroke-width="1.15"/>
<text x="41.50" y="369.10" font-family="Liberation Sans, sans-serif" font-size="10" text-anchor="end" font-weight="normal" font-style="normal" fill="#1e1e1e" stroke="#1e1e1e" stroke-width="0.18" >10<tspan font-size="7.4" dy="-5.2">-12</tspan></text>
<text x="34.00" y="281.00" font-family="Liberation Sans, sans-serif" font-size="14" text-anchor="start" font-weight="bold" font-style="normal" fill="#000" >i</text>
<text transform="translate(7.80,331.20) rotate(-90)" font-family="Liberation Sans, sans-serif" font-size="11" text-anchor="middle" fill="#1e1e1e" stroke="#1e1e1e" stroke-width="0.18">I<tspan font-size="9" dy="5.5">DS</tspan><tspan dy="-5.5" letter-spacing="0.9"> (A/</tspan><tspan font-style="italic" letter-spacing="0.9">μ</tspan><tspan letter-spacing="0.9">m)</tspan></text>
<text x="101.50" y="402.70" font-family="Liberation Sans, sans-serif" font-size="11" text-anchor="middle" font-weight="normal" font-style="normal" fill="#1e1e1e" stroke="#1e1e1e" stroke-width="0.18" >V<tspan font-size="9" dy="5.5">TG</tspan><tspan dy="-5.5" letter-spacing="0.8"> (V)</tspan></text>
<text x="50.00" y="298.00" font-family="Liberation Serif, serif" font-size="9" text-anchor="start" font-weight="normal" font-style="normal" fill="#222" ><tspan font-style="italic">V</tspan><tspan font-style="italic" font-weight="bold" font-size="6.48" dy="1.6">BG</tspan><tspan dy="-1.6"> = 2 V</tspan></text>
<text x="50.00" y="307.50" font-family="Liberation Serif, serif" font-size="9" text-anchor="start" font-weight="normal" font-style="normal" fill="#222" ><tspan font-style="italic">V</tspan><tspan font-style="italic" font-weight="bold" font-size="6.48" dy="1.6">DS</tspan><tspan dy="-1.6"> = 1 V</tspan></text>
<rect x="160.4" y="291.70" width="8.599999999999994" height="20.07" fill="#4a3dd0"/>
<rect x="160.4" y="311.38" width="8.599999999999994" height="20.07" fill="#3d6af0"/>
<rect x="160.4" y="331.05" width="8.599999999999994" height="20.07" fill="#2f90e8"/>
<rect x="160.4" y="350.72" width="8.599999999999994" height="20.07" fill="#2ab0d8"/>
<text x="179.00" y="304.64" font-family="Liberation Sans, sans-serif" font-size="8.5" text-anchor="middle" font-weight="normal" font-style="normal" fill="#1e1e1e" stroke="#1e1e1e" stroke-width="0.18" >-25</text>
<text x="179.00" y="324.31" font-family="Liberation Sans, sans-serif" font-size="8.5" text-anchor="middle" font-weight="normal" font-style="normal" fill="#1e1e1e" stroke="#1e1e1e" stroke-width="0.18" >0</text>
<text x="179.00" y="343.99" font-family="Liberation Sans, sans-serif" font-size="8.5" text-anchor="middle" font-weight="normal" font-style="normal" fill="#1e1e1e" stroke="#1e1e1e" stroke-width="0.18" >25</text>
<text x="179.00" y="363.66" font-family="Liberation Sans, sans-serif" font-size="8.5" text-anchor="middle" font-weight="normal" font-style="normal" fill="#1e1e1e" stroke="#1e1e1e" stroke-width="0.18" >50</text>
<text x="168.00" y="288.50" font-family="Liberation Sans, sans-serif" font-size="8.5" text-anchor="middle" font-weight="normal" font-style="normal" fill="#1e1e1e" stroke="#1e1e1e" stroke-width="0.18" >T(°C)</text>
<rect x="238.4" y="287.1" width="111.00" height="86.30" fill="none" stroke="#5a5a5a" stroke-width="1.15"/>
<path d="M242.20,373.4v-3M242.20,287.1v3" stroke="#5a5a5a" stroke-width="1.15"/>
<text x="242.20" y="385.00" font-family="Liberation Sans, sans-serif" font-size="9" text-anchor="middle" font-weight="normal" font-style="normal" fill="#1e1e1e" stroke="#1e1e1e" stroke-width="0.18" >-25</text>
<path d="M276.57,373.4v-3M276.57,287.1v3" stroke="#5a5a5a" stroke-width="1.15"/>
<text x="276.57" y="385.00" font-family="Liberation Sans, sans-serif" font-size="9" text-anchor="middle" font-weight="normal" font-style="normal" fill="#1e1e1e" stroke="#1e1e1e" stroke-width="0.18" >0</text>
<path d="M310.93,373.4v-3M310.93,287.1v3" stroke="#5a5a5a" stroke-width="1.15"/>
<text x="310.93" y="385.00" font-family="Liberation Sans, sans-serif" font-size="9" text-anchor="middle" font-weight="normal" font-style="normal" fill="#1e1e1e" stroke="#1e1e1e" stroke-width="0.18" >25</text>
<path d="M345.30,373.4v-3M345.30,287.1v3" stroke="#5a5a5a" stroke-width="1.15"/>
<text x="345.30" y="385.00" font-family="Liberation Sans, sans-serif" font-size="9" text-anchor="middle" font-weight="normal" font-style="normal" fill="#1e1e1e" stroke="#1e1e1e" stroke-width="0.18" >50</text>
<path d="M238.4,373.40h3M349.4,373.40h-3" stroke="#5a5a5a" stroke-width="1.15"/>
<text x="234.60" y="376.90" font-family="Liberation Sans, sans-serif" font-size="9" text-anchor="end" font-weight="normal" font-style="normal" fill="#1e1e1e" stroke="#1e1e1e" stroke-width="0.18" >0</text>
<path d="M238.4,348.74h3M349.4,348.74h-3" stroke="#5a5a5a" stroke-width="1.15"/>
<text x="234.60" y="352.24" font-family="Liberation Sans, sans-serif" font-size="9" text-anchor="end" font-weight="normal" font-style="normal" fill="#1e1e1e" stroke="#1e1e1e" stroke-width="0.18" >2</text>
<path d="M238.4,324.09h3M349.4,324.09h-3" stroke="#5a5a5a" stroke-width="1.15"/>
<text x="234.60" y="327.59" font-family="Liberation Sans, sans-serif" font-size="9" text-anchor="end" font-weight="normal" font-style="normal" fill="#1e1e1e" stroke="#1e1e1e" stroke-width="0.18" >4</text>
<path d="M238.4,299.43h3M349.4,299.43h-3" stroke="#5a5a5a" stroke-width="1.15"/>
<text x="234.60" y="302.93" font-family="Liberation Sans, sans-serif" font-size="9" text-anchor="end" font-weight="normal" font-style="normal" fill="#1e1e1e" stroke="#1e1e1e" stroke-width="0.18" >6</text>
<text x="235.00" y="281.00" font-family="Liberation Sans, sans-serif" font-size="14" text-anchor="start" font-weight="bold" font-style="normal" fill="#000" >j</text>
<text transform="translate(222.20,330.20) rotate(-90)" font-family="Liberation Sans, sans-serif" font-size="9.8" text-anchor="middle" fill="#1e1e1e" stroke="#1e1e1e" stroke-width="0.18">V<tspan font-size="8.3" dy="4.2">Hyst</tspan><tspan dy="-4.2"> (V)</tspan></text>
<text x="305.25" y="396.40" font-family="Liberation Sans, sans-serif" font-size="8.8" text-anchor="middle" font-weight="normal" font-style="normal" fill="#1e1e1e" stroke="#1e1e1e" stroke-width="0.18" textLength="62" lengthAdjust="spacingAndGlyphs">Temperature (°C)</text>
<path d="M242.20,370.32 L276.57,361.07 C288.57,349.07 300.93,311.89 310.93,301.89 L345.30,295.11" fill="none" stroke="#22bcd2" stroke-width="1.4" stroke-dasharray="4,2.8"/>
<circle cx="242.20" cy="370.32" r="3.2" fill="#4bbde8" stroke="#35c0da" stroke-width="0.8"/>
<circle cx="276.57" cy="361.07" r="3.2" fill="#4bbde8" stroke="#35c0da" stroke-width="0.8"/>
<circle cx="310.93" cy="301.89" r="3.2" fill="#4bbde8" stroke="#35c0da" stroke-width="0.8"/>
<circle cx="345.30" cy="295.11" r="3.2" fill="#4bbde8" stroke="#35c0da" stroke-width="0.8"/>
<rect x="418.3" y="287.6" width="111.00" height="86.30" fill="none" stroke="#5a5a5a" stroke-width="1.15"/>
<path d="M418.30,373.9v-3M418.30,287.6v3" stroke="#5a5a5a" stroke-width="1.15"/>
<text x="418.30" y="388.00" font-family="Liberation Sans, sans-serif" font-size="10" text-anchor="middle" font-weight="normal" font-style="normal" fill="#1e1e1e" stroke="#1e1e1e" stroke-width="0.18" >-6</text>
<path d="M446.05,373.9v-3M446.05,287.6v3" stroke="#5a5a5a" stroke-width="1.15"/>
<text x="446.05" y="388.00" font-family="Liberation Sans, sans-serif" font-size="10" text-anchor="middle" font-weight="normal" font-style="normal" fill="#1e1e1e" stroke="#1e1e1e" stroke-width="0.18" >-3</text>
<path d="M473.80,373.9v-3M473.80,287.6v3" stroke="#5a5a5a" stroke-width="1.15"/>
<text x="473.80" y="388.00" font-family="Liberation Sans, sans-serif" font-size="10" text-anchor="middle" font-weight="normal" font-style="normal" fill="#1e1e1e" stroke="#1e1e1e" stroke-width="0.18" >0</text>
<path d="M501.55,373.9v-3M501.55,287.6v3" stroke="#5a5a5a" stroke-width="1.15"/>
<text x="501.55" y="388.00" font-family="Liberation Sans, sans-serif" font-size="10" text-anchor="middle" font-weight="normal" font-style="normal" fill="#1e1e1e" stroke="#1e1e1e" stroke-width="0.18" >3</text>
<path d="M529.30,373.9v-3M529.30,287.6v3" stroke="#5a5a5a" stroke-width="1.15"/>
<text x="529.30" y="388.00" font-family="Liberation Sans, sans-serif" font-size="10" text-anchor="middle" font-weight="normal" font-style="normal" fill="#1e1e1e" stroke="#1e1e1e" stroke-width="0.18" >6</text>
<path d="M418.3,298.70h3.5M529.3,298.70h-3.5" stroke="#5a5a5a" stroke-width="1.15"/>
<text x="414.50" y="304.90" font-family="Liberation Sans, sans-serif" font-size="10" text-anchor="end" font-weight="normal" font-style="normal" fill="#1e1e1e" stroke="#1e1e1e" stroke-width="0.18" >10<tspan font-size="7.4" dy="-5.2">-6</tspan></text>
<path d="M418.3,309.45h2M529.3,309.45h-2" stroke="#5a5a5a" stroke-width="1.15"/>
<path d="M418.3,320.20h2M529.3,320.20h-2" stroke="#5a5a5a" stroke-width="1.15"/>
<path d="M418.3,330.95h3.5M529.3,330.95h-3.5" stroke="#5a5a5a" stroke-width="1.15"/>
<text x="414.50" y="337.15" font-family="Liberation Sans, sans-serif" font-size="10" text-anchor="end" font-weight="normal" font-style="normal" fill="#1e1e1e" stroke="#1e1e1e" stroke-width="0.18" >10<tspan font-size="7.4" dy="-5.2">-9</tspan></text>
<path d="M418.3,341.70h2M529.3,341.70h-2" stroke="#5a5a5a" stroke-width="1.15"/>
<path d="M418.3,352.45h2M529.3,352.45h-2" stroke="#5a5a5a" stroke-width="1.15"/>
<path d="M418.3,363.20h3.5M529.3,363.20h-3.5" stroke="#5a5a5a" stroke-width="1.15"/>
<text x="414.50" y="369.40" font-family="Liberation Sans, sans-serif" font-size="10" text-anchor="end" font-weight="normal" font-style="normal" fill="#1e1e1e" stroke="#1e1e1e" stroke-width="0.18" >10<tspan font-size="7.4" dy="-5.2">-12</tspan></text>
<text x="404.00" y="281.00" font-family="Liberation Sans, sans-serif" font-size="14" text-anchor="start" font-weight="bold" font-style="normal" fill="#000" >k</text>
<text transform="translate(379.80,331.20) rotate(-90)" font-family="Liberation Sans, sans-serif" font-size="11" text-anchor="middle" fill="#1e1e1e" stroke="#1e1e1e" stroke-width="0.18">I<tspan font-size="9" dy="5.5">DS</tspan><tspan dy="-5.5" letter-spacing="0.9"> (A/</tspan><tspan font-style="italic" letter-spacing="0.9">μ</tspan><tspan letter-spacing="0.9">m)</tspan></text>
<text x="473.70" y="402.60" font-family="Liberation Sans, sans-serif" font-size="11" text-anchor="middle" font-weight="normal" font-style="normal" fill="#1e1e1e" stroke="#1e1e1e" stroke-width="0.18" >V<tspan font-size="9" dy="5.5">TG</tspan><tspan dy="-5.5" letter-spacing="0.8"> (V)</tspan></text>
<text x="422.00" y="298.00" font-family="Liberation Serif, serif" font-size="9" text-anchor="start" font-weight="normal" font-style="normal" fill="#222" ><tspan font-style="italic">V</tspan><tspan font-style="italic" font-weight="bold" font-size="6.48" dy="1.6">BG</tspan><tspan dy="-1.6"> = 2 V</tspan></text>
<text x="422.00" y="307.50" font-family="Liberation Serif, serif" font-size="9" text-anchor="start" font-weight="normal" font-style="normal" fill="#222" ><tspan font-style="italic">V</tspan><tspan font-style="italic" font-weight="bold" font-size="6.48" dy="1.6">DS</tspan><tspan dy="-1.6"> = 1 V</tspan></text>
<text x="480.50" y="342.40" font-family="Liberation Sans, sans-serif" font-size="7.2" text-anchor="start" font-weight="normal" font-style="normal" fill="#5552dd" >t<tspan font-size="5" dy="1.5">sweep</tspan><tspan dy="-1.5"> = 10</tspan><tspan font-size="5" dy="-3">-3</tspan><tspan dy="3"> s</tspan></text>
<text x="480.50" y="350.70" font-family="Liberation Sans, sans-serif" font-size="7.2" text-anchor="start" font-weight="normal" font-style="normal" fill="#5b70e6" >t<tspan font-size="5" dy="1.5">sweep</tspan><tspan dy="-1.5"> = 10</tspan><tspan font-size="5" dy="-3">-2</tspan><tspan dy="3"> s</tspan></text>
<text x="480.50" y="359.00" font-family="Liberation Sans, sans-serif" font-size="7.2" text-anchor="start" font-weight="normal" font-style="normal" fill="#3f98ee" >t<tspan font-size="5" dy="1.5">sweep</tspan><tspan dy="-1.5"> = 10</tspan><tspan font-size="5" dy="-3">-1</tspan><tspan dy="3"> s</tspan></text>
<text x="480.50" y="367.30" font-family="Liberation Sans, sans-serif" font-size="7.2" text-anchor="start" font-weight="normal" font-style="normal" fill="#38b4ee" >t<tspan font-size="5" dy="1.5">sweep</tspan><tspan dy="-1.5"> = 10</tspan><tspan font-size="5" dy="-3">0</tspan><tspan dy="3"> s</tspan></text>
<rect x="570.3" y="287.7" width="108.50" height="85.60" fill="none" stroke="#5a5a5a" stroke-width="1.15"/>
<path d="M572.34,373.3v-1.8M572.34,287.7v1.8" stroke="#5a5a5a" stroke-width="1.15"/>
<path d="M574.35,373.3v-1.8M574.35,287.7v1.8" stroke="#5a5a5a" stroke-width="1.15"/>
<path d="M576.09,373.3v-1.8M576.09,287.7v1.8" stroke="#5a5a5a" stroke-width="1.15"/>
<path d="M577.63,373.3v-1.8M577.63,287.7v1.8" stroke="#5a5a5a" stroke-width="1.15"/>
<path d="M579.00,373.3v-3.2M579.00,287.7v3.2" stroke="#5a5a5a" stroke-width="1.15"/>
<text x="579.00" y="386.70" font-family="Liberation Sans, sans-serif" font-size="9.3" text-anchor="middle" font-weight="normal" font-style="normal" fill="#1e1e1e" stroke="#1e1e1e" stroke-width="0.18" >10<tspan font-size="6.8" dy="-4.4">-3</tspan></text>
<path d="M588.04,373.3v-1.8M588.04,287.7v1.8" stroke="#5a5a5a" stroke-width="1.15"/>
<path d="M593.33,373.3v-1.8M593.33,287.7v1.8" stroke="#5a5a5a" stroke-width="1.15"/>
<path d="M597.08,373.3v-1.8M597.08,287.7v1.8" stroke="#5a5a5a" stroke-width="1.15"/>
<path d="M599.99,373.3v-1.8M599.99,287.7v1.8" stroke="#5a5a5a" stroke-width="1.15"/>
<path d="M602.37,373.3v-1.8M602.37,287.7v1.8" stroke="#5a5a5a" stroke-width="1.15"/>
<path d="M604.38,373.3v-1.8M604.38,287.7v1.8" stroke="#5a5a5a" stroke-width="1.15"/>
<path d="M606.12,373.3v-1.8M606.12,287.7v1.8" stroke="#5a5a5a" stroke-width="1.15"/>
<path d="M607.66,373.3v-1.8M607.66,287.7v1.8" stroke="#5a5a5a" stroke-width="1.15"/>
<path d="M609.03,373.3v-3.2M609.03,287.7v3.2" stroke="#5a5a5a" stroke-width="1.15"/>
<text x="609.03" y="386.70" font-family="Liberation Sans, sans-serif" font-size="9.3" text-anchor="middle" font-weight="normal" font-style="normal" fill="#1e1e1e" stroke="#1e1e1e" stroke-width="0.18" >10<tspan font-size="6.8" dy="-4.4">-2</tspan></text>
<path d="M618.07,373.3v-1.8M618.07,287.7v1.8" stroke="#5a5a5a" stroke-width="1.15"/>
<path d="M623.36,373.3v-1.8M623.36,287.7v1.8" stroke="#5a5a5a" stroke-width="1.15"/>
<path d="M627.11,373.3v-1.8M627.11,287.7v1.8" stroke="#5a5a5a" stroke-width="1.15"/>
<path d="M630.02,373.3v-1.8M630.02,287.7v1.8" stroke="#5a5a5a" stroke-width="1.15"/>
<path d="M632.40,373.3v-1.8M632.40,287.7v1.8" stroke="#5a5a5a" stroke-width="1.15"/>
<path d="M634.41,373.3v-1.8M634.41,287.7v1.8" stroke="#5a5a5a" stroke-width="1.15"/>
<path d="M636.15,373.3v-1.8M636.15,287.7v1.8" stroke="#5a5a5a" stroke-width="1.15"/>
<path d="M637.69,373.3v-1.8M637.69,287.7v1.8" stroke="#5a5a5a" stroke-width="1.15"/>
<path d="M639.06,373.3v-3.2M639.06,287.7v3.2" stroke="#5a5a5a" stroke-width="1.15"/>
<text x="639.06" y="386.70" font-family="Liberation Sans, sans-serif" font-size="9.3" text-anchor="middle" font-weight="normal" font-style="normal" fill="#1e1e1e" stroke="#1e1e1e" stroke-width="0.18" >10<tspan font-size="6.8" dy="-4.4">-1</tspan></text>
<path d="M648.10,373.3v-1.8M648.10,287.7v1.8" stroke="#5a5a5a" stroke-width="1.15"/>
<path d="M653.39,373.3v-1.8M653.39,287.7v1.8" stroke="#5a5a5a" stroke-width="1.15"/>
<path d="M657.14,373.3v-1.8M657.14,287.7v1.8" stroke="#5a5a5a" stroke-width="1.15"/>
<path d="M660.05,373.3v-1.8M660.05,287.7v1.8" stroke="#5a5a5a" stroke-width="1.15"/>
<path d="M662.43,373.3v-1.8M662.43,287.7v1.8" stroke="#5a5a5a" stroke-width="1.15"/>
<path d="M664.44,373.3v-1.8M664.44,287.7v1.8" stroke="#5a5a5a" stroke-width="1.15"/>
<path d="M666.18,373.3v-1.8M666.18,287.7v1.8" stroke="#5a5a5a" stroke-width="1.15"/>
<path d="M667.72,373.3v-1.8M667.72,287.7v1.8" stroke="#5a5a5a" stroke-width="1.15"/>
<path d="M669.09,373.3v-3.2M669.09,287.7v3.2" stroke="#5a5a5a" stroke-width="1.15"/>
<text x="669.09" y="386.70" font-family="Liberation Sans, sans-serif" font-size="9.3" text-anchor="middle" font-weight="normal" font-style="normal" fill="#1e1e1e" stroke="#1e1e1e" stroke-width="0.18" >10<tspan font-size="6.8" dy="-4.4">0</tspan></text>
<path d="M678.13,373.3v-1.8M678.13,287.7v1.8" stroke="#5a5a5a" stroke-width="1.15"/>
<path d="M570.3,373.30h3M678.8,373.30h-3" stroke="#5a5a5a" stroke-width="1.15"/>
<text x="567.10" y="376.80" font-family="Liberation Sans, sans-serif" font-size="9.3" text-anchor="end" font-weight="normal" font-style="normal" fill="#1e1e1e" stroke="#1e1e1e" stroke-width="0.18" >0</text>
<path d="M570.3,351.90h3M678.8,351.90h-3" stroke="#5a5a5a" stroke-width="1.15"/>
<text x="567.10" y="355.40" font-family="Liberation Sans, sans-serif" font-size="9.3" text-anchor="end" font-weight="normal" font-style="normal" fill="#1e1e1e" stroke="#1e1e1e" stroke-width="0.18" >1</text>
<path d="M570.3,330.50h3M678.8,330.50h-3" stroke="#5a5a5a" stroke-width="1.15"/>
<text x="567.10" y="334.00" font-family="Liberation Sans, sans-serif" font-size="9.3" text-anchor="end" font-weight="normal" font-style="normal" fill="#1e1e1e" stroke="#1e1e1e" stroke-width="0.18" >2</text>
<path d="M570.3,309.10h3M678.8,309.10h-3" stroke="#5a5a5a" stroke-width="1.15"/>
<text x="567.10" y="312.60" font-family="Liberation Sans, sans-serif" font-size="9.3" text-anchor="end" font-weight="normal" font-style="normal" fill="#1e1e1e" stroke="#1e1e1e" stroke-width="0.18" >3</text>
<path d="M570.3,287.70h3M678.8,287.70h-3" stroke="#5a5a5a" stroke-width="1.15"/>
<text x="567.10" y="291.20" font-family="Liberation Sans, sans-serif" font-size="9.3" text-anchor="end" font-weight="normal" font-style="normal" fill="#1e1e1e" stroke="#1e1e1e" stroke-width="0.18" >4</text>
<text x="561.00" y="281.00" font-family="Liberation Sans, sans-serif" font-size="14" text-anchor="start" font-weight="bold" font-style="normal" fill="#000" >l</text>
<text transform="translate(554.70,328.20) rotate(-90)" font-family="Liberation Sans, sans-serif" font-size="10.8" text-anchor="middle" fill="#1e1e1e" stroke="#1e1e1e" stroke-width="0.18">V<tspan font-size="9" dy="4.5">Hyst</tspan><tspan dy="-4.5"> (V)</tspan></text>
<text x="623.70" y="399.00" font-family="Liberation Sans, sans-serif" font-size="10" text-anchor="middle" font-weight="normal" font-style="normal" fill="#1e1e1e" stroke="#1e1e1e" stroke-width="0.18" >t<tspan font-size="8.3" dy="4.3">sweep</tspan><tspan dy="-4.3" letter-spacing="0.3"> (s)</tspan></text>
<text x="573.80" y="303.30" font-family="Liberation Sans, sans-serif" font-size="8.5" text-anchor="start" font-weight="normal" font-style="normal" fill="#1e1e1e" stroke="#1e1e1e" stroke-width="0.18" >T= - 25°C</text>
<path d="M579.00,370.73 L609.03,367.95 L639.06,365.81 L669.09,303.75" fill="none" stroke="#2a8fe0" stroke-width="1.4" stroke-linejoin="round" stroke-linecap="round" opacity="1" stroke-dasharray="3.4,2.4"/>
<circle cx="579.00" cy="370.73" r="3.0" fill="#3ea2ea" stroke="#1a6fc0" stroke-width="1.1"/>
<circle cx="609.03" cy="367.95" r="3.0" fill="#3ea2ea" stroke="#1a6fc0" stroke-width="1.1"/>
<circle cx="639.06" cy="365.81" r="3.0" fill="#3ea2ea" stroke="#1a6fc0" stroke-width="1.1"/>
<circle cx="669.09" cy="303.75" r="3.0" fill="#3ea2ea" stroke="#1a6fc0" stroke-width="1.1"/>
</svg></body></html>
